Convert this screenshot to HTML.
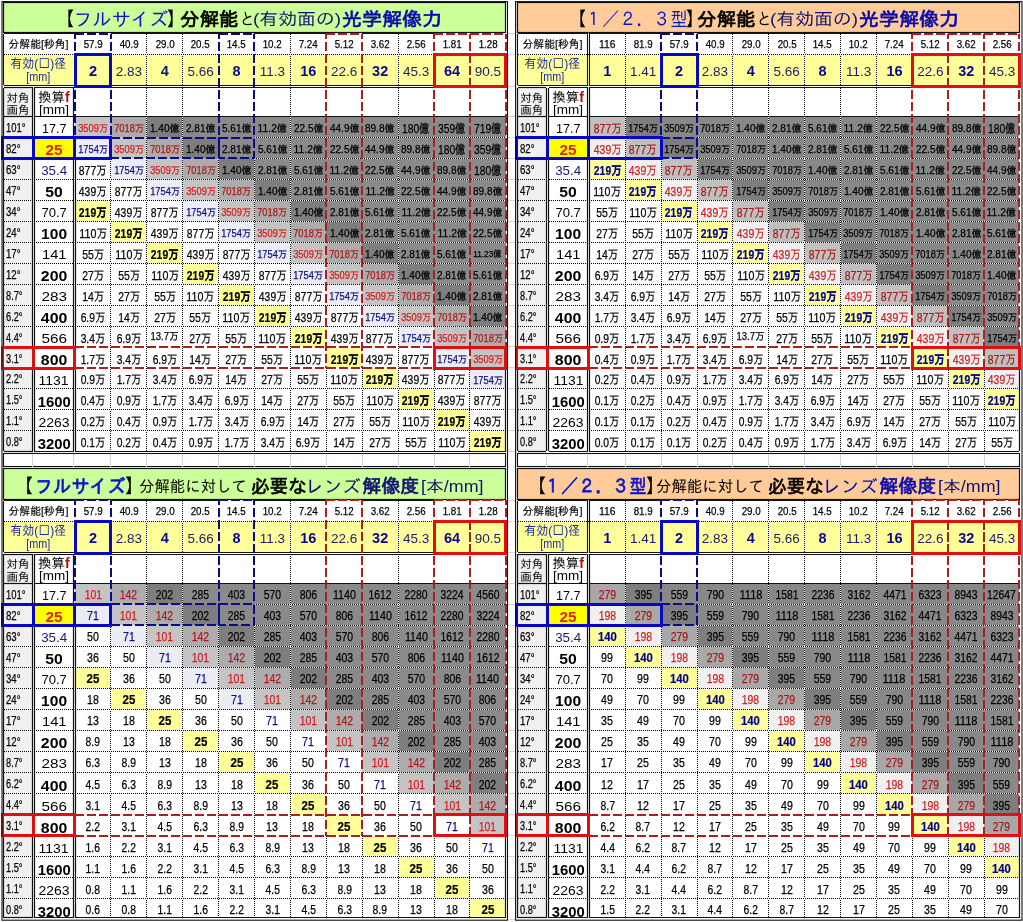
<!DOCTYPE html>
<html lang="ja"><head><meta charset="utf-8"><title>分解能と光学解像力</title>
<style>
html,body{margin:0;padding:0;background:#fff;}
body{width:1023px;height:922px;position:relative;overflow:hidden;font-family:"Liberation Sans","IPAGothic",sans-serif;}
svg{position:absolute;left:0;top:0;}
.t{position:absolute;text-align:center;white-space:nowrap;overflow:visible;color:#000;}
.fit{display:inline-block;transform-origin:50% 50%;white-space:nowrap;}
.d{font-size:12.5px;-webkit-text-stroke:.25px currentColor;}
.d.b{font-weight:bold;-webkit-text-stroke:.2px currentColor;}
.s10{font-size:10px;}
.s11{font-size:10px;}
.r{font-size:11.5px;}
.s9{font-size:10.5px;}
.s8{font-size:9px;}
.dia{font-size:13.5px;color:#1c1c6a;}
.dia.b{font-weight:bold;color:#0a0a90;font-size:14.5px;}
.lab1{font-size:11px;-webkit-text-stroke:.15px #000;}
.lab2{font-size:13px;color:#1a2aa0;}
.sq{font-family:"IPAGothic","Liberation Sans",sans-serif;}
.hd{font-size:11.5px;}
.hd2{font-size:13.5px;}
.f{color:#b01010;font-size:14px;}
.ang{font-size:12px;text-align:left;-webkit-text-stroke:.25px #000;}
.ang .fit{transform-origin:0 50%;}
.fv{font-size:13.5px;}
.fv.b{font-weight:bold;font-size:14.5px;letter-spacing:0;}
.ttl{position:absolute;height:26px;line-height:26px;white-space:nowrap;color:#000;}
.ttl .fit{transform-origin:0 50%;}
</style></head><body>
<svg width="1023" height="922" viewBox="0 0 1023 922">
<line x1="508.00" y1="116.50" x2="515.00" y2="116.50" stroke="#d8d4d8" stroke-width="1"/>
<line x1="1022.00" y1="116.50" x2="1023.00" y2="116.50" stroke="#d8d4d8" stroke-width="1"/>
<line x1="508.00" y1="137.50" x2="515.00" y2="137.50" stroke="#d8d4d8" stroke-width="1"/>
<line x1="1022.00" y1="137.50" x2="1023.00" y2="137.50" stroke="#d8d4d8" stroke-width="1"/>
<line x1="508.00" y1="158.50" x2="515.00" y2="158.50" stroke="#d8d4d8" stroke-width="1"/>
<line x1="1022.00" y1="158.50" x2="1023.00" y2="158.50" stroke="#d8d4d8" stroke-width="1"/>
<line x1="508.00" y1="179.50" x2="515.00" y2="179.50" stroke="#d8d4d8" stroke-width="1"/>
<line x1="1022.00" y1="179.50" x2="1023.00" y2="179.50" stroke="#d8d4d8" stroke-width="1"/>
<line x1="508.00" y1="200.50" x2="515.00" y2="200.50" stroke="#d8d4d8" stroke-width="1"/>
<line x1="1022.00" y1="200.50" x2="1023.00" y2="200.50" stroke="#d8d4d8" stroke-width="1"/>
<line x1="508.00" y1="221.50" x2="515.00" y2="221.50" stroke="#d8d4d8" stroke-width="1"/>
<line x1="1022.00" y1="221.50" x2="1023.00" y2="221.50" stroke="#d8d4d8" stroke-width="1"/>
<line x1="508.00" y1="242.50" x2="515.00" y2="242.50" stroke="#d8d4d8" stroke-width="1"/>
<line x1="1022.00" y1="242.50" x2="1023.00" y2="242.50" stroke="#d8d4d8" stroke-width="1"/>
<line x1="508.00" y1="263.50" x2="515.00" y2="263.50" stroke="#d8d4d8" stroke-width="1"/>
<line x1="1022.00" y1="263.50" x2="1023.00" y2="263.50" stroke="#d8d4d8" stroke-width="1"/>
<line x1="508.00" y1="284.50" x2="515.00" y2="284.50" stroke="#d8d4d8" stroke-width="1"/>
<line x1="1022.00" y1="284.50" x2="1023.00" y2="284.50" stroke="#d8d4d8" stroke-width="1"/>
<line x1="508.00" y1="305.50" x2="515.00" y2="305.50" stroke="#d8d4d8" stroke-width="1"/>
<line x1="1022.00" y1="305.50" x2="1023.00" y2="305.50" stroke="#d8d4d8" stroke-width="1"/>
<line x1="508.00" y1="326.50" x2="515.00" y2="326.50" stroke="#d8d4d8" stroke-width="1"/>
<line x1="1022.00" y1="326.50" x2="1023.00" y2="326.50" stroke="#d8d4d8" stroke-width="1"/>
<line x1="508.00" y1="346.50" x2="515.00" y2="346.50" stroke="#d8d4d8" stroke-width="1"/>
<line x1="1022.00" y1="346.50" x2="1023.00" y2="346.50" stroke="#d8d4d8" stroke-width="1"/>
<line x1="508.00" y1="367.50" x2="515.00" y2="367.50" stroke="#d8d4d8" stroke-width="1"/>
<line x1="1022.00" y1="367.50" x2="1023.00" y2="367.50" stroke="#d8d4d8" stroke-width="1"/>
<line x1="508.00" y1="388.50" x2="515.00" y2="388.50" stroke="#d8d4d8" stroke-width="1"/>
<line x1="1022.00" y1="388.50" x2="1023.00" y2="388.50" stroke="#d8d4d8" stroke-width="1"/>
<line x1="508.00" y1="409.50" x2="515.00" y2="409.50" stroke="#d8d4d8" stroke-width="1"/>
<line x1="1022.00" y1="409.50" x2="1023.00" y2="409.50" stroke="#d8d4d8" stroke-width="1"/>
<line x1="508.00" y1="430.50" x2="515.00" y2="430.50" stroke="#d8d4d8" stroke-width="1"/>
<line x1="1022.00" y1="430.50" x2="1023.00" y2="430.50" stroke="#d8d4d8" stroke-width="1"/>
<line x1="508.00" y1="451.50" x2="515.00" y2="451.50" stroke="#d8d4d8" stroke-width="1"/>
<line x1="1022.00" y1="451.50" x2="1023.00" y2="451.50" stroke="#d8d4d8" stroke-width="1"/>
<line x1="508.00" y1="33.50" x2="515.00" y2="33.50" stroke="#d8d4d8" stroke-width="1"/>
<line x1="1022.00" y1="33.50" x2="1023.00" y2="33.50" stroke="#d8d4d8" stroke-width="1"/>
<line x1="508.00" y1="54.50" x2="515.00" y2="54.50" stroke="#d8d4d8" stroke-width="1"/>
<line x1="1022.00" y1="54.50" x2="1023.00" y2="54.50" stroke="#d8d4d8" stroke-width="1"/>
<line x1="508.00" y1="86.50" x2="515.00" y2="86.50" stroke="#d8d4d8" stroke-width="1"/>
<line x1="1022.00" y1="86.50" x2="1023.00" y2="86.50" stroke="#d8d4d8" stroke-width="1"/>
<line x1="508.00" y1="583.50" x2="515.00" y2="583.50" stroke="#d8d4d8" stroke-width="1"/>
<line x1="1022.00" y1="583.50" x2="1023.00" y2="583.50" stroke="#d8d4d8" stroke-width="1"/>
<line x1="508.00" y1="604.50" x2="515.00" y2="604.50" stroke="#d8d4d8" stroke-width="1"/>
<line x1="1022.00" y1="604.50" x2="1023.00" y2="604.50" stroke="#d8d4d8" stroke-width="1"/>
<line x1="508.00" y1="625.50" x2="515.00" y2="625.50" stroke="#d8d4d8" stroke-width="1"/>
<line x1="1022.00" y1="625.50" x2="1023.00" y2="625.50" stroke="#d8d4d8" stroke-width="1"/>
<line x1="508.00" y1="646.50" x2="515.00" y2="646.50" stroke="#d8d4d8" stroke-width="1"/>
<line x1="1022.00" y1="646.50" x2="1023.00" y2="646.50" stroke="#d8d4d8" stroke-width="1"/>
<line x1="508.00" y1="667.50" x2="515.00" y2="667.50" stroke="#d8d4d8" stroke-width="1"/>
<line x1="1022.00" y1="667.50" x2="1023.00" y2="667.50" stroke="#d8d4d8" stroke-width="1"/>
<line x1="508.00" y1="688.50" x2="515.00" y2="688.50" stroke="#d8d4d8" stroke-width="1"/>
<line x1="1022.00" y1="688.50" x2="1023.00" y2="688.50" stroke="#d8d4d8" stroke-width="1"/>
<line x1="508.00" y1="709.50" x2="515.00" y2="709.50" stroke="#d8d4d8" stroke-width="1"/>
<line x1="1022.00" y1="709.50" x2="1023.00" y2="709.50" stroke="#d8d4d8" stroke-width="1"/>
<line x1="508.00" y1="730.50" x2="515.00" y2="730.50" stroke="#d8d4d8" stroke-width="1"/>
<line x1="1022.00" y1="730.50" x2="1023.00" y2="730.50" stroke="#d8d4d8" stroke-width="1"/>
<line x1="508.00" y1="751.50" x2="515.00" y2="751.50" stroke="#d8d4d8" stroke-width="1"/>
<line x1="1022.00" y1="751.50" x2="1023.00" y2="751.50" stroke="#d8d4d8" stroke-width="1"/>
<line x1="508.00" y1="772.50" x2="515.00" y2="772.50" stroke="#d8d4d8" stroke-width="1"/>
<line x1="1022.00" y1="772.50" x2="1023.00" y2="772.50" stroke="#d8d4d8" stroke-width="1"/>
<line x1="508.00" y1="793.50" x2="515.00" y2="793.50" stroke="#d8d4d8" stroke-width="1"/>
<line x1="1022.00" y1="793.50" x2="1023.00" y2="793.50" stroke="#d8d4d8" stroke-width="1"/>
<line x1="508.00" y1="814.50" x2="515.00" y2="814.50" stroke="#d8d4d8" stroke-width="1"/>
<line x1="1022.00" y1="814.50" x2="1023.00" y2="814.50" stroke="#d8d4d8" stroke-width="1"/>
<line x1="508.00" y1="835.50" x2="515.00" y2="835.50" stroke="#d8d4d8" stroke-width="1"/>
<line x1="1022.00" y1="835.50" x2="1023.00" y2="835.50" stroke="#d8d4d8" stroke-width="1"/>
<line x1="508.00" y1="856.50" x2="515.00" y2="856.50" stroke="#d8d4d8" stroke-width="1"/>
<line x1="1022.00" y1="856.50" x2="1023.00" y2="856.50" stroke="#d8d4d8" stroke-width="1"/>
<line x1="508.00" y1="877.50" x2="515.00" y2="877.50" stroke="#d8d4d8" stroke-width="1"/>
<line x1="1022.00" y1="877.50" x2="1023.00" y2="877.50" stroke="#d8d4d8" stroke-width="1"/>
<line x1="508.00" y1="898.50" x2="515.00" y2="898.50" stroke="#d8d4d8" stroke-width="1"/>
<line x1="1022.00" y1="898.50" x2="1023.00" y2="898.50" stroke="#d8d4d8" stroke-width="1"/>
<line x1="508.00" y1="919.50" x2="515.00" y2="919.50" stroke="#d8d4d8" stroke-width="1"/>
<line x1="1022.00" y1="919.50" x2="1023.00" y2="919.50" stroke="#d8d4d8" stroke-width="1"/>
<line x1="508.00" y1="500.50" x2="515.00" y2="500.50" stroke="#d8d4d8" stroke-width="1"/>
<line x1="1022.00" y1="500.50" x2="1023.00" y2="500.50" stroke="#d8d4d8" stroke-width="1"/>
<line x1="508.00" y1="521.50" x2="515.00" y2="521.50" stroke="#d8d4d8" stroke-width="1"/>
<line x1="1022.00" y1="521.50" x2="1023.00" y2="521.50" stroke="#d8d4d8" stroke-width="1"/>
<line x1="508.00" y1="552.50" x2="515.00" y2="552.50" stroke="#d8d4d8" stroke-width="1"/>
<line x1="1022.00" y1="552.50" x2="1023.00" y2="552.50" stroke="#d8d4d8" stroke-width="1"/>
<rect x="3.00" y="2.00" width="503.00" height="30.00" fill="#ccff99"/>
<rect x="4.00" y="54.00" width="502.00" height="31.00" fill="#ffff99"/>
<rect x="4.00" y="88.00" width="29.00" height="363.00" fill="#f0f0f0"/>
<rect x="75.00" y="116.00" width="36.00" height="21.00" fill="#c4c4c4"/>
<rect x="111.00" y="116.00" width="36.00" height="21.00" fill="#acacac"/>
<rect x="147.00" y="116.00" width="36.00" height="21.00" fill="#7e7e7e"/>
<rect x="183.00" y="116.00" width="36.00" height="21.00" fill="#8a8a8a"/>
<rect x="219.00" y="116.00" width="35.00" height="21.00" fill="#8a8a8a"/>
<rect x="254.00" y="116.00" width="36.00" height="21.00" fill="#8a8a8a"/>
<rect x="290.00" y="116.00" width="36.00" height="21.00" fill="#8a8a8a"/>
<rect x="326.00" y="116.00" width="36.00" height="21.00" fill="#8a8a8a"/>
<rect x="362.00" y="116.00" width="36.00" height="21.00" fill="#8a8a8a"/>
<rect x="398.00" y="116.00" width="36.00" height="21.00" fill="#8a8a8a"/>
<rect x="434.00" y="116.00" width="36.00" height="21.00" fill="#8a8a8a"/>
<rect x="470.00" y="116.00" width="36.00" height="21.00" fill="#8a8a8a"/>
<rect x="75.00" y="137.00" width="36.00" height="21.00" fill="#ececf5"/>
<rect x="111.00" y="137.00" width="36.00" height="21.00" fill="#c4c4c4"/>
<rect x="147.00" y="137.00" width="36.00" height="21.00" fill="#acacac"/>
<rect x="183.00" y="137.00" width="36.00" height="21.00" fill="#7e7e7e"/>
<rect x="219.00" y="137.00" width="35.00" height="21.00" fill="#8a8a8a"/>
<rect x="254.00" y="137.00" width="36.00" height="21.00" fill="#8a8a8a"/>
<rect x="290.00" y="137.00" width="36.00" height="21.00" fill="#8a8a8a"/>
<rect x="326.00" y="137.00" width="36.00" height="21.00" fill="#8a8a8a"/>
<rect x="362.00" y="137.00" width="36.00" height="21.00" fill="#8a8a8a"/>
<rect x="398.00" y="137.00" width="36.00" height="21.00" fill="#8a8a8a"/>
<rect x="434.00" y="137.00" width="36.00" height="21.00" fill="#8a8a8a"/>
<rect x="470.00" y="137.00" width="36.00" height="21.00" fill="#8a8a8a"/>
<rect x="111.00" y="158.00" width="36.00" height="21.00" fill="#ececf5"/>
<rect x="147.00" y="158.00" width="36.00" height="21.00" fill="#c4c4c4"/>
<rect x="183.00" y="158.00" width="36.00" height="21.00" fill="#acacac"/>
<rect x="219.00" y="158.00" width="35.00" height="21.00" fill="#7e7e7e"/>
<rect x="254.00" y="158.00" width="36.00" height="21.00" fill="#8a8a8a"/>
<rect x="290.00" y="158.00" width="36.00" height="21.00" fill="#8a8a8a"/>
<rect x="326.00" y="158.00" width="36.00" height="21.00" fill="#8a8a8a"/>
<rect x="362.00" y="158.00" width="36.00" height="21.00" fill="#8a8a8a"/>
<rect x="398.00" y="158.00" width="36.00" height="21.00" fill="#8a8a8a"/>
<rect x="434.00" y="158.00" width="36.00" height="21.00" fill="#8a8a8a"/>
<rect x="470.00" y="158.00" width="36.00" height="21.00" fill="#8a8a8a"/>
<rect x="147.00" y="179.00" width="36.00" height="21.00" fill="#ececf5"/>
<rect x="183.00" y="179.00" width="36.00" height="21.00" fill="#c4c4c4"/>
<rect x="219.00" y="179.00" width="35.00" height="21.00" fill="#acacac"/>
<rect x="254.00" y="179.00" width="36.00" height="21.00" fill="#7e7e7e"/>
<rect x="290.00" y="179.00" width="36.00" height="21.00" fill="#8a8a8a"/>
<rect x="326.00" y="179.00" width="36.00" height="21.00" fill="#8a8a8a"/>
<rect x="362.00" y="179.00" width="36.00" height="21.00" fill="#8a8a8a"/>
<rect x="398.00" y="179.00" width="36.00" height="21.00" fill="#8a8a8a"/>
<rect x="434.00" y="179.00" width="36.00" height="21.00" fill="#8a8a8a"/>
<rect x="470.00" y="179.00" width="36.00" height="21.00" fill="#8a8a8a"/>
<rect x="75.00" y="200.00" width="36.00" height="21.00" fill="#ffff99"/>
<rect x="183.00" y="200.00" width="36.00" height="21.00" fill="#ececf5"/>
<rect x="219.00" y="200.00" width="35.00" height="21.00" fill="#c4c4c4"/>
<rect x="254.00" y="200.00" width="36.00" height="21.00" fill="#acacac"/>
<rect x="290.00" y="200.00" width="36.00" height="21.00" fill="#7e7e7e"/>
<rect x="326.00" y="200.00" width="36.00" height="21.00" fill="#8a8a8a"/>
<rect x="362.00" y="200.00" width="36.00" height="21.00" fill="#8a8a8a"/>
<rect x="398.00" y="200.00" width="36.00" height="21.00" fill="#8a8a8a"/>
<rect x="434.00" y="200.00" width="36.00" height="21.00" fill="#8a8a8a"/>
<rect x="470.00" y="200.00" width="36.00" height="21.00" fill="#8a8a8a"/>
<rect x="111.00" y="221.00" width="36.00" height="21.00" fill="#ffff99"/>
<rect x="219.00" y="221.00" width="35.00" height="21.00" fill="#ececf5"/>
<rect x="254.00" y="221.00" width="36.00" height="21.00" fill="#c4c4c4"/>
<rect x="290.00" y="221.00" width="36.00" height="21.00" fill="#acacac"/>
<rect x="326.00" y="221.00" width="36.00" height="21.00" fill="#7e7e7e"/>
<rect x="362.00" y="221.00" width="36.00" height="21.00" fill="#8a8a8a"/>
<rect x="398.00" y="221.00" width="36.00" height="21.00" fill="#8a8a8a"/>
<rect x="434.00" y="221.00" width="36.00" height="21.00" fill="#8a8a8a"/>
<rect x="470.00" y="221.00" width="36.00" height="21.00" fill="#8a8a8a"/>
<rect x="147.00" y="242.00" width="36.00" height="21.00" fill="#ffff99"/>
<rect x="254.00" y="242.00" width="36.00" height="21.00" fill="#ececf5"/>
<rect x="290.00" y="242.00" width="36.00" height="21.00" fill="#c4c4c4"/>
<rect x="326.00" y="242.00" width="36.00" height="21.00" fill="#acacac"/>
<rect x="362.00" y="242.00" width="36.00" height="21.00" fill="#7e7e7e"/>
<rect x="398.00" y="242.00" width="36.00" height="21.00" fill="#8a8a8a"/>
<rect x="434.00" y="242.00" width="36.00" height="21.00" fill="#8a8a8a"/>
<rect x="470.00" y="242.00" width="36.00" height="21.00" fill="#8a8a8a"/>
<rect x="183.00" y="263.00" width="36.00" height="21.00" fill="#ffff99"/>
<rect x="290.00" y="263.00" width="36.00" height="21.00" fill="#ececf5"/>
<rect x="326.00" y="263.00" width="36.00" height="21.00" fill="#c4c4c4"/>
<rect x="362.00" y="263.00" width="36.00" height="21.00" fill="#acacac"/>
<rect x="398.00" y="263.00" width="36.00" height="21.00" fill="#7e7e7e"/>
<rect x="434.00" y="263.00" width="36.00" height="21.00" fill="#8a8a8a"/>
<rect x="470.00" y="263.00" width="36.00" height="21.00" fill="#8a8a8a"/>
<rect x="219.00" y="284.00" width="35.00" height="21.00" fill="#ffff99"/>
<rect x="326.00" y="284.00" width="36.00" height="21.00" fill="#ececf5"/>
<rect x="362.00" y="284.00" width="36.00" height="21.00" fill="#c4c4c4"/>
<rect x="398.00" y="284.00" width="36.00" height="21.00" fill="#acacac"/>
<rect x="434.00" y="284.00" width="36.00" height="21.00" fill="#7e7e7e"/>
<rect x="470.00" y="284.00" width="36.00" height="21.00" fill="#8a8a8a"/>
<rect x="254.00" y="305.00" width="36.00" height="21.00" fill="#ffff99"/>
<rect x="362.00" y="305.00" width="36.00" height="21.00" fill="#ececf5"/>
<rect x="398.00" y="305.00" width="36.00" height="21.00" fill="#c4c4c4"/>
<rect x="434.00" y="305.00" width="36.00" height="21.00" fill="#acacac"/>
<rect x="470.00" y="305.00" width="36.00" height="21.00" fill="#7e7e7e"/>
<rect x="290.00" y="326.00" width="36.00" height="21.00" fill="#ffff99"/>
<rect x="398.00" y="326.00" width="36.00" height="21.00" fill="#ececf5"/>
<rect x="434.00" y="326.00" width="36.00" height="21.00" fill="#c4c4c4"/>
<rect x="470.00" y="326.00" width="36.00" height="21.00" fill="#acacac"/>
<rect x="326.00" y="347.00" width="36.00" height="21.00" fill="#ffff99"/>
<rect x="434.00" y="347.00" width="36.00" height="21.00" fill="#ececf5"/>
<rect x="470.00" y="347.00" width="36.00" height="21.00" fill="#c4c4c4"/>
<rect x="362.00" y="368.00" width="36.00" height="21.00" fill="#ffff99"/>
<rect x="470.00" y="368.00" width="36.00" height="21.00" fill="#ececf5"/>
<rect x="398.00" y="389.00" width="36.00" height="21.00" fill="#ffff99"/>
<rect x="434.00" y="410.00" width="36.00" height="21.00" fill="#ffff99"/>
<rect x="470.00" y="431.00" width="36.00" height="20.00" fill="#ffff99"/>
<rect x="35.00" y="139.00" width="38.00" height="18.00" fill="#ffff00"/>
<line x1="110.50" y1="159.00" x2="110.50" y2="451.00" stroke="#fff" stroke-width="1"/>
<line x1="110.50" y1="159.00" x2="110.50" y2="451.00" stroke="#000" stroke-width="1" stroke-dasharray="1 1"/>
<line x1="146.50" y1="34.00" x2="146.50" y2="85.00" stroke="#fff" stroke-width="1"/>
<line x1="146.50" y1="34.00" x2="146.50" y2="85.00" stroke="#000" stroke-width="1" stroke-dasharray="1 1"/>
<line x1="146.50" y1="88.00" x2="146.50" y2="451.00" stroke="#fff" stroke-width="1"/>
<line x1="146.50" y1="88.00" x2="146.50" y2="451.00" stroke="#000" stroke-width="1" stroke-dasharray="1 1"/>
<line x1="182.50" y1="34.00" x2="182.50" y2="85.00" stroke="#fff" stroke-width="1"/>
<line x1="182.50" y1="34.00" x2="182.50" y2="85.00" stroke="#000" stroke-width="1" stroke-dasharray="1 1"/>
<line x1="182.50" y1="88.00" x2="182.50" y2="451.00" stroke="#fff" stroke-width="1"/>
<line x1="182.50" y1="88.00" x2="182.50" y2="451.00" stroke="#000" stroke-width="1" stroke-dasharray="1 1"/>
<line x1="218.50" y1="158.00" x2="218.50" y2="451.00" stroke="#fff" stroke-width="1"/>
<line x1="218.50" y1="158.00" x2="218.50" y2="451.00" stroke="#000" stroke-width="1" stroke-dasharray="1 1"/>
<line x1="254.50" y1="158.00" x2="254.50" y2="451.00" stroke="#fff" stroke-width="1"/>
<line x1="254.50" y1="158.00" x2="254.50" y2="451.00" stroke="#000" stroke-width="1" stroke-dasharray="1 1"/>
<line x1="290.50" y1="34.00" x2="290.50" y2="85.00" stroke="#fff" stroke-width="1"/>
<line x1="290.50" y1="34.00" x2="290.50" y2="85.00" stroke="#000" stroke-width="1" stroke-dasharray="1 1"/>
<line x1="290.50" y1="88.00" x2="290.50" y2="451.00" stroke="#fff" stroke-width="1"/>
<line x1="290.50" y1="88.00" x2="290.50" y2="451.00" stroke="#000" stroke-width="1" stroke-dasharray="1 1"/>
<line x1="326.50" y1="368.00" x2="326.50" y2="451.00" stroke="#fff" stroke-width="1"/>
<line x1="326.50" y1="368.00" x2="326.50" y2="451.00" stroke="#000" stroke-width="1" stroke-dasharray="1 1"/>
<line x1="362.50" y1="368.00" x2="362.50" y2="451.00" stroke="#fff" stroke-width="1"/>
<line x1="362.50" y1="368.00" x2="362.50" y2="451.00" stroke="#000" stroke-width="1" stroke-dasharray="1 1"/>
<line x1="398.50" y1="34.00" x2="398.50" y2="85.00" stroke="#fff" stroke-width="1"/>
<line x1="398.50" y1="34.00" x2="398.50" y2="85.00" stroke="#000" stroke-width="1" stroke-dasharray="1 1"/>
<line x1="398.50" y1="88.00" x2="398.50" y2="451.00" stroke="#fff" stroke-width="1"/>
<line x1="398.50" y1="88.00" x2="398.50" y2="451.00" stroke="#000" stroke-width="1" stroke-dasharray="1 1"/>
<line x1="434.50" y1="368.00" x2="434.50" y2="451.00" stroke="#fff" stroke-width="1"/>
<line x1="434.50" y1="368.00" x2="434.50" y2="451.00" stroke="#000" stroke-width="1" stroke-dasharray="1 1"/>
<line x1="469.50" y1="368.00" x2="469.50" y2="451.00" stroke="#fff" stroke-width="1"/>
<line x1="469.50" y1="368.00" x2="469.50" y2="451.00" stroke="#000" stroke-width="1" stroke-dasharray="1 1"/>
<line x1="4.00" y1="54.50" x2="75.00" y2="54.50" stroke="#fff" stroke-width="1"/>
<line x1="4.00" y1="54.50" x2="75.00" y2="54.50" stroke="#000" stroke-width="1" stroke-dasharray="1 1"/>
<line x1="111.00" y1="54.50" x2="434.00" y2="54.50" stroke="#fff" stroke-width="1"/>
<line x1="111.00" y1="54.50" x2="434.00" y2="54.50" stroke="#000" stroke-width="1" stroke-dasharray="1 1"/>
<line x1="254.00" y1="137.50" x2="506.00" y2="137.50" stroke="#fff" stroke-width="1"/>
<line x1="254.00" y1="137.50" x2="506.00" y2="137.50" stroke="#000" stroke-width="1" stroke-dasharray="1 1"/>
<line x1="254.00" y1="158.50" x2="506.00" y2="158.50" stroke="#fff" stroke-width="1"/>
<line x1="254.00" y1="158.50" x2="506.00" y2="158.50" stroke="#000" stroke-width="1" stroke-dasharray="1 1"/>
<line x1="4.00" y1="179.50" x2="33.00" y2="179.50" stroke="#fff" stroke-width="1"/>
<line x1="4.00" y1="179.50" x2="33.00" y2="179.50" stroke="#000" stroke-width="1" stroke-dasharray="1 1"/>
<line x1="34.00" y1="179.50" x2="74.00" y2="179.50" stroke="#fff" stroke-width="1"/>
<line x1="34.00" y1="179.50" x2="74.00" y2="179.50" stroke="#000" stroke-width="1" stroke-dasharray="1 1"/>
<line x1="75.00" y1="179.50" x2="506.00" y2="179.50" stroke="#fff" stroke-width="1"/>
<line x1="75.00" y1="179.50" x2="506.00" y2="179.50" stroke="#000" stroke-width="1" stroke-dasharray="1 1"/>
<line x1="4.00" y1="200.50" x2="33.00" y2="200.50" stroke="#fff" stroke-width="1"/>
<line x1="4.00" y1="200.50" x2="33.00" y2="200.50" stroke="#000" stroke-width="1" stroke-dasharray="1 1"/>
<line x1="34.00" y1="200.50" x2="74.00" y2="200.50" stroke="#fff" stroke-width="1"/>
<line x1="34.00" y1="200.50" x2="74.00" y2="200.50" stroke="#000" stroke-width="1" stroke-dasharray="1 1"/>
<line x1="75.00" y1="200.50" x2="506.00" y2="200.50" stroke="#fff" stroke-width="1"/>
<line x1="75.00" y1="200.50" x2="506.00" y2="200.50" stroke="#000" stroke-width="1" stroke-dasharray="1 1"/>
<line x1="4.00" y1="221.50" x2="33.00" y2="221.50" stroke="#fff" stroke-width="1"/>
<line x1="4.00" y1="221.50" x2="33.00" y2="221.50" stroke="#000" stroke-width="1" stroke-dasharray="1 1"/>
<line x1="34.00" y1="221.50" x2="74.00" y2="221.50" stroke="#fff" stroke-width="1"/>
<line x1="34.00" y1="221.50" x2="74.00" y2="221.50" stroke="#000" stroke-width="1" stroke-dasharray="1 1"/>
<line x1="75.00" y1="221.50" x2="506.00" y2="221.50" stroke="#fff" stroke-width="1"/>
<line x1="75.00" y1="221.50" x2="506.00" y2="221.50" stroke="#000" stroke-width="1" stroke-dasharray="1 1"/>
<line x1="4.00" y1="242.50" x2="33.00" y2="242.50" stroke="#fff" stroke-width="1"/>
<line x1="4.00" y1="242.50" x2="33.00" y2="242.50" stroke="#000" stroke-width="1" stroke-dasharray="1 1"/>
<line x1="34.00" y1="242.50" x2="74.00" y2="242.50" stroke="#fff" stroke-width="1"/>
<line x1="34.00" y1="242.50" x2="74.00" y2="242.50" stroke="#000" stroke-width="1" stroke-dasharray="1 1"/>
<line x1="75.00" y1="242.50" x2="506.00" y2="242.50" stroke="#fff" stroke-width="1"/>
<line x1="75.00" y1="242.50" x2="506.00" y2="242.50" stroke="#000" stroke-width="1" stroke-dasharray="1 1"/>
<line x1="4.00" y1="263.50" x2="33.00" y2="263.50" stroke="#fff" stroke-width="1"/>
<line x1="4.00" y1="263.50" x2="33.00" y2="263.50" stroke="#000" stroke-width="1" stroke-dasharray="1 1"/>
<line x1="34.00" y1="263.50" x2="74.00" y2="263.50" stroke="#fff" stroke-width="1"/>
<line x1="34.00" y1="263.50" x2="74.00" y2="263.50" stroke="#000" stroke-width="1" stroke-dasharray="1 1"/>
<line x1="75.00" y1="263.50" x2="506.00" y2="263.50" stroke="#fff" stroke-width="1"/>
<line x1="75.00" y1="263.50" x2="506.00" y2="263.50" stroke="#000" stroke-width="1" stroke-dasharray="1 1"/>
<line x1="4.00" y1="284.50" x2="33.00" y2="284.50" stroke="#fff" stroke-width="1"/>
<line x1="4.00" y1="284.50" x2="33.00" y2="284.50" stroke="#000" stroke-width="1" stroke-dasharray="1 1"/>
<line x1="34.00" y1="284.50" x2="74.00" y2="284.50" stroke="#fff" stroke-width="1"/>
<line x1="34.00" y1="284.50" x2="74.00" y2="284.50" stroke="#000" stroke-width="1" stroke-dasharray="1 1"/>
<line x1="75.00" y1="284.50" x2="506.00" y2="284.50" stroke="#fff" stroke-width="1"/>
<line x1="75.00" y1="284.50" x2="506.00" y2="284.50" stroke="#000" stroke-width="1" stroke-dasharray="1 1"/>
<line x1="4.00" y1="305.50" x2="33.00" y2="305.50" stroke="#fff" stroke-width="1"/>
<line x1="4.00" y1="305.50" x2="33.00" y2="305.50" stroke="#000" stroke-width="1" stroke-dasharray="1 1"/>
<line x1="34.00" y1="305.50" x2="74.00" y2="305.50" stroke="#fff" stroke-width="1"/>
<line x1="34.00" y1="305.50" x2="74.00" y2="305.50" stroke="#000" stroke-width="1" stroke-dasharray="1 1"/>
<line x1="75.00" y1="305.50" x2="506.00" y2="305.50" stroke="#fff" stroke-width="1"/>
<line x1="75.00" y1="305.50" x2="506.00" y2="305.50" stroke="#000" stroke-width="1" stroke-dasharray="1 1"/>
<line x1="4.00" y1="326.50" x2="33.00" y2="326.50" stroke="#fff" stroke-width="1"/>
<line x1="4.00" y1="326.50" x2="33.00" y2="326.50" stroke="#000" stroke-width="1" stroke-dasharray="1 1"/>
<line x1="34.00" y1="326.50" x2="74.00" y2="326.50" stroke="#fff" stroke-width="1"/>
<line x1="34.00" y1="326.50" x2="74.00" y2="326.50" stroke="#000" stroke-width="1" stroke-dasharray="1 1"/>
<line x1="75.00" y1="326.50" x2="506.00" y2="326.50" stroke="#fff" stroke-width="1"/>
<line x1="75.00" y1="326.50" x2="506.00" y2="326.50" stroke="#000" stroke-width="1" stroke-dasharray="1 1"/>
<line x1="4.00" y1="388.50" x2="33.00" y2="388.50" stroke="#fff" stroke-width="1"/>
<line x1="4.00" y1="388.50" x2="33.00" y2="388.50" stroke="#000" stroke-width="1" stroke-dasharray="1 1"/>
<line x1="34.00" y1="388.50" x2="74.00" y2="388.50" stroke="#fff" stroke-width="1"/>
<line x1="34.00" y1="388.50" x2="74.00" y2="388.50" stroke="#000" stroke-width="1" stroke-dasharray="1 1"/>
<line x1="75.00" y1="388.50" x2="506.00" y2="388.50" stroke="#fff" stroke-width="1"/>
<line x1="75.00" y1="388.50" x2="506.00" y2="388.50" stroke="#000" stroke-width="1" stroke-dasharray="1 1"/>
<line x1="4.00" y1="409.50" x2="33.00" y2="409.50" stroke="#fff" stroke-width="1"/>
<line x1="4.00" y1="409.50" x2="33.00" y2="409.50" stroke="#000" stroke-width="1" stroke-dasharray="1 1"/>
<line x1="34.00" y1="409.50" x2="74.00" y2="409.50" stroke="#fff" stroke-width="1"/>
<line x1="34.00" y1="409.50" x2="74.00" y2="409.50" stroke="#000" stroke-width="1" stroke-dasharray="1 1"/>
<line x1="75.00" y1="409.50" x2="506.00" y2="409.50" stroke="#fff" stroke-width="1"/>
<line x1="75.00" y1="409.50" x2="506.00" y2="409.50" stroke="#000" stroke-width="1" stroke-dasharray="1 1"/>
<line x1="4.00" y1="430.50" x2="33.00" y2="430.50" stroke="#fff" stroke-width="1"/>
<line x1="4.00" y1="430.50" x2="33.00" y2="430.50" stroke="#000" stroke-width="1" stroke-dasharray="1 1"/>
<line x1="34.00" y1="430.50" x2="74.00" y2="430.50" stroke="#fff" stroke-width="1"/>
<line x1="34.00" y1="430.50" x2="74.00" y2="430.50" stroke="#000" stroke-width="1" stroke-dasharray="1 1"/>
<line x1="75.00" y1="430.50" x2="506.00" y2="430.50" stroke="#fff" stroke-width="1"/>
<line x1="75.00" y1="430.50" x2="506.00" y2="430.50" stroke="#000" stroke-width="1" stroke-dasharray="1 1"/>
<rect x="3.50" y="2.50" width="502.00" height="30.00" fill="none" stroke="#111" stroke-width="1.2"/>
<line x1="4.00" y1="33.50" x2="75.00" y2="33.50" stroke="#111" stroke-width="1.1"/>
<line x1="111.00" y1="33.50" x2="219.00" y2="33.50" stroke="#111" stroke-width="1.1"/>
<line x1="254.00" y1="33.50" x2="326.00" y2="33.50" stroke="#111" stroke-width="1.1"/>
<line x1="362.00" y1="33.50" x2="434.00" y2="33.50" stroke="#111" stroke-width="1.1"/>
<line x1="4.00" y1="85.50" x2="75.00" y2="85.50" stroke="#111" stroke-width="1.1"/>
<line x1="111.00" y1="85.50" x2="434.00" y2="85.50" stroke="#111" stroke-width="1.1"/>
<line x1="3.50" y1="34.00" x2="3.50" y2="85.00" stroke="#111" stroke-width="1.1"/>
<line x1="4.00" y1="87.50" x2="33.00" y2="87.50" stroke="#111" stroke-width="1.2"/>
<line x1="4.00" y1="451.50" x2="33.00" y2="451.50" stroke="#111" stroke-width="1.2"/>
<line x1="3.50" y1="88.00" x2="3.50" y2="138.00" stroke="#111" stroke-width="1.2"/>
<line x1="3.50" y1="159.00" x2="3.50" y2="347.00" stroke="#111" stroke-width="1.2"/>
<line x1="3.50" y1="368.00" x2="3.50" y2="451.00" stroke="#111" stroke-width="1.2"/>
<line x1="32.50" y1="88.00" x2="32.50" y2="137.00" stroke="#111" stroke-width="1.2"/>
<line x1="32.50" y1="158.00" x2="32.50" y2="347.00" stroke="#111" stroke-width="1.2"/>
<line x1="32.50" y1="368.00" x2="32.50" y2="451.00" stroke="#111" stroke-width="1.2"/>
<line x1="34.00" y1="87.50" x2="74.00" y2="87.50" stroke="#111" stroke-width="1.2"/>
<line x1="34.00" y1="451.50" x2="74.00" y2="451.50" stroke="#111" stroke-width="1.2"/>
<line x1="34.50" y1="88.00" x2="34.50" y2="137.00" stroke="#111" stroke-width="1.2"/>
<line x1="34.50" y1="158.00" x2="34.50" y2="347.00" stroke="#111" stroke-width="1.2"/>
<line x1="34.50" y1="368.00" x2="34.50" y2="451.00" stroke="#111" stroke-width="1.2"/>
<line x1="73.50" y1="88.00" x2="73.50" y2="137.00" stroke="#111" stroke-width="1.2"/>
<line x1="73.50" y1="158.00" x2="73.50" y2="347.00" stroke="#111" stroke-width="1.2"/>
<line x1="73.50" y1="368.00" x2="73.50" y2="451.00" stroke="#111" stroke-width="1.2"/>
<line x1="111.00" y1="87.50" x2="434.00" y2="87.50" stroke="#111" stroke-width="1.2"/>
<line x1="75.00" y1="451.50" x2="506.00" y2="451.50" stroke="#111" stroke-width="1.2"/>
<line x1="75.50" y1="158.00" x2="75.50" y2="347.00" stroke="#111" stroke-width="1.2"/>
<line x1="75.50" y1="368.00" x2="75.50" y2="451.00" stroke="#111" stroke-width="1.2"/>
<line x1="505.50" y1="368.00" x2="505.50" y2="451.00" stroke="#111" stroke-width="1.2"/>
<line x1="4.00" y1="116.50" x2="33.00" y2="116.50" stroke="#111" stroke-width="1.2"/>
<line x1="34.00" y1="116.50" x2="74.00" y2="116.50" stroke="#111" stroke-width="1.2"/>
<line x1="75.00" y1="116.50" x2="506.00" y2="116.50" stroke="#111" stroke-width="1.2"/>
<line x1="75.00" y1="34.00" x2="75.00" y2="137.00" stroke="#0c0c88" stroke-width="2" stroke-dasharray="9 3" stroke-dashoffset="4"/>
<line x1="111.00" y1="34.00" x2="111.00" y2="137.00" stroke="#0c0c88" stroke-width="2" stroke-dasharray="9 3" stroke-dashoffset="4"/>
<line x1="75.00" y1="34.00" x2="111.00" y2="34.00" stroke="#0c0c88" stroke-width="2" stroke-dasharray="9 3"/>
<line x1="219.00" y1="34.00" x2="219.00" y2="137.00" stroke="#0c0c88" stroke-width="2" stroke-dasharray="9 3" stroke-dashoffset="4"/>
<line x1="254.00" y1="34.00" x2="254.00" y2="137.00" stroke="#0c0c88" stroke-width="2" stroke-dasharray="9 3" stroke-dashoffset="4"/>
<line x1="219.00" y1="34.00" x2="254.00" y2="34.00" stroke="#0c0c88" stroke-width="2" stroke-dasharray="9 3"/>
<rect x="75.50" y="54.50" width="35.00" height="32.00" fill="none" stroke="#0808c4" stroke-width="3"/>
<rect x="111.00" y="138.00" width="108.00" height="20.00" fill="none" stroke="#0c0c88" stroke-width="2" stroke-dasharray="9 3"/>
<rect x="219.00" y="138.00" width="35.00" height="20.00" fill="none" stroke="#0c0c88" stroke-width="2" stroke-dasharray="9 3"/>
<rect x="2.50" y="137.50" width="108.00" height="21.00" fill="none" stroke="#0808c4" stroke-width="3"/>
<line x1="33.50" y1="137.00" x2="33.50" y2="158.00" stroke="#0808c4" stroke-width="3"/>
<line x1="74.50" y1="137.00" x2="74.50" y2="158.00" stroke="#0808c4" stroke-width="3"/>
<line x1="326.00" y1="34.00" x2="326.00" y2="368.00" stroke="#a82020" stroke-width="2" stroke-dasharray="9 3" stroke-dashoffset="4"/>
<line x1="362.00" y1="34.00" x2="362.00" y2="368.00" stroke="#a82020" stroke-width="2" stroke-dasharray="9 3" stroke-dashoffset="4"/>
<line x1="326.00" y1="34.00" x2="362.00" y2="34.00" stroke="#a82020" stroke-width="2" stroke-dasharray="9 3"/>
<line x1="434.00" y1="34.00" x2="434.00" y2="347.00" stroke="#a82020" stroke-width="2" stroke-dasharray="9 3" stroke-dashoffset="4"/>
<line x1="470.00" y1="34.00" x2="470.00" y2="347.00" stroke="#a82020" stroke-width="2" stroke-dasharray="9 3" stroke-dashoffset="4"/>
<line x1="506.00" y1="34.00" x2="506.00" y2="347.00" stroke="#a82020" stroke-width="2" stroke-dasharray="9 3" stroke-dashoffset="4"/>
<line x1="434.00" y1="34.00" x2="506.00" y2="34.00" stroke="#a82020" stroke-width="2" stroke-dasharray="9 3"/>
<line x1="75.00" y1="347.00" x2="434.00" y2="347.00" stroke="#a82020" stroke-width="2" stroke-dasharray="9 3"/>
<line x1="75.00" y1="368.00" x2="434.00" y2="368.00" stroke="#a82020" stroke-width="2" stroke-dasharray="9 3"/>
<rect x="434.50" y="54.50" width="71.00" height="32.00" fill="none" stroke="#e01010" stroke-width="3"/>
<rect x="434.50" y="347.50" width="71.00" height="21.00" fill="none" stroke="#e01010" stroke-width="3"/>
<line x1="470.00" y1="347.00" x2="470.00" y2="368.00" stroke="#a82020" stroke-width="2" stroke-dasharray="9 3"/>
<line x1="470.00" y1="54.00" x2="470.00" y2="85.00" stroke="#a82020" stroke-width="2" stroke-dasharray="9 3"/>
<rect x="2.50" y="347.50" width="72.00" height="21.00" fill="none" stroke="#e01010" stroke-width="3"/>
<line x1="33.50" y1="347.00" x2="33.50" y2="368.00" stroke="#e01010" stroke-width="3"/>
<rect x="3.00" y="469.00" width="503.00" height="30.00" fill="#ccff99"/>
<rect x="4.00" y="521.00" width="502.00" height="31.00" fill="#ffff99"/>
<rect x="4.00" y="554.00" width="29.00" height="364.00" fill="#f0f0f0"/>
<rect x="75.00" y="583.00" width="36.00" height="21.00" fill="#c4c4c4"/>
<rect x="111.00" y="583.00" width="36.00" height="21.00" fill="#acacac"/>
<rect x="147.00" y="583.00" width="36.00" height="21.00" fill="#7e7e7e"/>
<rect x="183.00" y="583.00" width="36.00" height="21.00" fill="#8a8a8a"/>
<rect x="219.00" y="583.00" width="35.00" height="21.00" fill="#8a8a8a"/>
<rect x="254.00" y="583.00" width="36.00" height="21.00" fill="#8a8a8a"/>
<rect x="290.00" y="583.00" width="36.00" height="21.00" fill="#8a8a8a"/>
<rect x="326.00" y="583.00" width="36.00" height="21.00" fill="#8a8a8a"/>
<rect x="362.00" y="583.00" width="36.00" height="21.00" fill="#8a8a8a"/>
<rect x="398.00" y="583.00" width="36.00" height="21.00" fill="#8a8a8a"/>
<rect x="434.00" y="583.00" width="36.00" height="21.00" fill="#8a8a8a"/>
<rect x="470.00" y="583.00" width="36.00" height="21.00" fill="#8a8a8a"/>
<rect x="75.00" y="604.00" width="36.00" height="21.00" fill="#ececf5"/>
<rect x="111.00" y="604.00" width="36.00" height="21.00" fill="#c4c4c4"/>
<rect x="147.00" y="604.00" width="36.00" height="21.00" fill="#acacac"/>
<rect x="183.00" y="604.00" width="36.00" height="21.00" fill="#7e7e7e"/>
<rect x="219.00" y="604.00" width="35.00" height="21.00" fill="#8a8a8a"/>
<rect x="254.00" y="604.00" width="36.00" height="21.00" fill="#8a8a8a"/>
<rect x="290.00" y="604.00" width="36.00" height="21.00" fill="#8a8a8a"/>
<rect x="326.00" y="604.00" width="36.00" height="21.00" fill="#8a8a8a"/>
<rect x="362.00" y="604.00" width="36.00" height="21.00" fill="#8a8a8a"/>
<rect x="398.00" y="604.00" width="36.00" height="21.00" fill="#8a8a8a"/>
<rect x="434.00" y="604.00" width="36.00" height="21.00" fill="#8a8a8a"/>
<rect x="470.00" y="604.00" width="36.00" height="21.00" fill="#8a8a8a"/>
<rect x="111.00" y="625.00" width="36.00" height="21.00" fill="#ececf5"/>
<rect x="147.00" y="625.00" width="36.00" height="21.00" fill="#c4c4c4"/>
<rect x="183.00" y="625.00" width="36.00" height="21.00" fill="#acacac"/>
<rect x="219.00" y="625.00" width="35.00" height="21.00" fill="#7e7e7e"/>
<rect x="254.00" y="625.00" width="36.00" height="21.00" fill="#8a8a8a"/>
<rect x="290.00" y="625.00" width="36.00" height="21.00" fill="#8a8a8a"/>
<rect x="326.00" y="625.00" width="36.00" height="21.00" fill="#8a8a8a"/>
<rect x="362.00" y="625.00" width="36.00" height="21.00" fill="#8a8a8a"/>
<rect x="398.00" y="625.00" width="36.00" height="21.00" fill="#8a8a8a"/>
<rect x="434.00" y="625.00" width="36.00" height="21.00" fill="#8a8a8a"/>
<rect x="470.00" y="625.00" width="36.00" height="21.00" fill="#8a8a8a"/>
<rect x="147.00" y="646.00" width="36.00" height="21.00" fill="#ececf5"/>
<rect x="183.00" y="646.00" width="36.00" height="21.00" fill="#c4c4c4"/>
<rect x="219.00" y="646.00" width="35.00" height="21.00" fill="#acacac"/>
<rect x="254.00" y="646.00" width="36.00" height="21.00" fill="#7e7e7e"/>
<rect x="290.00" y="646.00" width="36.00" height="21.00" fill="#8a8a8a"/>
<rect x="326.00" y="646.00" width="36.00" height="21.00" fill="#8a8a8a"/>
<rect x="362.00" y="646.00" width="36.00" height="21.00" fill="#8a8a8a"/>
<rect x="398.00" y="646.00" width="36.00" height="21.00" fill="#8a8a8a"/>
<rect x="434.00" y="646.00" width="36.00" height="21.00" fill="#8a8a8a"/>
<rect x="470.00" y="646.00" width="36.00" height="21.00" fill="#8a8a8a"/>
<rect x="75.00" y="667.00" width="36.00" height="21.00" fill="#ffff99"/>
<rect x="183.00" y="667.00" width="36.00" height="21.00" fill="#ececf5"/>
<rect x="219.00" y="667.00" width="35.00" height="21.00" fill="#c4c4c4"/>
<rect x="254.00" y="667.00" width="36.00" height="21.00" fill="#acacac"/>
<rect x="290.00" y="667.00" width="36.00" height="21.00" fill="#7e7e7e"/>
<rect x="326.00" y="667.00" width="36.00" height="21.00" fill="#8a8a8a"/>
<rect x="362.00" y="667.00" width="36.00" height="21.00" fill="#8a8a8a"/>
<rect x="398.00" y="667.00" width="36.00" height="21.00" fill="#8a8a8a"/>
<rect x="434.00" y="667.00" width="36.00" height="21.00" fill="#8a8a8a"/>
<rect x="470.00" y="667.00" width="36.00" height="21.00" fill="#8a8a8a"/>
<rect x="111.00" y="688.00" width="36.00" height="21.00" fill="#ffff99"/>
<rect x="219.00" y="688.00" width="35.00" height="21.00" fill="#ececf5"/>
<rect x="254.00" y="688.00" width="36.00" height="21.00" fill="#c4c4c4"/>
<rect x="290.00" y="688.00" width="36.00" height="21.00" fill="#acacac"/>
<rect x="326.00" y="688.00" width="36.00" height="21.00" fill="#7e7e7e"/>
<rect x="362.00" y="688.00" width="36.00" height="21.00" fill="#8a8a8a"/>
<rect x="398.00" y="688.00" width="36.00" height="21.00" fill="#8a8a8a"/>
<rect x="434.00" y="688.00" width="36.00" height="21.00" fill="#8a8a8a"/>
<rect x="470.00" y="688.00" width="36.00" height="21.00" fill="#8a8a8a"/>
<rect x="147.00" y="709.00" width="36.00" height="21.00" fill="#ffff99"/>
<rect x="290.00" y="709.00" width="36.00" height="21.00" fill="#c4c4c4"/>
<rect x="326.00" y="709.00" width="36.00" height="21.00" fill="#acacac"/>
<rect x="362.00" y="709.00" width="36.00" height="21.00" fill="#7e7e7e"/>
<rect x="398.00" y="709.00" width="36.00" height="21.00" fill="#8a8a8a"/>
<rect x="434.00" y="709.00" width="36.00" height="21.00" fill="#8a8a8a"/>
<rect x="470.00" y="709.00" width="36.00" height="21.00" fill="#8a8a8a"/>
<rect x="183.00" y="730.00" width="36.00" height="21.00" fill="#ffff99"/>
<rect x="326.00" y="730.00" width="36.00" height="21.00" fill="#c4c4c4"/>
<rect x="362.00" y="730.00" width="36.00" height="21.00" fill="#acacac"/>
<rect x="398.00" y="730.00" width="36.00" height="21.00" fill="#7e7e7e"/>
<rect x="434.00" y="730.00" width="36.00" height="21.00" fill="#8a8a8a"/>
<rect x="470.00" y="730.00" width="36.00" height="21.00" fill="#8a8a8a"/>
<rect x="219.00" y="751.00" width="35.00" height="21.00" fill="#ffff99"/>
<rect x="362.00" y="751.00" width="36.00" height="21.00" fill="#c4c4c4"/>
<rect x="398.00" y="751.00" width="36.00" height="21.00" fill="#acacac"/>
<rect x="434.00" y="751.00" width="36.00" height="21.00" fill="#7e7e7e"/>
<rect x="470.00" y="751.00" width="36.00" height="21.00" fill="#8a8a8a"/>
<rect x="254.00" y="772.00" width="36.00" height="22.00" fill="#ffff99"/>
<rect x="398.00" y="772.00" width="36.00" height="22.00" fill="#c4c4c4"/>
<rect x="434.00" y="772.00" width="36.00" height="22.00" fill="#acacac"/>
<rect x="470.00" y="772.00" width="36.00" height="22.00" fill="#7e7e7e"/>
<rect x="290.00" y="794.00" width="36.00" height="21.00" fill="#ffff99"/>
<rect x="434.00" y="794.00" width="36.00" height="21.00" fill="#c4c4c4"/>
<rect x="470.00" y="794.00" width="36.00" height="21.00" fill="#acacac"/>
<rect x="326.00" y="815.00" width="36.00" height="21.00" fill="#ffff99"/>
<rect x="470.00" y="815.00" width="36.00" height="21.00" fill="#c4c4c4"/>
<rect x="362.00" y="836.00" width="36.00" height="21.00" fill="#ffff99"/>
<rect x="398.00" y="857.00" width="36.00" height="21.00" fill="#ffff99"/>
<rect x="434.00" y="878.00" width="36.00" height="21.00" fill="#ffff99"/>
<rect x="470.00" y="899.00" width="36.00" height="19.00" fill="#ffff99"/>
<rect x="35.00" y="606.00" width="38.00" height="18.00" fill="#ffff00"/>
<line x1="110.50" y1="625.00" x2="110.50" y2="918.00" stroke="#fff" stroke-width="1"/>
<line x1="110.50" y1="625.00" x2="110.50" y2="918.00" stroke="#000" stroke-width="1" stroke-dasharray="1 1"/>
<line x1="146.50" y1="501.00" x2="146.50" y2="552.00" stroke="#fff" stroke-width="1"/>
<line x1="146.50" y1="501.00" x2="146.50" y2="552.00" stroke="#000" stroke-width="1" stroke-dasharray="1 1"/>
<line x1="146.50" y1="554.00" x2="146.50" y2="918.00" stroke="#fff" stroke-width="1"/>
<line x1="146.50" y1="554.00" x2="146.50" y2="918.00" stroke="#000" stroke-width="1" stroke-dasharray="1 1"/>
<line x1="182.50" y1="501.00" x2="182.50" y2="552.00" stroke="#fff" stroke-width="1"/>
<line x1="182.50" y1="501.00" x2="182.50" y2="552.00" stroke="#000" stroke-width="1" stroke-dasharray="1 1"/>
<line x1="182.50" y1="554.00" x2="182.50" y2="918.00" stroke="#fff" stroke-width="1"/>
<line x1="182.50" y1="554.00" x2="182.50" y2="918.00" stroke="#000" stroke-width="1" stroke-dasharray="1 1"/>
<line x1="218.50" y1="625.00" x2="218.50" y2="918.00" stroke="#fff" stroke-width="1"/>
<line x1="218.50" y1="625.00" x2="218.50" y2="918.00" stroke="#000" stroke-width="1" stroke-dasharray="1 1"/>
<line x1="254.50" y1="625.00" x2="254.50" y2="918.00" stroke="#fff" stroke-width="1"/>
<line x1="254.50" y1="625.00" x2="254.50" y2="918.00" stroke="#000" stroke-width="1" stroke-dasharray="1 1"/>
<line x1="290.50" y1="501.00" x2="290.50" y2="552.00" stroke="#fff" stroke-width="1"/>
<line x1="290.50" y1="501.00" x2="290.50" y2="552.00" stroke="#000" stroke-width="1" stroke-dasharray="1 1"/>
<line x1="290.50" y1="554.00" x2="290.50" y2="918.00" stroke="#fff" stroke-width="1"/>
<line x1="290.50" y1="554.00" x2="290.50" y2="918.00" stroke="#000" stroke-width="1" stroke-dasharray="1 1"/>
<line x1="326.50" y1="836.00" x2="326.50" y2="918.00" stroke="#fff" stroke-width="1"/>
<line x1="326.50" y1="836.00" x2="326.50" y2="918.00" stroke="#000" stroke-width="1" stroke-dasharray="1 1"/>
<line x1="362.50" y1="836.00" x2="362.50" y2="918.00" stroke="#fff" stroke-width="1"/>
<line x1="362.50" y1="836.00" x2="362.50" y2="918.00" stroke="#000" stroke-width="1" stroke-dasharray="1 1"/>
<line x1="398.50" y1="501.00" x2="398.50" y2="552.00" stroke="#fff" stroke-width="1"/>
<line x1="398.50" y1="501.00" x2="398.50" y2="552.00" stroke="#000" stroke-width="1" stroke-dasharray="1 1"/>
<line x1="398.50" y1="554.00" x2="398.50" y2="918.00" stroke="#fff" stroke-width="1"/>
<line x1="398.50" y1="554.00" x2="398.50" y2="918.00" stroke="#000" stroke-width="1" stroke-dasharray="1 1"/>
<line x1="434.50" y1="836.00" x2="434.50" y2="918.00" stroke="#fff" stroke-width="1"/>
<line x1="434.50" y1="836.00" x2="434.50" y2="918.00" stroke="#000" stroke-width="1" stroke-dasharray="1 1"/>
<line x1="469.50" y1="836.00" x2="469.50" y2="918.00" stroke="#fff" stroke-width="1"/>
<line x1="469.50" y1="836.00" x2="469.50" y2="918.00" stroke="#000" stroke-width="1" stroke-dasharray="1 1"/>
<line x1="4.00" y1="521.50" x2="75.00" y2="521.50" stroke="#fff" stroke-width="1"/>
<line x1="4.00" y1="521.50" x2="75.00" y2="521.50" stroke="#000" stroke-width="1" stroke-dasharray="1 1"/>
<line x1="111.00" y1="521.50" x2="434.00" y2="521.50" stroke="#fff" stroke-width="1"/>
<line x1="111.00" y1="521.50" x2="434.00" y2="521.50" stroke="#000" stroke-width="1" stroke-dasharray="1 1"/>
<line x1="254.00" y1="604.50" x2="506.00" y2="604.50" stroke="#fff" stroke-width="1"/>
<line x1="254.00" y1="604.50" x2="506.00" y2="604.50" stroke="#000" stroke-width="1" stroke-dasharray="1 1"/>
<line x1="254.00" y1="625.50" x2="506.00" y2="625.50" stroke="#fff" stroke-width="1"/>
<line x1="254.00" y1="625.50" x2="506.00" y2="625.50" stroke="#000" stroke-width="1" stroke-dasharray="1 1"/>
<line x1="4.00" y1="646.50" x2="33.00" y2="646.50" stroke="#fff" stroke-width="1"/>
<line x1="4.00" y1="646.50" x2="33.00" y2="646.50" stroke="#000" stroke-width="1" stroke-dasharray="1 1"/>
<line x1="34.00" y1="646.50" x2="74.00" y2="646.50" stroke="#fff" stroke-width="1"/>
<line x1="34.00" y1="646.50" x2="74.00" y2="646.50" stroke="#000" stroke-width="1" stroke-dasharray="1 1"/>
<line x1="75.00" y1="646.50" x2="506.00" y2="646.50" stroke="#fff" stroke-width="1"/>
<line x1="75.00" y1="646.50" x2="506.00" y2="646.50" stroke="#000" stroke-width="1" stroke-dasharray="1 1"/>
<line x1="4.00" y1="667.50" x2="33.00" y2="667.50" stroke="#fff" stroke-width="1"/>
<line x1="4.00" y1="667.50" x2="33.00" y2="667.50" stroke="#000" stroke-width="1" stroke-dasharray="1 1"/>
<line x1="34.00" y1="667.50" x2="74.00" y2="667.50" stroke="#fff" stroke-width="1"/>
<line x1="34.00" y1="667.50" x2="74.00" y2="667.50" stroke="#000" stroke-width="1" stroke-dasharray="1 1"/>
<line x1="75.00" y1="667.50" x2="506.00" y2="667.50" stroke="#fff" stroke-width="1"/>
<line x1="75.00" y1="667.50" x2="506.00" y2="667.50" stroke="#000" stroke-width="1" stroke-dasharray="1 1"/>
<line x1="4.00" y1="688.50" x2="33.00" y2="688.50" stroke="#fff" stroke-width="1"/>
<line x1="4.00" y1="688.50" x2="33.00" y2="688.50" stroke="#000" stroke-width="1" stroke-dasharray="1 1"/>
<line x1="34.00" y1="688.50" x2="74.00" y2="688.50" stroke="#fff" stroke-width="1"/>
<line x1="34.00" y1="688.50" x2="74.00" y2="688.50" stroke="#000" stroke-width="1" stroke-dasharray="1 1"/>
<line x1="75.00" y1="688.50" x2="506.00" y2="688.50" stroke="#fff" stroke-width="1"/>
<line x1="75.00" y1="688.50" x2="506.00" y2="688.50" stroke="#000" stroke-width="1" stroke-dasharray="1 1"/>
<line x1="4.00" y1="709.50" x2="33.00" y2="709.50" stroke="#fff" stroke-width="1"/>
<line x1="4.00" y1="709.50" x2="33.00" y2="709.50" stroke="#000" stroke-width="1" stroke-dasharray="1 1"/>
<line x1="34.00" y1="709.50" x2="74.00" y2="709.50" stroke="#fff" stroke-width="1"/>
<line x1="34.00" y1="709.50" x2="74.00" y2="709.50" stroke="#000" stroke-width="1" stroke-dasharray="1 1"/>
<line x1="75.00" y1="709.50" x2="506.00" y2="709.50" stroke="#fff" stroke-width="1"/>
<line x1="75.00" y1="709.50" x2="506.00" y2="709.50" stroke="#000" stroke-width="1" stroke-dasharray="1 1"/>
<line x1="4.00" y1="730.50" x2="33.00" y2="730.50" stroke="#fff" stroke-width="1"/>
<line x1="4.00" y1="730.50" x2="33.00" y2="730.50" stroke="#000" stroke-width="1" stroke-dasharray="1 1"/>
<line x1="34.00" y1="730.50" x2="74.00" y2="730.50" stroke="#fff" stroke-width="1"/>
<line x1="34.00" y1="730.50" x2="74.00" y2="730.50" stroke="#000" stroke-width="1" stroke-dasharray="1 1"/>
<line x1="75.00" y1="730.50" x2="506.00" y2="730.50" stroke="#fff" stroke-width="1"/>
<line x1="75.00" y1="730.50" x2="506.00" y2="730.50" stroke="#000" stroke-width="1" stroke-dasharray="1 1"/>
<line x1="4.00" y1="751.50" x2="33.00" y2="751.50" stroke="#fff" stroke-width="1"/>
<line x1="4.00" y1="751.50" x2="33.00" y2="751.50" stroke="#000" stroke-width="1" stroke-dasharray="1 1"/>
<line x1="34.00" y1="751.50" x2="74.00" y2="751.50" stroke="#fff" stroke-width="1"/>
<line x1="34.00" y1="751.50" x2="74.00" y2="751.50" stroke="#000" stroke-width="1" stroke-dasharray="1 1"/>
<line x1="75.00" y1="751.50" x2="506.00" y2="751.50" stroke="#fff" stroke-width="1"/>
<line x1="75.00" y1="751.50" x2="506.00" y2="751.50" stroke="#000" stroke-width="1" stroke-dasharray="1 1"/>
<line x1="4.00" y1="772.50" x2="33.00" y2="772.50" stroke="#fff" stroke-width="1"/>
<line x1="4.00" y1="772.50" x2="33.00" y2="772.50" stroke="#000" stroke-width="1" stroke-dasharray="1 1"/>
<line x1="34.00" y1="772.50" x2="74.00" y2="772.50" stroke="#fff" stroke-width="1"/>
<line x1="34.00" y1="772.50" x2="74.00" y2="772.50" stroke="#000" stroke-width="1" stroke-dasharray="1 1"/>
<line x1="75.00" y1="772.50" x2="506.00" y2="772.50" stroke="#fff" stroke-width="1"/>
<line x1="75.00" y1="772.50" x2="506.00" y2="772.50" stroke="#000" stroke-width="1" stroke-dasharray="1 1"/>
<line x1="4.00" y1="793.50" x2="33.00" y2="793.50" stroke="#fff" stroke-width="1"/>
<line x1="4.00" y1="793.50" x2="33.00" y2="793.50" stroke="#000" stroke-width="1" stroke-dasharray="1 1"/>
<line x1="34.00" y1="793.50" x2="74.00" y2="793.50" stroke="#fff" stroke-width="1"/>
<line x1="34.00" y1="793.50" x2="74.00" y2="793.50" stroke="#000" stroke-width="1" stroke-dasharray="1 1"/>
<line x1="75.00" y1="793.50" x2="506.00" y2="793.50" stroke="#fff" stroke-width="1"/>
<line x1="75.00" y1="793.50" x2="506.00" y2="793.50" stroke="#000" stroke-width="1" stroke-dasharray="1 1"/>
<line x1="4.00" y1="856.50" x2="33.00" y2="856.50" stroke="#fff" stroke-width="1"/>
<line x1="4.00" y1="856.50" x2="33.00" y2="856.50" stroke="#000" stroke-width="1" stroke-dasharray="1 1"/>
<line x1="34.00" y1="856.50" x2="74.00" y2="856.50" stroke="#fff" stroke-width="1"/>
<line x1="34.00" y1="856.50" x2="74.00" y2="856.50" stroke="#000" stroke-width="1" stroke-dasharray="1 1"/>
<line x1="75.00" y1="856.50" x2="506.00" y2="856.50" stroke="#fff" stroke-width="1"/>
<line x1="75.00" y1="856.50" x2="506.00" y2="856.50" stroke="#000" stroke-width="1" stroke-dasharray="1 1"/>
<line x1="4.00" y1="877.50" x2="33.00" y2="877.50" stroke="#fff" stroke-width="1"/>
<line x1="4.00" y1="877.50" x2="33.00" y2="877.50" stroke="#000" stroke-width="1" stroke-dasharray="1 1"/>
<line x1="34.00" y1="877.50" x2="74.00" y2="877.50" stroke="#fff" stroke-width="1"/>
<line x1="34.00" y1="877.50" x2="74.00" y2="877.50" stroke="#000" stroke-width="1" stroke-dasharray="1 1"/>
<line x1="75.00" y1="877.50" x2="506.00" y2="877.50" stroke="#fff" stroke-width="1"/>
<line x1="75.00" y1="877.50" x2="506.00" y2="877.50" stroke="#000" stroke-width="1" stroke-dasharray="1 1"/>
<line x1="4.00" y1="898.50" x2="33.00" y2="898.50" stroke="#fff" stroke-width="1"/>
<line x1="4.00" y1="898.50" x2="33.00" y2="898.50" stroke="#000" stroke-width="1" stroke-dasharray="1 1"/>
<line x1="34.00" y1="898.50" x2="74.00" y2="898.50" stroke="#fff" stroke-width="1"/>
<line x1="34.00" y1="898.50" x2="74.00" y2="898.50" stroke="#000" stroke-width="1" stroke-dasharray="1 1"/>
<line x1="75.00" y1="898.50" x2="506.00" y2="898.50" stroke="#fff" stroke-width="1"/>
<line x1="75.00" y1="898.50" x2="506.00" y2="898.50" stroke="#000" stroke-width="1" stroke-dasharray="1 1"/>
<rect x="3.50" y="468.50" width="502.00" height="31.00" fill="none" stroke="#111" stroke-width="1.2"/>
<line x1="4.00" y1="500.50" x2="75.00" y2="500.50" stroke="#111" stroke-width="1.1"/>
<line x1="111.00" y1="500.50" x2="219.00" y2="500.50" stroke="#111" stroke-width="1.1"/>
<line x1="254.00" y1="500.50" x2="326.00" y2="500.50" stroke="#111" stroke-width="1.1"/>
<line x1="362.00" y1="500.50" x2="434.00" y2="500.50" stroke="#111" stroke-width="1.1"/>
<line x1="4.00" y1="552.50" x2="75.00" y2="552.50" stroke="#111" stroke-width="1.1"/>
<line x1="111.00" y1="552.50" x2="434.00" y2="552.50" stroke="#111" stroke-width="1.1"/>
<line x1="3.50" y1="501.00" x2="3.50" y2="552.00" stroke="#111" stroke-width="1.1"/>
<line x1="4.00" y1="554.50" x2="33.00" y2="554.50" stroke="#111" stroke-width="1.2"/>
<line x1="4.00" y1="917.50" x2="33.00" y2="917.50" stroke="#111" stroke-width="1.2"/>
<line x1="3.50" y1="554.00" x2="3.50" y2="605.00" stroke="#111" stroke-width="1.2"/>
<line x1="3.50" y1="625.00" x2="3.50" y2="815.00" stroke="#111" stroke-width="1.2"/>
<line x1="3.50" y1="836.00" x2="3.50" y2="918.00" stroke="#111" stroke-width="1.2"/>
<line x1="32.50" y1="554.00" x2="32.50" y2="604.00" stroke="#111" stroke-width="1.2"/>
<line x1="32.50" y1="625.00" x2="32.50" y2="815.00" stroke="#111" stroke-width="1.2"/>
<line x1="32.50" y1="836.00" x2="32.50" y2="918.00" stroke="#111" stroke-width="1.2"/>
<line x1="34.00" y1="554.50" x2="74.00" y2="554.50" stroke="#111" stroke-width="1.2"/>
<line x1="34.00" y1="917.50" x2="74.00" y2="917.50" stroke="#111" stroke-width="1.2"/>
<line x1="34.50" y1="554.00" x2="34.50" y2="604.00" stroke="#111" stroke-width="1.2"/>
<line x1="34.50" y1="625.00" x2="34.50" y2="815.00" stroke="#111" stroke-width="1.2"/>
<line x1="34.50" y1="836.00" x2="34.50" y2="918.00" stroke="#111" stroke-width="1.2"/>
<line x1="73.50" y1="554.00" x2="73.50" y2="604.00" stroke="#111" stroke-width="1.2"/>
<line x1="73.50" y1="625.00" x2="73.50" y2="815.00" stroke="#111" stroke-width="1.2"/>
<line x1="73.50" y1="836.00" x2="73.50" y2="918.00" stroke="#111" stroke-width="1.2"/>
<line x1="111.00" y1="554.50" x2="434.00" y2="554.50" stroke="#111" stroke-width="1.2"/>
<line x1="75.00" y1="917.50" x2="506.00" y2="917.50" stroke="#111" stroke-width="1.2"/>
<line x1="75.50" y1="625.00" x2="75.50" y2="815.00" stroke="#111" stroke-width="1.2"/>
<line x1="75.50" y1="836.00" x2="75.50" y2="918.00" stroke="#111" stroke-width="1.2"/>
<line x1="505.50" y1="836.00" x2="505.50" y2="918.00" stroke="#111" stroke-width="1.2"/>
<line x1="4.00" y1="583.50" x2="33.00" y2="583.50" stroke="#111" stroke-width="1.2"/>
<line x1="34.00" y1="583.50" x2="74.00" y2="583.50" stroke="#111" stroke-width="1.2"/>
<line x1="75.00" y1="583.50" x2="506.00" y2="583.50" stroke="#111" stroke-width="1.2"/>
<line x1="75.00" y1="500.00" x2="75.00" y2="604.00" stroke="#0c0c88" stroke-width="2" stroke-dasharray="9 3" stroke-dashoffset="4"/>
<line x1="111.00" y1="500.00" x2="111.00" y2="604.00" stroke="#0c0c88" stroke-width="2" stroke-dasharray="9 3" stroke-dashoffset="4"/>
<line x1="75.00" y1="500.00" x2="111.00" y2="500.00" stroke="#0c0c88" stroke-width="2" stroke-dasharray="9 3"/>
<line x1="219.00" y1="500.00" x2="219.00" y2="604.00" stroke="#0c0c88" stroke-width="2" stroke-dasharray="9 3" stroke-dashoffset="4"/>
<line x1="254.00" y1="500.00" x2="254.00" y2="604.00" stroke="#0c0c88" stroke-width="2" stroke-dasharray="9 3" stroke-dashoffset="4"/>
<line x1="219.00" y1="500.00" x2="254.00" y2="500.00" stroke="#0c0c88" stroke-width="2" stroke-dasharray="9 3"/>
<rect x="75.50" y="521.50" width="35.00" height="32.00" fill="none" stroke="#0808c4" stroke-width="3"/>
<rect x="111.00" y="604.00" width="108.00" height="21.00" fill="none" stroke="#0c0c88" stroke-width="2" stroke-dasharray="9 3"/>
<rect x="219.00" y="604.00" width="35.00" height="21.00" fill="none" stroke="#0c0c88" stroke-width="2" stroke-dasharray="9 3"/>
<rect x="2.50" y="604.50" width="108.00" height="21.00" fill="none" stroke="#0808c4" stroke-width="3"/>
<line x1="33.50" y1="604.00" x2="33.50" y2="625.00" stroke="#0808c4" stroke-width="3"/>
<line x1="74.50" y1="604.00" x2="74.50" y2="625.00" stroke="#0808c4" stroke-width="3"/>
<line x1="326.00" y1="500.00" x2="326.00" y2="836.00" stroke="#a82020" stroke-width="2" stroke-dasharray="9 3" stroke-dashoffset="4"/>
<line x1="362.00" y1="500.00" x2="362.00" y2="836.00" stroke="#a82020" stroke-width="2" stroke-dasharray="9 3" stroke-dashoffset="4"/>
<line x1="326.00" y1="500.00" x2="362.00" y2="500.00" stroke="#a82020" stroke-width="2" stroke-dasharray="9 3"/>
<line x1="434.00" y1="500.00" x2="434.00" y2="815.00" stroke="#a82020" stroke-width="2" stroke-dasharray="9 3" stroke-dashoffset="4"/>
<line x1="470.00" y1="500.00" x2="470.00" y2="815.00" stroke="#a82020" stroke-width="2" stroke-dasharray="9 3" stroke-dashoffset="4"/>
<line x1="506.00" y1="500.00" x2="506.00" y2="815.00" stroke="#a82020" stroke-width="2" stroke-dasharray="9 3" stroke-dashoffset="4"/>
<line x1="434.00" y1="500.00" x2="506.00" y2="500.00" stroke="#a82020" stroke-width="2" stroke-dasharray="9 3"/>
<line x1="75.00" y1="815.00" x2="434.00" y2="815.00" stroke="#a82020" stroke-width="2" stroke-dasharray="9 3"/>
<line x1="75.00" y1="836.00" x2="434.00" y2="836.00" stroke="#a82020" stroke-width="2" stroke-dasharray="9 3"/>
<rect x="434.50" y="521.50" width="71.00" height="32.00" fill="none" stroke="#e01010" stroke-width="3"/>
<rect x="434.50" y="814.50" width="71.00" height="21.00" fill="none" stroke="#e01010" stroke-width="3"/>
<line x1="470.00" y1="815.00" x2="470.00" y2="836.00" stroke="#a82020" stroke-width="2" stroke-dasharray="9 3"/>
<line x1="470.00" y1="521.00" x2="470.00" y2="552.00" stroke="#a82020" stroke-width="2" stroke-dasharray="9 3"/>
<rect x="2.50" y="814.50" width="72.00" height="21.00" fill="none" stroke="#e01010" stroke-width="3"/>
<line x1="33.50" y1="815.00" x2="33.50" y2="836.00" stroke="#e01010" stroke-width="3"/>
<rect x="517.00" y="2.00" width="503.00" height="30.00" fill="#ffcc99"/>
<rect x="518.00" y="54.00" width="501.00" height="31.00" fill="#ffff99"/>
<rect x="518.00" y="88.00" width="28.00" height="363.00" fill="#f0f0f0"/>
<rect x="589.00" y="116.00" width="36.00" height="21.00" fill="#c0c0c0"/>
<rect x="625.00" y="116.00" width="36.00" height="21.00" fill="#7e7e7e"/>
<rect x="661.00" y="116.00" width="36.00" height="21.00" fill="#888888"/>
<rect x="697.00" y="116.00" width="36.00" height="21.00" fill="#888888"/>
<rect x="733.00" y="116.00" width="36.00" height="21.00" fill="#888888"/>
<rect x="769.00" y="116.00" width="36.00" height="21.00" fill="#888888"/>
<rect x="805.00" y="116.00" width="36.00" height="21.00" fill="#888888"/>
<rect x="841.00" y="116.00" width="35.00" height="21.00" fill="#888888"/>
<rect x="876.00" y="116.00" width="36.00" height="21.00" fill="#888888"/>
<rect x="912.00" y="116.00" width="36.00" height="21.00" fill="#888888"/>
<rect x="948.00" y="116.00" width="36.00" height="21.00" fill="#888888"/>
<rect x="984.00" y="116.00" width="35.00" height="21.00" fill="#888888"/>
<rect x="589.00" y="137.00" width="36.00" height="21.00" fill="#f0f0f0"/>
<rect x="625.00" y="137.00" width="36.00" height="21.00" fill="#c0c0c0"/>
<rect x="661.00" y="137.00" width="36.00" height="21.00" fill="#7e7e7e"/>
<rect x="697.00" y="137.00" width="36.00" height="21.00" fill="#888888"/>
<rect x="733.00" y="137.00" width="36.00" height="21.00" fill="#888888"/>
<rect x="769.00" y="137.00" width="36.00" height="21.00" fill="#888888"/>
<rect x="805.00" y="137.00" width="36.00" height="21.00" fill="#888888"/>
<rect x="841.00" y="137.00" width="35.00" height="21.00" fill="#888888"/>
<rect x="876.00" y="137.00" width="36.00" height="21.00" fill="#888888"/>
<rect x="912.00" y="137.00" width="36.00" height="21.00" fill="#888888"/>
<rect x="948.00" y="137.00" width="36.00" height="21.00" fill="#888888"/>
<rect x="984.00" y="137.00" width="35.00" height="21.00" fill="#888888"/>
<rect x="589.00" y="158.00" width="36.00" height="21.00" fill="#ffff99"/>
<rect x="625.00" y="158.00" width="36.00" height="21.00" fill="#f0f0f0"/>
<rect x="661.00" y="158.00" width="36.00" height="21.00" fill="#c0c0c0"/>
<rect x="697.00" y="158.00" width="36.00" height="21.00" fill="#7e7e7e"/>
<rect x="733.00" y="158.00" width="36.00" height="21.00" fill="#888888"/>
<rect x="769.00" y="158.00" width="36.00" height="21.00" fill="#888888"/>
<rect x="805.00" y="158.00" width="36.00" height="21.00" fill="#888888"/>
<rect x="841.00" y="158.00" width="35.00" height="21.00" fill="#888888"/>
<rect x="876.00" y="158.00" width="36.00" height="21.00" fill="#888888"/>
<rect x="912.00" y="158.00" width="36.00" height="21.00" fill="#888888"/>
<rect x="948.00" y="158.00" width="36.00" height="21.00" fill="#888888"/>
<rect x="984.00" y="158.00" width="35.00" height="21.00" fill="#888888"/>
<rect x="625.00" y="179.00" width="36.00" height="21.00" fill="#ffff99"/>
<rect x="661.00" y="179.00" width="36.00" height="21.00" fill="#f0f0f0"/>
<rect x="697.00" y="179.00" width="36.00" height="21.00" fill="#c0c0c0"/>
<rect x="733.00" y="179.00" width="36.00" height="21.00" fill="#7e7e7e"/>
<rect x="769.00" y="179.00" width="36.00" height="21.00" fill="#888888"/>
<rect x="805.00" y="179.00" width="36.00" height="21.00" fill="#888888"/>
<rect x="841.00" y="179.00" width="35.00" height="21.00" fill="#888888"/>
<rect x="876.00" y="179.00" width="36.00" height="21.00" fill="#888888"/>
<rect x="912.00" y="179.00" width="36.00" height="21.00" fill="#888888"/>
<rect x="948.00" y="179.00" width="36.00" height="21.00" fill="#888888"/>
<rect x="984.00" y="179.00" width="35.00" height="21.00" fill="#888888"/>
<rect x="661.00" y="200.00" width="36.00" height="21.00" fill="#ffff99"/>
<rect x="697.00" y="200.00" width="36.00" height="21.00" fill="#f0f0f0"/>
<rect x="733.00" y="200.00" width="36.00" height="21.00" fill="#c0c0c0"/>
<rect x="769.00" y="200.00" width="36.00" height="21.00" fill="#7e7e7e"/>
<rect x="805.00" y="200.00" width="36.00" height="21.00" fill="#888888"/>
<rect x="841.00" y="200.00" width="35.00" height="21.00" fill="#888888"/>
<rect x="876.00" y="200.00" width="36.00" height="21.00" fill="#888888"/>
<rect x="912.00" y="200.00" width="36.00" height="21.00" fill="#888888"/>
<rect x="948.00" y="200.00" width="36.00" height="21.00" fill="#888888"/>
<rect x="984.00" y="200.00" width="35.00" height="21.00" fill="#888888"/>
<rect x="697.00" y="221.00" width="36.00" height="21.00" fill="#ffff99"/>
<rect x="733.00" y="221.00" width="36.00" height="21.00" fill="#f0f0f0"/>
<rect x="769.00" y="221.00" width="36.00" height="21.00" fill="#c0c0c0"/>
<rect x="805.00" y="221.00" width="36.00" height="21.00" fill="#7e7e7e"/>
<rect x="841.00" y="221.00" width="35.00" height="21.00" fill="#888888"/>
<rect x="876.00" y="221.00" width="36.00" height="21.00" fill="#888888"/>
<rect x="912.00" y="221.00" width="36.00" height="21.00" fill="#888888"/>
<rect x="948.00" y="221.00" width="36.00" height="21.00" fill="#888888"/>
<rect x="984.00" y="221.00" width="35.00" height="21.00" fill="#888888"/>
<rect x="733.00" y="242.00" width="36.00" height="21.00" fill="#ffff99"/>
<rect x="769.00" y="242.00" width="36.00" height="21.00" fill="#f0f0f0"/>
<rect x="805.00" y="242.00" width="36.00" height="21.00" fill="#c0c0c0"/>
<rect x="841.00" y="242.00" width="35.00" height="21.00" fill="#7e7e7e"/>
<rect x="876.00" y="242.00" width="36.00" height="21.00" fill="#888888"/>
<rect x="912.00" y="242.00" width="36.00" height="21.00" fill="#888888"/>
<rect x="948.00" y="242.00" width="36.00" height="21.00" fill="#888888"/>
<rect x="984.00" y="242.00" width="35.00" height="21.00" fill="#888888"/>
<rect x="769.00" y="263.00" width="36.00" height="21.00" fill="#ffff99"/>
<rect x="805.00" y="263.00" width="36.00" height="21.00" fill="#f0f0f0"/>
<rect x="841.00" y="263.00" width="35.00" height="21.00" fill="#c0c0c0"/>
<rect x="876.00" y="263.00" width="36.00" height="21.00" fill="#7e7e7e"/>
<rect x="912.00" y="263.00" width="36.00" height="21.00" fill="#888888"/>
<rect x="948.00" y="263.00" width="36.00" height="21.00" fill="#888888"/>
<rect x="984.00" y="263.00" width="35.00" height="21.00" fill="#888888"/>
<rect x="805.00" y="284.00" width="36.00" height="21.00" fill="#ffff99"/>
<rect x="841.00" y="284.00" width="35.00" height="21.00" fill="#f0f0f0"/>
<rect x="876.00" y="284.00" width="36.00" height="21.00" fill="#c0c0c0"/>
<rect x="912.00" y="284.00" width="36.00" height="21.00" fill="#7e7e7e"/>
<rect x="948.00" y="284.00" width="36.00" height="21.00" fill="#888888"/>
<rect x="984.00" y="284.00" width="35.00" height="21.00" fill="#888888"/>
<rect x="841.00" y="305.00" width="35.00" height="21.00" fill="#ffff99"/>
<rect x="876.00" y="305.00" width="36.00" height="21.00" fill="#f0f0f0"/>
<rect x="912.00" y="305.00" width="36.00" height="21.00" fill="#c0c0c0"/>
<rect x="948.00" y="305.00" width="36.00" height="21.00" fill="#7e7e7e"/>
<rect x="984.00" y="305.00" width="35.00" height="21.00" fill="#888888"/>
<rect x="876.00" y="326.00" width="36.00" height="21.00" fill="#ffff99"/>
<rect x="912.00" y="326.00" width="36.00" height="21.00" fill="#f0f0f0"/>
<rect x="948.00" y="326.00" width="36.00" height="21.00" fill="#c0c0c0"/>
<rect x="984.00" y="326.00" width="35.00" height="21.00" fill="#7e7e7e"/>
<rect x="912.00" y="347.00" width="36.00" height="21.00" fill="#ffff99"/>
<rect x="948.00" y="347.00" width="36.00" height="21.00" fill="#f0f0f0"/>
<rect x="984.00" y="347.00" width="35.00" height="21.00" fill="#c0c0c0"/>
<rect x="948.00" y="368.00" width="36.00" height="21.00" fill="#ffff99"/>
<rect x="984.00" y="368.00" width="35.00" height="21.00" fill="#f0f0f0"/>
<rect x="984.00" y="389.00" width="35.00" height="21.00" fill="#ffff99"/>
<rect x="549.00" y="139.00" width="38.00" height="18.00" fill="#ffff00"/>
<line x1="625.50" y1="34.00" x2="625.50" y2="85.00" stroke="#fff" stroke-width="1"/>
<line x1="625.50" y1="34.00" x2="625.50" y2="85.00" stroke="#000" stroke-width="1" stroke-dasharray="1 1"/>
<line x1="625.50" y1="88.00" x2="625.50" y2="451.00" stroke="#fff" stroke-width="1"/>
<line x1="625.50" y1="88.00" x2="625.50" y2="451.00" stroke="#000" stroke-width="1" stroke-dasharray="1 1"/>
<line x1="661.50" y1="159.00" x2="661.50" y2="451.00" stroke="#fff" stroke-width="1"/>
<line x1="661.50" y1="159.00" x2="661.50" y2="451.00" stroke="#000" stroke-width="1" stroke-dasharray="1 1"/>
<line x1="697.50" y1="158.00" x2="697.50" y2="451.00" stroke="#fff" stroke-width="1"/>
<line x1="697.50" y1="158.00" x2="697.50" y2="451.00" stroke="#000" stroke-width="1" stroke-dasharray="1 1"/>
<line x1="732.50" y1="34.00" x2="732.50" y2="85.00" stroke="#fff" stroke-width="1"/>
<line x1="732.50" y1="34.00" x2="732.50" y2="85.00" stroke="#000" stroke-width="1" stroke-dasharray="1 1"/>
<line x1="732.50" y1="88.00" x2="732.50" y2="451.00" stroke="#fff" stroke-width="1"/>
<line x1="732.50" y1="88.00" x2="732.50" y2="451.00" stroke="#000" stroke-width="1" stroke-dasharray="1 1"/>
<line x1="768.50" y1="34.00" x2="768.50" y2="85.00" stroke="#fff" stroke-width="1"/>
<line x1="768.50" y1="34.00" x2="768.50" y2="85.00" stroke="#000" stroke-width="1" stroke-dasharray="1 1"/>
<line x1="768.50" y1="88.00" x2="768.50" y2="451.00" stroke="#fff" stroke-width="1"/>
<line x1="768.50" y1="88.00" x2="768.50" y2="451.00" stroke="#000" stroke-width="1" stroke-dasharray="1 1"/>
<line x1="804.50" y1="34.00" x2="804.50" y2="85.00" stroke="#fff" stroke-width="1"/>
<line x1="804.50" y1="34.00" x2="804.50" y2="85.00" stroke="#000" stroke-width="1" stroke-dasharray="1 1"/>
<line x1="804.50" y1="88.00" x2="804.50" y2="451.00" stroke="#fff" stroke-width="1"/>
<line x1="804.50" y1="88.00" x2="804.50" y2="451.00" stroke="#000" stroke-width="1" stroke-dasharray="1 1"/>
<line x1="840.50" y1="34.00" x2="840.50" y2="85.00" stroke="#fff" stroke-width="1"/>
<line x1="840.50" y1="34.00" x2="840.50" y2="85.00" stroke="#000" stroke-width="1" stroke-dasharray="1 1"/>
<line x1="840.50" y1="88.00" x2="840.50" y2="451.00" stroke="#fff" stroke-width="1"/>
<line x1="840.50" y1="88.00" x2="840.50" y2="451.00" stroke="#000" stroke-width="1" stroke-dasharray="1 1"/>
<line x1="876.50" y1="34.00" x2="876.50" y2="85.00" stroke="#fff" stroke-width="1"/>
<line x1="876.50" y1="34.00" x2="876.50" y2="85.00" stroke="#000" stroke-width="1" stroke-dasharray="1 1"/>
<line x1="876.50" y1="88.00" x2="876.50" y2="451.00" stroke="#fff" stroke-width="1"/>
<line x1="876.50" y1="88.00" x2="876.50" y2="451.00" stroke="#000" stroke-width="1" stroke-dasharray="1 1"/>
<line x1="912.50" y1="368.00" x2="912.50" y2="451.00" stroke="#fff" stroke-width="1"/>
<line x1="912.50" y1="368.00" x2="912.50" y2="451.00" stroke="#000" stroke-width="1" stroke-dasharray="1 1"/>
<line x1="948.50" y1="368.00" x2="948.50" y2="451.00" stroke="#fff" stroke-width="1"/>
<line x1="948.50" y1="368.00" x2="948.50" y2="451.00" stroke="#000" stroke-width="1" stroke-dasharray="1 1"/>
<line x1="984.50" y1="368.00" x2="984.50" y2="451.00" stroke="#fff" stroke-width="1"/>
<line x1="984.50" y1="368.00" x2="984.50" y2="451.00" stroke="#000" stroke-width="1" stroke-dasharray="1 1"/>
<line x1="518.00" y1="54.50" x2="661.00" y2="54.50" stroke="#fff" stroke-width="1"/>
<line x1="518.00" y1="54.50" x2="661.00" y2="54.50" stroke="#000" stroke-width="1" stroke-dasharray="1 1"/>
<line x1="697.00" y1="54.50" x2="912.00" y2="54.50" stroke="#fff" stroke-width="1"/>
<line x1="697.00" y1="54.50" x2="912.00" y2="54.50" stroke="#000" stroke-width="1" stroke-dasharray="1 1"/>
<line x1="697.00" y1="137.50" x2="1019.00" y2="137.50" stroke="#fff" stroke-width="1"/>
<line x1="697.00" y1="137.50" x2="1019.00" y2="137.50" stroke="#000" stroke-width="1" stroke-dasharray="1 1"/>
<line x1="697.00" y1="158.50" x2="1019.00" y2="158.50" stroke="#fff" stroke-width="1"/>
<line x1="697.00" y1="158.50" x2="1019.00" y2="158.50" stroke="#000" stroke-width="1" stroke-dasharray="1 1"/>
<line x1="518.00" y1="179.50" x2="546.00" y2="179.50" stroke="#fff" stroke-width="1"/>
<line x1="518.00" y1="179.50" x2="546.00" y2="179.50" stroke="#000" stroke-width="1" stroke-dasharray="1 1"/>
<line x1="549.00" y1="179.50" x2="588.00" y2="179.50" stroke="#fff" stroke-width="1"/>
<line x1="549.00" y1="179.50" x2="588.00" y2="179.50" stroke="#000" stroke-width="1" stroke-dasharray="1 1"/>
<line x1="589.00" y1="179.50" x2="1019.00" y2="179.50" stroke="#fff" stroke-width="1"/>
<line x1="589.00" y1="179.50" x2="1019.00" y2="179.50" stroke="#000" stroke-width="1" stroke-dasharray="1 1"/>
<line x1="518.00" y1="200.50" x2="546.00" y2="200.50" stroke="#fff" stroke-width="1"/>
<line x1="518.00" y1="200.50" x2="546.00" y2="200.50" stroke="#000" stroke-width="1" stroke-dasharray="1 1"/>
<line x1="549.00" y1="200.50" x2="588.00" y2="200.50" stroke="#fff" stroke-width="1"/>
<line x1="549.00" y1="200.50" x2="588.00" y2="200.50" stroke="#000" stroke-width="1" stroke-dasharray="1 1"/>
<line x1="589.00" y1="200.50" x2="1019.00" y2="200.50" stroke="#fff" stroke-width="1"/>
<line x1="589.00" y1="200.50" x2="1019.00" y2="200.50" stroke="#000" stroke-width="1" stroke-dasharray="1 1"/>
<line x1="518.00" y1="221.50" x2="546.00" y2="221.50" stroke="#fff" stroke-width="1"/>
<line x1="518.00" y1="221.50" x2="546.00" y2="221.50" stroke="#000" stroke-width="1" stroke-dasharray="1 1"/>
<line x1="549.00" y1="221.50" x2="588.00" y2="221.50" stroke="#fff" stroke-width="1"/>
<line x1="549.00" y1="221.50" x2="588.00" y2="221.50" stroke="#000" stroke-width="1" stroke-dasharray="1 1"/>
<line x1="589.00" y1="221.50" x2="1019.00" y2="221.50" stroke="#fff" stroke-width="1"/>
<line x1="589.00" y1="221.50" x2="1019.00" y2="221.50" stroke="#000" stroke-width="1" stroke-dasharray="1 1"/>
<line x1="518.00" y1="242.50" x2="546.00" y2="242.50" stroke="#fff" stroke-width="1"/>
<line x1="518.00" y1="242.50" x2="546.00" y2="242.50" stroke="#000" stroke-width="1" stroke-dasharray="1 1"/>
<line x1="549.00" y1="242.50" x2="588.00" y2="242.50" stroke="#fff" stroke-width="1"/>
<line x1="549.00" y1="242.50" x2="588.00" y2="242.50" stroke="#000" stroke-width="1" stroke-dasharray="1 1"/>
<line x1="589.00" y1="242.50" x2="1019.00" y2="242.50" stroke="#fff" stroke-width="1"/>
<line x1="589.00" y1="242.50" x2="1019.00" y2="242.50" stroke="#000" stroke-width="1" stroke-dasharray="1 1"/>
<line x1="518.00" y1="263.50" x2="546.00" y2="263.50" stroke="#fff" stroke-width="1"/>
<line x1="518.00" y1="263.50" x2="546.00" y2="263.50" stroke="#000" stroke-width="1" stroke-dasharray="1 1"/>
<line x1="549.00" y1="263.50" x2="588.00" y2="263.50" stroke="#fff" stroke-width="1"/>
<line x1="549.00" y1="263.50" x2="588.00" y2="263.50" stroke="#000" stroke-width="1" stroke-dasharray="1 1"/>
<line x1="589.00" y1="263.50" x2="1019.00" y2="263.50" stroke="#fff" stroke-width="1"/>
<line x1="589.00" y1="263.50" x2="1019.00" y2="263.50" stroke="#000" stroke-width="1" stroke-dasharray="1 1"/>
<line x1="518.00" y1="284.50" x2="546.00" y2="284.50" stroke="#fff" stroke-width="1"/>
<line x1="518.00" y1="284.50" x2="546.00" y2="284.50" stroke="#000" stroke-width="1" stroke-dasharray="1 1"/>
<line x1="549.00" y1="284.50" x2="588.00" y2="284.50" stroke="#fff" stroke-width="1"/>
<line x1="549.00" y1="284.50" x2="588.00" y2="284.50" stroke="#000" stroke-width="1" stroke-dasharray="1 1"/>
<line x1="589.00" y1="284.50" x2="1019.00" y2="284.50" stroke="#fff" stroke-width="1"/>
<line x1="589.00" y1="284.50" x2="1019.00" y2="284.50" stroke="#000" stroke-width="1" stroke-dasharray="1 1"/>
<line x1="518.00" y1="305.50" x2="546.00" y2="305.50" stroke="#fff" stroke-width="1"/>
<line x1="518.00" y1="305.50" x2="546.00" y2="305.50" stroke="#000" stroke-width="1" stroke-dasharray="1 1"/>
<line x1="549.00" y1="305.50" x2="588.00" y2="305.50" stroke="#fff" stroke-width="1"/>
<line x1="549.00" y1="305.50" x2="588.00" y2="305.50" stroke="#000" stroke-width="1" stroke-dasharray="1 1"/>
<line x1="589.00" y1="305.50" x2="1019.00" y2="305.50" stroke="#fff" stroke-width="1"/>
<line x1="589.00" y1="305.50" x2="1019.00" y2="305.50" stroke="#000" stroke-width="1" stroke-dasharray="1 1"/>
<line x1="518.00" y1="326.50" x2="546.00" y2="326.50" stroke="#fff" stroke-width="1"/>
<line x1="518.00" y1="326.50" x2="546.00" y2="326.50" stroke="#000" stroke-width="1" stroke-dasharray="1 1"/>
<line x1="549.00" y1="326.50" x2="588.00" y2="326.50" stroke="#fff" stroke-width="1"/>
<line x1="549.00" y1="326.50" x2="588.00" y2="326.50" stroke="#000" stroke-width="1" stroke-dasharray="1 1"/>
<line x1="589.00" y1="326.50" x2="1019.00" y2="326.50" stroke="#fff" stroke-width="1"/>
<line x1="589.00" y1="326.50" x2="1019.00" y2="326.50" stroke="#000" stroke-width="1" stroke-dasharray="1 1"/>
<line x1="518.00" y1="388.50" x2="546.00" y2="388.50" stroke="#fff" stroke-width="1"/>
<line x1="518.00" y1="388.50" x2="546.00" y2="388.50" stroke="#000" stroke-width="1" stroke-dasharray="1 1"/>
<line x1="549.00" y1="388.50" x2="588.00" y2="388.50" stroke="#fff" stroke-width="1"/>
<line x1="549.00" y1="388.50" x2="588.00" y2="388.50" stroke="#000" stroke-width="1" stroke-dasharray="1 1"/>
<line x1="589.00" y1="388.50" x2="1019.00" y2="388.50" stroke="#fff" stroke-width="1"/>
<line x1="589.00" y1="388.50" x2="1019.00" y2="388.50" stroke="#000" stroke-width="1" stroke-dasharray="1 1"/>
<line x1="518.00" y1="409.50" x2="546.00" y2="409.50" stroke="#fff" stroke-width="1"/>
<line x1="518.00" y1="409.50" x2="546.00" y2="409.50" stroke="#000" stroke-width="1" stroke-dasharray="1 1"/>
<line x1="549.00" y1="409.50" x2="588.00" y2="409.50" stroke="#fff" stroke-width="1"/>
<line x1="549.00" y1="409.50" x2="588.00" y2="409.50" stroke="#000" stroke-width="1" stroke-dasharray="1 1"/>
<line x1="589.00" y1="409.50" x2="1019.00" y2="409.50" stroke="#fff" stroke-width="1"/>
<line x1="589.00" y1="409.50" x2="1019.00" y2="409.50" stroke="#000" stroke-width="1" stroke-dasharray="1 1"/>
<line x1="518.00" y1="430.50" x2="546.00" y2="430.50" stroke="#fff" stroke-width="1"/>
<line x1="518.00" y1="430.50" x2="546.00" y2="430.50" stroke="#000" stroke-width="1" stroke-dasharray="1 1"/>
<line x1="549.00" y1="430.50" x2="588.00" y2="430.50" stroke="#fff" stroke-width="1"/>
<line x1="549.00" y1="430.50" x2="588.00" y2="430.50" stroke="#000" stroke-width="1" stroke-dasharray="1 1"/>
<line x1="589.00" y1="430.50" x2="1019.00" y2="430.50" stroke="#fff" stroke-width="1"/>
<line x1="589.00" y1="430.50" x2="1019.00" y2="430.50" stroke="#000" stroke-width="1" stroke-dasharray="1 1"/>
<rect x="517.50" y="2.50" width="502.00" height="30.00" fill="none" stroke="#111" stroke-width="1.2"/>
<line x1="518.00" y1="33.50" x2="588.00" y2="33.50" stroke="#111" stroke-width="1.1"/>
<line x1="518.00" y1="85.50" x2="588.00" y2="85.50" stroke="#111" stroke-width="1.1"/>
<line x1="517.50" y1="34.00" x2="517.50" y2="85.00" stroke="#111" stroke-width="1.1"/>
<line x1="587.50" y1="34.00" x2="587.50" y2="85.00" stroke="#111" stroke-width="1.1"/>
<line x1="589.00" y1="33.50" x2="661.00" y2="33.50" stroke="#111" stroke-width="1.1"/>
<line x1="697.00" y1="33.50" x2="912.00" y2="33.50" stroke="#111" stroke-width="1.1"/>
<line x1="589.00" y1="85.50" x2="661.00" y2="85.50" stroke="#111" stroke-width="1.1"/>
<line x1="697.00" y1="85.50" x2="912.00" y2="85.50" stroke="#111" stroke-width="1.1"/>
<line x1="589.50" y1="34.00" x2="589.50" y2="85.00" stroke="#111" stroke-width="1.1"/>
<line x1="518.00" y1="87.50" x2="546.00" y2="87.50" stroke="#111" stroke-width="1.2"/>
<line x1="518.00" y1="451.50" x2="546.00" y2="451.50" stroke="#111" stroke-width="1.2"/>
<line x1="517.50" y1="88.00" x2="517.50" y2="138.00" stroke="#111" stroke-width="1.2"/>
<line x1="517.50" y1="159.00" x2="517.50" y2="347.00" stroke="#111" stroke-width="1.2"/>
<line x1="517.50" y1="368.00" x2="517.50" y2="451.00" stroke="#111" stroke-width="1.2"/>
<line x1="546.50" y1="88.00" x2="546.50" y2="137.00" stroke="#111" stroke-width="1.2"/>
<line x1="546.50" y1="158.00" x2="546.50" y2="347.00" stroke="#111" stroke-width="1.2"/>
<line x1="546.50" y1="368.00" x2="546.50" y2="451.00" stroke="#111" stroke-width="1.2"/>
<line x1="549.00" y1="87.50" x2="588.00" y2="87.50" stroke="#111" stroke-width="1.2"/>
<line x1="549.00" y1="451.50" x2="588.00" y2="451.50" stroke="#111" stroke-width="1.2"/>
<line x1="548.50" y1="88.00" x2="548.50" y2="137.00" stroke="#111" stroke-width="1.2"/>
<line x1="548.50" y1="158.00" x2="548.50" y2="347.00" stroke="#111" stroke-width="1.2"/>
<line x1="548.50" y1="368.00" x2="548.50" y2="451.00" stroke="#111" stroke-width="1.2"/>
<line x1="587.50" y1="88.00" x2="587.50" y2="137.00" stroke="#111" stroke-width="1.2"/>
<line x1="587.50" y1="158.00" x2="587.50" y2="347.00" stroke="#111" stroke-width="1.2"/>
<line x1="587.50" y1="368.00" x2="587.50" y2="451.00" stroke="#111" stroke-width="1.2"/>
<line x1="589.00" y1="87.50" x2="661.00" y2="87.50" stroke="#111" stroke-width="1.2"/>
<line x1="697.00" y1="87.50" x2="912.00" y2="87.50" stroke="#111" stroke-width="1.2"/>
<line x1="589.00" y1="451.50" x2="1019.00" y2="451.50" stroke="#111" stroke-width="1.2"/>
<line x1="589.50" y1="88.00" x2="589.50" y2="137.00" stroke="#111" stroke-width="1.2"/>
<line x1="589.50" y1="158.00" x2="589.50" y2="347.00" stroke="#111" stroke-width="1.2"/>
<line x1="589.50" y1="368.00" x2="589.50" y2="451.00" stroke="#111" stroke-width="1.2"/>
<line x1="1019.50" y1="368.00" x2="1019.50" y2="451.00" stroke="#111" stroke-width="1.2"/>
<line x1="518.00" y1="116.50" x2="546.00" y2="116.50" stroke="#111" stroke-width="1.2"/>
<line x1="549.00" y1="116.50" x2="588.00" y2="116.50" stroke="#111" stroke-width="1.2"/>
<line x1="589.00" y1="116.50" x2="1019.00" y2="116.50" stroke="#111" stroke-width="1.2"/>
<line x1="661.00" y1="34.00" x2="661.00" y2="137.00" stroke="#0c0c88" stroke-width="2" stroke-dasharray="9 3" stroke-dashoffset="4"/>
<line x1="697.00" y1="34.00" x2="697.00" y2="137.00" stroke="#0c0c88" stroke-width="2" stroke-dasharray="9 3" stroke-dashoffset="4"/>
<line x1="661.00" y1="34.00" x2="697.00" y2="34.00" stroke="#0c0c88" stroke-width="2" stroke-dasharray="9 3"/>
<rect x="661.50" y="54.50" width="36.00" height="32.00" fill="none" stroke="#0808c4" stroke-width="3"/>
<rect x="661.00" y="138.00" width="36.00" height="20.00" fill="none" stroke="#0c0c88" stroke-width="2" stroke-dasharray="9 3"/>
<rect x="516.50" y="137.50" width="145.00" height="21.00" fill="none" stroke="#0808c4" stroke-width="3"/>
<line x1="547.50" y1="137.00" x2="547.50" y2="158.00" stroke="#0808c4" stroke-width="3"/>
<line x1="588.50" y1="137.00" x2="588.50" y2="158.00" stroke="#0808c4" stroke-width="3"/>
<line x1="912.00" y1="34.00" x2="912.00" y2="347.00" stroke="#a82020" stroke-width="2" stroke-dasharray="9 3" stroke-dashoffset="4"/>
<line x1="948.00" y1="34.00" x2="948.00" y2="347.00" stroke="#a82020" stroke-width="2" stroke-dasharray="9 3" stroke-dashoffset="4"/>
<line x1="984.00" y1="34.00" x2="984.00" y2="347.00" stroke="#a82020" stroke-width="2" stroke-dasharray="9 3" stroke-dashoffset="4"/>
<line x1="1019.00" y1="34.00" x2="1019.00" y2="347.00" stroke="#a82020" stroke-width="2" stroke-dasharray="9 3" stroke-dashoffset="4"/>
<line x1="912.00" y1="34.00" x2="1019.00" y2="34.00" stroke="#a82020" stroke-width="2" stroke-dasharray="9 3"/>
<line x1="589.00" y1="347.00" x2="912.00" y2="347.00" stroke="#a82020" stroke-width="2" stroke-dasharray="9 3"/>
<line x1="589.00" y1="368.00" x2="912.00" y2="368.00" stroke="#a82020" stroke-width="2" stroke-dasharray="9 3"/>
<rect x="912.50" y="54.50" width="107.00" height="32.00" fill="none" stroke="#e01010" stroke-width="3"/>
<rect x="912.50" y="347.50" width="107.00" height="21.00" fill="none" stroke="#e01010" stroke-width="3"/>
<line x1="948.00" y1="347.00" x2="948.00" y2="368.00" stroke="#a82020" stroke-width="2" stroke-dasharray="9 3"/>
<line x1="948.00" y1="54.00" x2="948.00" y2="85.00" stroke="#a82020" stroke-width="2" stroke-dasharray="9 3"/>
<line x1="984.00" y1="347.00" x2="984.00" y2="368.00" stroke="#a82020" stroke-width="2" stroke-dasharray="9 3"/>
<line x1="984.00" y1="54.00" x2="984.00" y2="85.00" stroke="#a82020" stroke-width="2" stroke-dasharray="9 3"/>
<rect x="516.50" y="347.50" width="72.00" height="21.00" fill="none" stroke="#e01010" stroke-width="3"/>
<line x1="547.50" y1="347.00" x2="547.50" y2="368.00" stroke="#e01010" stroke-width="3"/>
<rect x="517.00" y="469.00" width="503.00" height="30.00" fill="#ffcc99"/>
<rect x="518.00" y="521.00" width="501.00" height="31.00" fill="#ffff99"/>
<rect x="518.00" y="554.00" width="28.00" height="364.00" fill="#f0f0f0"/>
<rect x="589.00" y="583.00" width="36.00" height="21.00" fill="#a8a8a8"/>
<rect x="625.00" y="583.00" width="36.00" height="21.00" fill="#7e7e7e"/>
<rect x="661.00" y="583.00" width="36.00" height="21.00" fill="#888888"/>
<rect x="697.00" y="583.00" width="36.00" height="21.00" fill="#888888"/>
<rect x="733.00" y="583.00" width="36.00" height="21.00" fill="#888888"/>
<rect x="769.00" y="583.00" width="36.00" height="21.00" fill="#888888"/>
<rect x="805.00" y="583.00" width="36.00" height="21.00" fill="#888888"/>
<rect x="841.00" y="583.00" width="35.00" height="21.00" fill="#888888"/>
<rect x="876.00" y="583.00" width="36.00" height="21.00" fill="#888888"/>
<rect x="912.00" y="583.00" width="36.00" height="21.00" fill="#888888"/>
<rect x="948.00" y="583.00" width="36.00" height="21.00" fill="#888888"/>
<rect x="984.00" y="583.00" width="35.00" height="21.00" fill="#888888"/>
<rect x="589.00" y="604.00" width="36.00" height="21.00" fill="#f0f0f0"/>
<rect x="625.00" y="604.00" width="36.00" height="21.00" fill="#a8a8a8"/>
<rect x="661.00" y="604.00" width="36.00" height="21.00" fill="#7e7e7e"/>
<rect x="697.00" y="604.00" width="36.00" height="21.00" fill="#888888"/>
<rect x="733.00" y="604.00" width="36.00" height="21.00" fill="#888888"/>
<rect x="769.00" y="604.00" width="36.00" height="21.00" fill="#888888"/>
<rect x="805.00" y="604.00" width="36.00" height="21.00" fill="#888888"/>
<rect x="841.00" y="604.00" width="35.00" height="21.00" fill="#888888"/>
<rect x="876.00" y="604.00" width="36.00" height="21.00" fill="#888888"/>
<rect x="912.00" y="604.00" width="36.00" height="21.00" fill="#888888"/>
<rect x="948.00" y="604.00" width="36.00" height="21.00" fill="#888888"/>
<rect x="984.00" y="604.00" width="35.00" height="21.00" fill="#888888"/>
<rect x="589.00" y="625.00" width="36.00" height="21.00" fill="#ffff99"/>
<rect x="625.00" y="625.00" width="36.00" height="21.00" fill="#f0f0f0"/>
<rect x="661.00" y="625.00" width="36.00" height="21.00" fill="#a8a8a8"/>
<rect x="697.00" y="625.00" width="36.00" height="21.00" fill="#7e7e7e"/>
<rect x="733.00" y="625.00" width="36.00" height="21.00" fill="#888888"/>
<rect x="769.00" y="625.00" width="36.00" height="21.00" fill="#888888"/>
<rect x="805.00" y="625.00" width="36.00" height="21.00" fill="#888888"/>
<rect x="841.00" y="625.00" width="35.00" height="21.00" fill="#888888"/>
<rect x="876.00" y="625.00" width="36.00" height="21.00" fill="#888888"/>
<rect x="912.00" y="625.00" width="36.00" height="21.00" fill="#888888"/>
<rect x="948.00" y="625.00" width="36.00" height="21.00" fill="#888888"/>
<rect x="984.00" y="625.00" width="35.00" height="21.00" fill="#888888"/>
<rect x="625.00" y="646.00" width="36.00" height="21.00" fill="#ffff99"/>
<rect x="661.00" y="646.00" width="36.00" height="21.00" fill="#f0f0f0"/>
<rect x="697.00" y="646.00" width="36.00" height="21.00" fill="#a8a8a8"/>
<rect x="733.00" y="646.00" width="36.00" height="21.00" fill="#7e7e7e"/>
<rect x="769.00" y="646.00" width="36.00" height="21.00" fill="#888888"/>
<rect x="805.00" y="646.00" width="36.00" height="21.00" fill="#888888"/>
<rect x="841.00" y="646.00" width="35.00" height="21.00" fill="#888888"/>
<rect x="876.00" y="646.00" width="36.00" height="21.00" fill="#888888"/>
<rect x="912.00" y="646.00" width="36.00" height="21.00" fill="#888888"/>
<rect x="948.00" y="646.00" width="36.00" height="21.00" fill="#888888"/>
<rect x="984.00" y="646.00" width="35.00" height="21.00" fill="#888888"/>
<rect x="661.00" y="667.00" width="36.00" height="21.00" fill="#ffff99"/>
<rect x="697.00" y="667.00" width="36.00" height="21.00" fill="#f0f0f0"/>
<rect x="733.00" y="667.00" width="36.00" height="21.00" fill="#a8a8a8"/>
<rect x="769.00" y="667.00" width="36.00" height="21.00" fill="#7e7e7e"/>
<rect x="805.00" y="667.00" width="36.00" height="21.00" fill="#888888"/>
<rect x="841.00" y="667.00" width="35.00" height="21.00" fill="#888888"/>
<rect x="876.00" y="667.00" width="36.00" height="21.00" fill="#888888"/>
<rect x="912.00" y="667.00" width="36.00" height="21.00" fill="#888888"/>
<rect x="948.00" y="667.00" width="36.00" height="21.00" fill="#888888"/>
<rect x="984.00" y="667.00" width="35.00" height="21.00" fill="#888888"/>
<rect x="697.00" y="688.00" width="36.00" height="21.00" fill="#ffff99"/>
<rect x="733.00" y="688.00" width="36.00" height="21.00" fill="#f0f0f0"/>
<rect x="769.00" y="688.00" width="36.00" height="21.00" fill="#a8a8a8"/>
<rect x="805.00" y="688.00" width="36.00" height="21.00" fill="#7e7e7e"/>
<rect x="841.00" y="688.00" width="35.00" height="21.00" fill="#888888"/>
<rect x="876.00" y="688.00" width="36.00" height="21.00" fill="#888888"/>
<rect x="912.00" y="688.00" width="36.00" height="21.00" fill="#888888"/>
<rect x="948.00" y="688.00" width="36.00" height="21.00" fill="#888888"/>
<rect x="984.00" y="688.00" width="35.00" height="21.00" fill="#888888"/>
<rect x="733.00" y="709.00" width="36.00" height="21.00" fill="#ffff99"/>
<rect x="769.00" y="709.00" width="36.00" height="21.00" fill="#f0f0f0"/>
<rect x="805.00" y="709.00" width="36.00" height="21.00" fill="#a8a8a8"/>
<rect x="841.00" y="709.00" width="35.00" height="21.00" fill="#7e7e7e"/>
<rect x="876.00" y="709.00" width="36.00" height="21.00" fill="#888888"/>
<rect x="912.00" y="709.00" width="36.00" height="21.00" fill="#888888"/>
<rect x="948.00" y="709.00" width="36.00" height="21.00" fill="#888888"/>
<rect x="984.00" y="709.00" width="35.00" height="21.00" fill="#888888"/>
<rect x="769.00" y="730.00" width="36.00" height="21.00" fill="#ffff99"/>
<rect x="805.00" y="730.00" width="36.00" height="21.00" fill="#f0f0f0"/>
<rect x="841.00" y="730.00" width="35.00" height="21.00" fill="#a8a8a8"/>
<rect x="876.00" y="730.00" width="36.00" height="21.00" fill="#7e7e7e"/>
<rect x="912.00" y="730.00" width="36.00" height="21.00" fill="#888888"/>
<rect x="948.00" y="730.00" width="36.00" height="21.00" fill="#888888"/>
<rect x="984.00" y="730.00" width="35.00" height="21.00" fill="#888888"/>
<rect x="805.00" y="751.00" width="36.00" height="21.00" fill="#ffff99"/>
<rect x="841.00" y="751.00" width="35.00" height="21.00" fill="#f0f0f0"/>
<rect x="876.00" y="751.00" width="36.00" height="21.00" fill="#a8a8a8"/>
<rect x="912.00" y="751.00" width="36.00" height="21.00" fill="#7e7e7e"/>
<rect x="948.00" y="751.00" width="36.00" height="21.00" fill="#888888"/>
<rect x="984.00" y="751.00" width="35.00" height="21.00" fill="#888888"/>
<rect x="841.00" y="772.00" width="35.00" height="22.00" fill="#ffff99"/>
<rect x="876.00" y="772.00" width="36.00" height="22.00" fill="#f0f0f0"/>
<rect x="912.00" y="772.00" width="36.00" height="22.00" fill="#a8a8a8"/>
<rect x="948.00" y="772.00" width="36.00" height="22.00" fill="#7e7e7e"/>
<rect x="984.00" y="772.00" width="35.00" height="22.00" fill="#888888"/>
<rect x="876.00" y="794.00" width="36.00" height="21.00" fill="#ffff99"/>
<rect x="912.00" y="794.00" width="36.00" height="21.00" fill="#f0f0f0"/>
<rect x="948.00" y="794.00" width="36.00" height="21.00" fill="#a8a8a8"/>
<rect x="984.00" y="794.00" width="35.00" height="21.00" fill="#7e7e7e"/>
<rect x="912.00" y="815.00" width="36.00" height="21.00" fill="#ffff99"/>
<rect x="948.00" y="815.00" width="36.00" height="21.00" fill="#f0f0f0"/>
<rect x="984.00" y="815.00" width="35.00" height="21.00" fill="#a8a8a8"/>
<rect x="948.00" y="836.00" width="36.00" height="21.00" fill="#ffff99"/>
<rect x="984.00" y="836.00" width="35.00" height="21.00" fill="#f0f0f0"/>
<rect x="984.00" y="857.00" width="35.00" height="21.00" fill="#ffff99"/>
<rect x="549.00" y="606.00" width="38.00" height="18.00" fill="#ffff00"/>
<line x1="625.50" y1="501.00" x2="625.50" y2="552.00" stroke="#fff" stroke-width="1"/>
<line x1="625.50" y1="501.00" x2="625.50" y2="552.00" stroke="#000" stroke-width="1" stroke-dasharray="1 1"/>
<line x1="625.50" y1="554.00" x2="625.50" y2="918.00" stroke="#fff" stroke-width="1"/>
<line x1="625.50" y1="554.00" x2="625.50" y2="918.00" stroke="#000" stroke-width="1" stroke-dasharray="1 1"/>
<line x1="661.50" y1="625.00" x2="661.50" y2="918.00" stroke="#fff" stroke-width="1"/>
<line x1="661.50" y1="625.00" x2="661.50" y2="918.00" stroke="#000" stroke-width="1" stroke-dasharray="1 1"/>
<line x1="697.50" y1="625.00" x2="697.50" y2="918.00" stroke="#fff" stroke-width="1"/>
<line x1="697.50" y1="625.00" x2="697.50" y2="918.00" stroke="#000" stroke-width="1" stroke-dasharray="1 1"/>
<line x1="732.50" y1="501.00" x2="732.50" y2="552.00" stroke="#fff" stroke-width="1"/>
<line x1="732.50" y1="501.00" x2="732.50" y2="552.00" stroke="#000" stroke-width="1" stroke-dasharray="1 1"/>
<line x1="732.50" y1="554.00" x2="732.50" y2="918.00" stroke="#fff" stroke-width="1"/>
<line x1="732.50" y1="554.00" x2="732.50" y2="918.00" stroke="#000" stroke-width="1" stroke-dasharray="1 1"/>
<line x1="768.50" y1="501.00" x2="768.50" y2="552.00" stroke="#fff" stroke-width="1"/>
<line x1="768.50" y1="501.00" x2="768.50" y2="552.00" stroke="#000" stroke-width="1" stroke-dasharray="1 1"/>
<line x1="768.50" y1="554.00" x2="768.50" y2="918.00" stroke="#fff" stroke-width="1"/>
<line x1="768.50" y1="554.00" x2="768.50" y2="918.00" stroke="#000" stroke-width="1" stroke-dasharray="1 1"/>
<line x1="804.50" y1="501.00" x2="804.50" y2="552.00" stroke="#fff" stroke-width="1"/>
<line x1="804.50" y1="501.00" x2="804.50" y2="552.00" stroke="#000" stroke-width="1" stroke-dasharray="1 1"/>
<line x1="804.50" y1="554.00" x2="804.50" y2="918.00" stroke="#fff" stroke-width="1"/>
<line x1="804.50" y1="554.00" x2="804.50" y2="918.00" stroke="#000" stroke-width="1" stroke-dasharray="1 1"/>
<line x1="840.50" y1="501.00" x2="840.50" y2="552.00" stroke="#fff" stroke-width="1"/>
<line x1="840.50" y1="501.00" x2="840.50" y2="552.00" stroke="#000" stroke-width="1" stroke-dasharray="1 1"/>
<line x1="840.50" y1="554.00" x2="840.50" y2="918.00" stroke="#fff" stroke-width="1"/>
<line x1="840.50" y1="554.00" x2="840.50" y2="918.00" stroke="#000" stroke-width="1" stroke-dasharray="1 1"/>
<line x1="876.50" y1="501.00" x2="876.50" y2="552.00" stroke="#fff" stroke-width="1"/>
<line x1="876.50" y1="501.00" x2="876.50" y2="552.00" stroke="#000" stroke-width="1" stroke-dasharray="1 1"/>
<line x1="876.50" y1="554.00" x2="876.50" y2="918.00" stroke="#fff" stroke-width="1"/>
<line x1="876.50" y1="554.00" x2="876.50" y2="918.00" stroke="#000" stroke-width="1" stroke-dasharray="1 1"/>
<line x1="912.50" y1="836.00" x2="912.50" y2="918.00" stroke="#fff" stroke-width="1"/>
<line x1="912.50" y1="836.00" x2="912.50" y2="918.00" stroke="#000" stroke-width="1" stroke-dasharray="1 1"/>
<line x1="948.50" y1="836.00" x2="948.50" y2="918.00" stroke="#fff" stroke-width="1"/>
<line x1="948.50" y1="836.00" x2="948.50" y2="918.00" stroke="#000" stroke-width="1" stroke-dasharray="1 1"/>
<line x1="984.50" y1="836.00" x2="984.50" y2="918.00" stroke="#fff" stroke-width="1"/>
<line x1="984.50" y1="836.00" x2="984.50" y2="918.00" stroke="#000" stroke-width="1" stroke-dasharray="1 1"/>
<line x1="518.00" y1="521.50" x2="661.00" y2="521.50" stroke="#fff" stroke-width="1"/>
<line x1="518.00" y1="521.50" x2="661.00" y2="521.50" stroke="#000" stroke-width="1" stroke-dasharray="1 1"/>
<line x1="697.00" y1="521.50" x2="912.00" y2="521.50" stroke="#fff" stroke-width="1"/>
<line x1="697.00" y1="521.50" x2="912.00" y2="521.50" stroke="#000" stroke-width="1" stroke-dasharray="1 1"/>
<line x1="697.00" y1="604.50" x2="1019.00" y2="604.50" stroke="#fff" stroke-width="1"/>
<line x1="697.00" y1="604.50" x2="1019.00" y2="604.50" stroke="#000" stroke-width="1" stroke-dasharray="1 1"/>
<line x1="697.00" y1="625.50" x2="1019.00" y2="625.50" stroke="#fff" stroke-width="1"/>
<line x1="697.00" y1="625.50" x2="1019.00" y2="625.50" stroke="#000" stroke-width="1" stroke-dasharray="1 1"/>
<line x1="518.00" y1="646.50" x2="546.00" y2="646.50" stroke="#fff" stroke-width="1"/>
<line x1="518.00" y1="646.50" x2="546.00" y2="646.50" stroke="#000" stroke-width="1" stroke-dasharray="1 1"/>
<line x1="549.00" y1="646.50" x2="588.00" y2="646.50" stroke="#fff" stroke-width="1"/>
<line x1="549.00" y1="646.50" x2="588.00" y2="646.50" stroke="#000" stroke-width="1" stroke-dasharray="1 1"/>
<line x1="589.00" y1="646.50" x2="1019.00" y2="646.50" stroke="#fff" stroke-width="1"/>
<line x1="589.00" y1="646.50" x2="1019.00" y2="646.50" stroke="#000" stroke-width="1" stroke-dasharray="1 1"/>
<line x1="518.00" y1="667.50" x2="546.00" y2="667.50" stroke="#fff" stroke-width="1"/>
<line x1="518.00" y1="667.50" x2="546.00" y2="667.50" stroke="#000" stroke-width="1" stroke-dasharray="1 1"/>
<line x1="549.00" y1="667.50" x2="588.00" y2="667.50" stroke="#fff" stroke-width="1"/>
<line x1="549.00" y1="667.50" x2="588.00" y2="667.50" stroke="#000" stroke-width="1" stroke-dasharray="1 1"/>
<line x1="589.00" y1="667.50" x2="1019.00" y2="667.50" stroke="#fff" stroke-width="1"/>
<line x1="589.00" y1="667.50" x2="1019.00" y2="667.50" stroke="#000" stroke-width="1" stroke-dasharray="1 1"/>
<line x1="518.00" y1="688.50" x2="546.00" y2="688.50" stroke="#fff" stroke-width="1"/>
<line x1="518.00" y1="688.50" x2="546.00" y2="688.50" stroke="#000" stroke-width="1" stroke-dasharray="1 1"/>
<line x1="549.00" y1="688.50" x2="588.00" y2="688.50" stroke="#fff" stroke-width="1"/>
<line x1="549.00" y1="688.50" x2="588.00" y2="688.50" stroke="#000" stroke-width="1" stroke-dasharray="1 1"/>
<line x1="589.00" y1="688.50" x2="1019.00" y2="688.50" stroke="#fff" stroke-width="1"/>
<line x1="589.00" y1="688.50" x2="1019.00" y2="688.50" stroke="#000" stroke-width="1" stroke-dasharray="1 1"/>
<line x1="518.00" y1="709.50" x2="546.00" y2="709.50" stroke="#fff" stroke-width="1"/>
<line x1="518.00" y1="709.50" x2="546.00" y2="709.50" stroke="#000" stroke-width="1" stroke-dasharray="1 1"/>
<line x1="549.00" y1="709.50" x2="588.00" y2="709.50" stroke="#fff" stroke-width="1"/>
<line x1="549.00" y1="709.50" x2="588.00" y2="709.50" stroke="#000" stroke-width="1" stroke-dasharray="1 1"/>
<line x1="589.00" y1="709.50" x2="1019.00" y2="709.50" stroke="#fff" stroke-width="1"/>
<line x1="589.00" y1="709.50" x2="1019.00" y2="709.50" stroke="#000" stroke-width="1" stroke-dasharray="1 1"/>
<line x1="518.00" y1="730.50" x2="546.00" y2="730.50" stroke="#fff" stroke-width="1"/>
<line x1="518.00" y1="730.50" x2="546.00" y2="730.50" stroke="#000" stroke-width="1" stroke-dasharray="1 1"/>
<line x1="549.00" y1="730.50" x2="588.00" y2="730.50" stroke="#fff" stroke-width="1"/>
<line x1="549.00" y1="730.50" x2="588.00" y2="730.50" stroke="#000" stroke-width="1" stroke-dasharray="1 1"/>
<line x1="589.00" y1="730.50" x2="1019.00" y2="730.50" stroke="#fff" stroke-width="1"/>
<line x1="589.00" y1="730.50" x2="1019.00" y2="730.50" stroke="#000" stroke-width="1" stroke-dasharray="1 1"/>
<line x1="518.00" y1="751.50" x2="546.00" y2="751.50" stroke="#fff" stroke-width="1"/>
<line x1="518.00" y1="751.50" x2="546.00" y2="751.50" stroke="#000" stroke-width="1" stroke-dasharray="1 1"/>
<line x1="549.00" y1="751.50" x2="588.00" y2="751.50" stroke="#fff" stroke-width="1"/>
<line x1="549.00" y1="751.50" x2="588.00" y2="751.50" stroke="#000" stroke-width="1" stroke-dasharray="1 1"/>
<line x1="589.00" y1="751.50" x2="1019.00" y2="751.50" stroke="#fff" stroke-width="1"/>
<line x1="589.00" y1="751.50" x2="1019.00" y2="751.50" stroke="#000" stroke-width="1" stroke-dasharray="1 1"/>
<line x1="518.00" y1="772.50" x2="546.00" y2="772.50" stroke="#fff" stroke-width="1"/>
<line x1="518.00" y1="772.50" x2="546.00" y2="772.50" stroke="#000" stroke-width="1" stroke-dasharray="1 1"/>
<line x1="549.00" y1="772.50" x2="588.00" y2="772.50" stroke="#fff" stroke-width="1"/>
<line x1="549.00" y1="772.50" x2="588.00" y2="772.50" stroke="#000" stroke-width="1" stroke-dasharray="1 1"/>
<line x1="589.00" y1="772.50" x2="1019.00" y2="772.50" stroke="#fff" stroke-width="1"/>
<line x1="589.00" y1="772.50" x2="1019.00" y2="772.50" stroke="#000" stroke-width="1" stroke-dasharray="1 1"/>
<line x1="518.00" y1="793.50" x2="546.00" y2="793.50" stroke="#fff" stroke-width="1"/>
<line x1="518.00" y1="793.50" x2="546.00" y2="793.50" stroke="#000" stroke-width="1" stroke-dasharray="1 1"/>
<line x1="549.00" y1="793.50" x2="588.00" y2="793.50" stroke="#fff" stroke-width="1"/>
<line x1="549.00" y1="793.50" x2="588.00" y2="793.50" stroke="#000" stroke-width="1" stroke-dasharray="1 1"/>
<line x1="589.00" y1="793.50" x2="1019.00" y2="793.50" stroke="#fff" stroke-width="1"/>
<line x1="589.00" y1="793.50" x2="1019.00" y2="793.50" stroke="#000" stroke-width="1" stroke-dasharray="1 1"/>
<line x1="518.00" y1="856.50" x2="546.00" y2="856.50" stroke="#fff" stroke-width="1"/>
<line x1="518.00" y1="856.50" x2="546.00" y2="856.50" stroke="#000" stroke-width="1" stroke-dasharray="1 1"/>
<line x1="549.00" y1="856.50" x2="588.00" y2="856.50" stroke="#fff" stroke-width="1"/>
<line x1="549.00" y1="856.50" x2="588.00" y2="856.50" stroke="#000" stroke-width="1" stroke-dasharray="1 1"/>
<line x1="589.00" y1="856.50" x2="1019.00" y2="856.50" stroke="#fff" stroke-width="1"/>
<line x1="589.00" y1="856.50" x2="1019.00" y2="856.50" stroke="#000" stroke-width="1" stroke-dasharray="1 1"/>
<line x1="518.00" y1="877.50" x2="546.00" y2="877.50" stroke="#fff" stroke-width="1"/>
<line x1="518.00" y1="877.50" x2="546.00" y2="877.50" stroke="#000" stroke-width="1" stroke-dasharray="1 1"/>
<line x1="549.00" y1="877.50" x2="588.00" y2="877.50" stroke="#fff" stroke-width="1"/>
<line x1="549.00" y1="877.50" x2="588.00" y2="877.50" stroke="#000" stroke-width="1" stroke-dasharray="1 1"/>
<line x1="589.00" y1="877.50" x2="1019.00" y2="877.50" stroke="#fff" stroke-width="1"/>
<line x1="589.00" y1="877.50" x2="1019.00" y2="877.50" stroke="#000" stroke-width="1" stroke-dasharray="1 1"/>
<line x1="518.00" y1="898.50" x2="546.00" y2="898.50" stroke="#fff" stroke-width="1"/>
<line x1="518.00" y1="898.50" x2="546.00" y2="898.50" stroke="#000" stroke-width="1" stroke-dasharray="1 1"/>
<line x1="549.00" y1="898.50" x2="588.00" y2="898.50" stroke="#fff" stroke-width="1"/>
<line x1="549.00" y1="898.50" x2="588.00" y2="898.50" stroke="#000" stroke-width="1" stroke-dasharray="1 1"/>
<line x1="589.00" y1="898.50" x2="1019.00" y2="898.50" stroke="#fff" stroke-width="1"/>
<line x1="589.00" y1="898.50" x2="1019.00" y2="898.50" stroke="#000" stroke-width="1" stroke-dasharray="1 1"/>
<rect x="517.50" y="468.50" width="502.00" height="31.00" fill="none" stroke="#111" stroke-width="1.2"/>
<line x1="518.00" y1="500.50" x2="588.00" y2="500.50" stroke="#111" stroke-width="1.1"/>
<line x1="518.00" y1="552.50" x2="588.00" y2="552.50" stroke="#111" stroke-width="1.1"/>
<line x1="517.50" y1="501.00" x2="517.50" y2="552.00" stroke="#111" stroke-width="1.1"/>
<line x1="587.50" y1="501.00" x2="587.50" y2="552.00" stroke="#111" stroke-width="1.1"/>
<line x1="589.00" y1="500.50" x2="661.00" y2="500.50" stroke="#111" stroke-width="1.1"/>
<line x1="697.00" y1="500.50" x2="912.00" y2="500.50" stroke="#111" stroke-width="1.1"/>
<line x1="589.00" y1="552.50" x2="661.00" y2="552.50" stroke="#111" stroke-width="1.1"/>
<line x1="697.00" y1="552.50" x2="912.00" y2="552.50" stroke="#111" stroke-width="1.1"/>
<line x1="589.50" y1="501.00" x2="589.50" y2="552.00" stroke="#111" stroke-width="1.1"/>
<line x1="518.00" y1="554.50" x2="546.00" y2="554.50" stroke="#111" stroke-width="1.2"/>
<line x1="518.00" y1="917.50" x2="546.00" y2="917.50" stroke="#111" stroke-width="1.2"/>
<line x1="517.50" y1="554.00" x2="517.50" y2="605.00" stroke="#111" stroke-width="1.2"/>
<line x1="517.50" y1="625.00" x2="517.50" y2="815.00" stroke="#111" stroke-width="1.2"/>
<line x1="517.50" y1="836.00" x2="517.50" y2="918.00" stroke="#111" stroke-width="1.2"/>
<line x1="546.50" y1="554.00" x2="546.50" y2="604.00" stroke="#111" stroke-width="1.2"/>
<line x1="546.50" y1="625.00" x2="546.50" y2="815.00" stroke="#111" stroke-width="1.2"/>
<line x1="546.50" y1="836.00" x2="546.50" y2="918.00" stroke="#111" stroke-width="1.2"/>
<line x1="549.00" y1="554.50" x2="588.00" y2="554.50" stroke="#111" stroke-width="1.2"/>
<line x1="549.00" y1="917.50" x2="588.00" y2="917.50" stroke="#111" stroke-width="1.2"/>
<line x1="548.50" y1="554.00" x2="548.50" y2="604.00" stroke="#111" stroke-width="1.2"/>
<line x1="548.50" y1="625.00" x2="548.50" y2="815.00" stroke="#111" stroke-width="1.2"/>
<line x1="548.50" y1="836.00" x2="548.50" y2="918.00" stroke="#111" stroke-width="1.2"/>
<line x1="587.50" y1="554.00" x2="587.50" y2="604.00" stroke="#111" stroke-width="1.2"/>
<line x1="587.50" y1="625.00" x2="587.50" y2="815.00" stroke="#111" stroke-width="1.2"/>
<line x1="587.50" y1="836.00" x2="587.50" y2="918.00" stroke="#111" stroke-width="1.2"/>
<line x1="589.00" y1="554.50" x2="661.00" y2="554.50" stroke="#111" stroke-width="1.2"/>
<line x1="697.00" y1="554.50" x2="912.00" y2="554.50" stroke="#111" stroke-width="1.2"/>
<line x1="589.00" y1="917.50" x2="1019.00" y2="917.50" stroke="#111" stroke-width="1.2"/>
<line x1="589.50" y1="554.00" x2="589.50" y2="604.00" stroke="#111" stroke-width="1.2"/>
<line x1="589.50" y1="625.00" x2="589.50" y2="815.00" stroke="#111" stroke-width="1.2"/>
<line x1="589.50" y1="836.00" x2="589.50" y2="918.00" stroke="#111" stroke-width="1.2"/>
<line x1="1019.50" y1="836.00" x2="1019.50" y2="918.00" stroke="#111" stroke-width="1.2"/>
<line x1="518.00" y1="583.50" x2="546.00" y2="583.50" stroke="#111" stroke-width="1.2"/>
<line x1="549.00" y1="583.50" x2="588.00" y2="583.50" stroke="#111" stroke-width="1.2"/>
<line x1="589.00" y1="583.50" x2="1019.00" y2="583.50" stroke="#111" stroke-width="1.2"/>
<line x1="661.00" y1="500.00" x2="661.00" y2="604.00" stroke="#0c0c88" stroke-width="2" stroke-dasharray="9 3" stroke-dashoffset="4"/>
<line x1="697.00" y1="500.00" x2="697.00" y2="604.00" stroke="#0c0c88" stroke-width="2" stroke-dasharray="9 3" stroke-dashoffset="4"/>
<line x1="661.00" y1="500.00" x2="697.00" y2="500.00" stroke="#0c0c88" stroke-width="2" stroke-dasharray="9 3"/>
<rect x="661.50" y="521.50" width="36.00" height="32.00" fill="none" stroke="#0808c4" stroke-width="3"/>
<rect x="661.00" y="604.00" width="36.00" height="21.00" fill="none" stroke="#0c0c88" stroke-width="2" stroke-dasharray="9 3"/>
<rect x="516.50" y="604.50" width="145.00" height="21.00" fill="none" stroke="#0808c4" stroke-width="3"/>
<line x1="547.50" y1="604.00" x2="547.50" y2="625.00" stroke="#0808c4" stroke-width="3"/>
<line x1="588.50" y1="604.00" x2="588.50" y2="625.00" stroke="#0808c4" stroke-width="3"/>
<line x1="912.00" y1="500.00" x2="912.00" y2="815.00" stroke="#a82020" stroke-width="2" stroke-dasharray="9 3" stroke-dashoffset="4"/>
<line x1="948.00" y1="500.00" x2="948.00" y2="815.00" stroke="#a82020" stroke-width="2" stroke-dasharray="9 3" stroke-dashoffset="4"/>
<line x1="984.00" y1="500.00" x2="984.00" y2="815.00" stroke="#a82020" stroke-width="2" stroke-dasharray="9 3" stroke-dashoffset="4"/>
<line x1="1019.00" y1="500.00" x2="1019.00" y2="815.00" stroke="#a82020" stroke-width="2" stroke-dasharray="9 3" stroke-dashoffset="4"/>
<line x1="912.00" y1="500.00" x2="1019.00" y2="500.00" stroke="#a82020" stroke-width="2" stroke-dasharray="9 3"/>
<line x1="589.00" y1="815.00" x2="912.00" y2="815.00" stroke="#a82020" stroke-width="2" stroke-dasharray="9 3"/>
<line x1="589.00" y1="836.00" x2="912.00" y2="836.00" stroke="#a82020" stroke-width="2" stroke-dasharray="9 3"/>
<rect x="912.50" y="521.50" width="107.00" height="32.00" fill="none" stroke="#e01010" stroke-width="3"/>
<rect x="912.50" y="814.50" width="107.00" height="21.00" fill="none" stroke="#e01010" stroke-width="3"/>
<line x1="948.00" y1="815.00" x2="948.00" y2="836.00" stroke="#a82020" stroke-width="2" stroke-dasharray="9 3"/>
<line x1="948.00" y1="521.00" x2="948.00" y2="552.00" stroke="#a82020" stroke-width="2" stroke-dasharray="9 3"/>
<line x1="984.00" y1="815.00" x2="984.00" y2="836.00" stroke="#a82020" stroke-width="2" stroke-dasharray="9 3"/>
<line x1="984.00" y1="521.00" x2="984.00" y2="552.00" stroke="#a82020" stroke-width="2" stroke-dasharray="9 3"/>
<rect x="516.50" y="814.50" width="72.00" height="21.00" fill="none" stroke="#e01010" stroke-width="3"/>
<line x1="547.50" y1="815.00" x2="547.50" y2="836.00" stroke="#e01010" stroke-width="3"/>
<rect x="3.50" y="453.50" width="502.00" height="13.00" fill="none" stroke="#111" stroke-width="1.1"/>
<line x1="32.50" y1="454.00" x2="32.50" y2="467.00" stroke="#d8d4d8" stroke-width="1"/>
<line x1="73.50" y1="454.00" x2="73.50" y2="467.00" stroke="#d8d4d8" stroke-width="1"/>
<line x1="110.50" y1="454.00" x2="110.50" y2="467.00" stroke="#d8d4d8" stroke-width="1"/>
<line x1="146.50" y1="454.00" x2="146.50" y2="467.00" stroke="#d8d4d8" stroke-width="1"/>
<line x1="182.50" y1="454.00" x2="182.50" y2="467.00" stroke="#d8d4d8" stroke-width="1"/>
<line x1="218.50" y1="454.00" x2="218.50" y2="467.00" stroke="#d8d4d8" stroke-width="1"/>
<line x1="254.50" y1="454.00" x2="254.50" y2="467.00" stroke="#d8d4d8" stroke-width="1"/>
<line x1="290.50" y1="454.00" x2="290.50" y2="467.00" stroke="#d8d4d8" stroke-width="1"/>
<line x1="326.50" y1="454.00" x2="326.50" y2="467.00" stroke="#d8d4d8" stroke-width="1"/>
<line x1="362.50" y1="454.00" x2="362.50" y2="467.00" stroke="#d8d4d8" stroke-width="1"/>
<line x1="398.50" y1="454.00" x2="398.50" y2="467.00" stroke="#d8d4d8" stroke-width="1"/>
<line x1="434.50" y1="454.00" x2="434.50" y2="467.00" stroke="#d8d4d8" stroke-width="1"/>
<line x1="469.50" y1="454.00" x2="469.50" y2="467.00" stroke="#d8d4d8" stroke-width="1"/>
<rect x="2.00" y="1.6" width="505.50" height="918.6" fill="none" stroke="#111" stroke-width="1.1"/>
<rect x="517.50" y="453.50" width="502.00" height="13.00" fill="none" stroke="#111" stroke-width="1.1"/>
<line x1="546.50" y1="454.00" x2="546.50" y2="467.00" stroke="#d8d4d8" stroke-width="1"/>
<line x1="587.50" y1="454.00" x2="587.50" y2="467.00" stroke="#d8d4d8" stroke-width="1"/>
<line x1="625.50" y1="454.00" x2="625.50" y2="467.00" stroke="#d8d4d8" stroke-width="1"/>
<line x1="661.50" y1="454.00" x2="661.50" y2="467.00" stroke="#d8d4d8" stroke-width="1"/>
<line x1="697.50" y1="454.00" x2="697.50" y2="467.00" stroke="#d8d4d8" stroke-width="1"/>
<line x1="732.50" y1="454.00" x2="732.50" y2="467.00" stroke="#d8d4d8" stroke-width="1"/>
<line x1="768.50" y1="454.00" x2="768.50" y2="467.00" stroke="#d8d4d8" stroke-width="1"/>
<line x1="804.50" y1="454.00" x2="804.50" y2="467.00" stroke="#d8d4d8" stroke-width="1"/>
<line x1="840.50" y1="454.00" x2="840.50" y2="467.00" stroke="#d8d4d8" stroke-width="1"/>
<line x1="876.50" y1="454.00" x2="876.50" y2="467.00" stroke="#d8d4d8" stroke-width="1"/>
<line x1="912.50" y1="454.00" x2="912.50" y2="467.00" stroke="#d8d4d8" stroke-width="1"/>
<line x1="948.50" y1="454.00" x2="948.50" y2="467.00" stroke="#d8d4d8" stroke-width="1"/>
<line x1="984.50" y1="454.00" x2="984.50" y2="467.00" stroke="#d8d4d8" stroke-width="1"/>
<rect x="515.60" y="1.6" width="506.40" height="918.6" fill="none" stroke="#111" stroke-width="1.1"/>
</svg>
<div class="t d s10" style="left:75.0px;top:118.3px;width:35.9px;height:21.0px;line-height:21.0px;color:#d42020;"><span class="fit" style="transform:scaleX(0.930)">3509万</span></div>
<div class="t d s10" style="left:110.9px;top:118.3px;width:35.9px;height:21.0px;line-height:21.0px;color:#b01818;"><span class="fit" style="transform:scaleX(0.930)">7018万</span></div>
<div class="t d s11" style="left:146.8px;top:118.3px;width:35.9px;height:21.0px;line-height:21.0px;color:#000;"><span class="fit" style="transform:scaleX(1.001)">1.40億</span></div>
<div class="t d s11" style="left:182.7px;top:118.3px;width:35.9px;height:21.0px;line-height:21.0px;color:#000;"><span class="fit" style="transform:scaleX(1.001)">2.81億</span></div>
<div class="t d s11" style="left:218.6px;top:118.3px;width:35.9px;height:21.0px;line-height:21.0px;color:#000;"><span class="fit" style="transform:scaleX(1.001)">5.61億</span></div>
<div class="t d s11" style="left:254.5px;top:118.3px;width:35.9px;height:21.0px;line-height:21.0px;color:#000;"><span class="fit" style="transform:scaleX(1.027)">11.2億</span></div>
<div class="t d s11" style="left:290.4px;top:118.3px;width:35.9px;height:21.0px;line-height:21.0px;color:#000;"><span class="fit" style="transform:scaleX(1.001)">22.5億</span></div>
<div class="t d s11" style="left:326.3px;top:118.3px;width:35.9px;height:21.0px;line-height:21.0px;color:#000;"><span class="fit" style="transform:scaleX(1.001)">44.9億</span></div>
<div class="t d s11" style="left:362.2px;top:118.3px;width:35.9px;height:21.0px;line-height:21.0px;color:#000;"><span class="fit" style="transform:scaleX(1.001)">89.8億</span></div>
<div class="t d" style="left:398.1px;top:118.8px;width:35.9px;height:21.0px;line-height:21.0px;color:#000;"><span class="fit" style="transform:scaleX(0.824)">180億</span></div>
<div class="t d" style="left:434.0px;top:118.8px;width:35.9px;height:21.0px;line-height:21.0px;color:#000;"><span class="fit" style="transform:scaleX(0.824)">359億</span></div>
<div class="t d" style="left:469.9px;top:118.8px;width:35.7px;height:21.0px;line-height:21.0px;color:#000;"><span class="fit" style="transform:scaleX(0.824)">719億</span></div>
<div class="t d s10" style="left:75.0px;top:139.3px;width:35.9px;height:21.0px;line-height:21.0px;color:#10107a;"><span class="fit" style="transform:scaleX(0.930)">1754万</span></div>
<div class="t d s10" style="left:110.9px;top:139.3px;width:35.9px;height:21.0px;line-height:21.0px;color:#d42020;"><span class="fit" style="transform:scaleX(0.930)">3509万</span></div>
<div class="t d s10" style="left:146.8px;top:139.3px;width:35.9px;height:21.0px;line-height:21.0px;color:#b01818;"><span class="fit" style="transform:scaleX(0.930)">7018万</span></div>
<div class="t d s11" style="left:182.7px;top:139.3px;width:35.9px;height:21.0px;line-height:21.0px;color:#000;"><span class="fit" style="transform:scaleX(1.001)">1.40億</span></div>
<div class="t d s11" style="left:218.6px;top:139.3px;width:35.9px;height:21.0px;line-height:21.0px;color:#000;"><span class="fit" style="transform:scaleX(1.001)">2.81億</span></div>
<div class="t d s11" style="left:254.5px;top:139.3px;width:35.9px;height:21.0px;line-height:21.0px;color:#000;"><span class="fit" style="transform:scaleX(1.001)">5.61億</span></div>
<div class="t d s11" style="left:290.4px;top:139.3px;width:35.9px;height:21.0px;line-height:21.0px;color:#000;"><span class="fit" style="transform:scaleX(1.027)">11.2億</span></div>
<div class="t d s11" style="left:326.3px;top:139.3px;width:35.9px;height:21.0px;line-height:21.0px;color:#000;"><span class="fit" style="transform:scaleX(1.001)">22.5億</span></div>
<div class="t d s11" style="left:362.2px;top:139.3px;width:35.9px;height:21.0px;line-height:21.0px;color:#000;"><span class="fit" style="transform:scaleX(1.001)">44.9億</span></div>
<div class="t d s11" style="left:398.1px;top:139.3px;width:35.9px;height:21.0px;line-height:21.0px;color:#000;"><span class="fit" style="transform:scaleX(1.001)">89.8億</span></div>
<div class="t d" style="left:434.0px;top:139.8px;width:35.9px;height:21.0px;line-height:21.0px;color:#000;"><span class="fit" style="transform:scaleX(0.824)">180億</span></div>
<div class="t d" style="left:469.9px;top:139.8px;width:35.7px;height:21.0px;line-height:21.0px;color:#000;"><span class="fit" style="transform:scaleX(0.824)">359億</span></div>
<div class="t d" style="left:75.0px;top:160.7px;width:35.9px;height:21.0px;line-height:21.0px;color:#000;"><span class="fit" style="transform:scaleX(0.830)">877万</span></div>
<div class="t d s10" style="left:110.9px;top:160.2px;width:35.9px;height:21.0px;line-height:21.0px;color:#10107a;"><span class="fit" style="transform:scaleX(0.930)">1754万</span></div>
<div class="t d s10" style="left:146.8px;top:160.2px;width:35.9px;height:21.0px;line-height:21.0px;color:#d42020;"><span class="fit" style="transform:scaleX(0.930)">3509万</span></div>
<div class="t d s10" style="left:182.7px;top:160.2px;width:35.9px;height:21.0px;line-height:21.0px;color:#b01818;"><span class="fit" style="transform:scaleX(0.930)">7018万</span></div>
<div class="t d s11" style="left:218.6px;top:160.2px;width:35.9px;height:21.0px;line-height:21.0px;color:#000;"><span class="fit" style="transform:scaleX(1.001)">1.40億</span></div>
<div class="t d s11" style="left:254.5px;top:160.2px;width:35.9px;height:21.0px;line-height:21.0px;color:#000;"><span class="fit" style="transform:scaleX(1.001)">2.81億</span></div>
<div class="t d s11" style="left:290.4px;top:160.2px;width:35.9px;height:21.0px;line-height:21.0px;color:#000;"><span class="fit" style="transform:scaleX(1.001)">5.61億</span></div>
<div class="t d s11" style="left:326.3px;top:160.2px;width:35.9px;height:21.0px;line-height:21.0px;color:#000;"><span class="fit" style="transform:scaleX(1.027)">11.2億</span></div>
<div class="t d s11" style="left:362.2px;top:160.2px;width:35.9px;height:21.0px;line-height:21.0px;color:#000;"><span class="fit" style="transform:scaleX(1.001)">22.5億</span></div>
<div class="t d s11" style="left:398.1px;top:160.2px;width:35.9px;height:21.0px;line-height:21.0px;color:#000;"><span class="fit" style="transform:scaleX(1.001)">44.9億</span></div>
<div class="t d s11" style="left:434.0px;top:160.2px;width:35.9px;height:21.0px;line-height:21.0px;color:#000;"><span class="fit" style="transform:scaleX(1.001)">89.8億</span></div>
<div class="t d" style="left:469.9px;top:160.7px;width:35.7px;height:21.0px;line-height:21.0px;color:#000;"><span class="fit" style="transform:scaleX(0.824)">180億</span></div>
<div class="t d" style="left:75.0px;top:181.7px;width:35.9px;height:21.0px;line-height:21.0px;color:#000;"><span class="fit" style="transform:scaleX(0.830)">439万</span></div>
<div class="t d" style="left:110.9px;top:181.7px;width:35.9px;height:21.0px;line-height:21.0px;color:#000;"><span class="fit" style="transform:scaleX(0.830)">877万</span></div>
<div class="t d s10" style="left:146.8px;top:181.2px;width:35.9px;height:21.0px;line-height:21.0px;color:#10107a;"><span class="fit" style="transform:scaleX(0.930)">1754万</span></div>
<div class="t d s10" style="left:182.7px;top:181.2px;width:35.9px;height:21.0px;line-height:21.0px;color:#d42020;"><span class="fit" style="transform:scaleX(0.930)">3509万</span></div>
<div class="t d s10" style="left:218.6px;top:181.2px;width:35.9px;height:21.0px;line-height:21.0px;color:#b01818;"><span class="fit" style="transform:scaleX(0.930)">7018万</span></div>
<div class="t d s11" style="left:254.5px;top:181.2px;width:35.9px;height:21.0px;line-height:21.0px;color:#000;"><span class="fit" style="transform:scaleX(1.001)">1.40億</span></div>
<div class="t d s11" style="left:290.4px;top:181.2px;width:35.9px;height:21.0px;line-height:21.0px;color:#000;"><span class="fit" style="transform:scaleX(1.001)">2.81億</span></div>
<div class="t d s11" style="left:326.3px;top:181.2px;width:35.9px;height:21.0px;line-height:21.0px;color:#000;"><span class="fit" style="transform:scaleX(1.001)">5.61億</span></div>
<div class="t d s11" style="left:362.2px;top:181.2px;width:35.9px;height:21.0px;line-height:21.0px;color:#000;"><span class="fit" style="transform:scaleX(1.027)">11.2億</span></div>
<div class="t d s11" style="left:398.1px;top:181.2px;width:35.9px;height:21.0px;line-height:21.0px;color:#000;"><span class="fit" style="transform:scaleX(1.001)">22.5億</span></div>
<div class="t d s11" style="left:434.0px;top:181.2px;width:35.9px;height:21.0px;line-height:21.0px;color:#000;"><span class="fit" style="transform:scaleX(1.001)">44.9億</span></div>
<div class="t d s11" style="left:469.9px;top:181.2px;width:35.7px;height:21.0px;line-height:21.0px;color:#000;"><span class="fit" style="transform:scaleX(1.001)">89.8億</span></div>
<div class="t d b" style="left:75.0px;top:202.7px;width:35.9px;height:21.0px;line-height:21.0px;color:#000;"><span class="fit" style="transform:scaleX(0.830)">219万</span></div>
<div class="t d" style="left:110.9px;top:202.7px;width:35.9px;height:21.0px;line-height:21.0px;color:#000;"><span class="fit" style="transform:scaleX(0.830)">439万</span></div>
<div class="t d" style="left:146.8px;top:202.7px;width:35.9px;height:21.0px;line-height:21.0px;color:#000;"><span class="fit" style="transform:scaleX(0.830)">877万</span></div>
<div class="t d s10" style="left:182.7px;top:202.2px;width:35.9px;height:21.0px;line-height:21.0px;color:#10107a;"><span class="fit" style="transform:scaleX(0.930)">1754万</span></div>
<div class="t d s10" style="left:218.6px;top:202.2px;width:35.9px;height:21.0px;line-height:21.0px;color:#d42020;"><span class="fit" style="transform:scaleX(0.930)">3509万</span></div>
<div class="t d s10" style="left:254.5px;top:202.2px;width:35.9px;height:21.0px;line-height:21.0px;color:#b01818;"><span class="fit" style="transform:scaleX(0.930)">7018万</span></div>
<div class="t d s11" style="left:290.4px;top:202.2px;width:35.9px;height:21.0px;line-height:21.0px;color:#000;"><span class="fit" style="transform:scaleX(1.001)">1.40億</span></div>
<div class="t d s11" style="left:326.3px;top:202.2px;width:35.9px;height:21.0px;line-height:21.0px;color:#000;"><span class="fit" style="transform:scaleX(1.001)">2.81億</span></div>
<div class="t d s11" style="left:362.2px;top:202.2px;width:35.9px;height:21.0px;line-height:21.0px;color:#000;"><span class="fit" style="transform:scaleX(1.001)">5.61億</span></div>
<div class="t d s11" style="left:398.1px;top:202.2px;width:35.9px;height:21.0px;line-height:21.0px;color:#000;"><span class="fit" style="transform:scaleX(1.027)">11.2億</span></div>
<div class="t d s11" style="left:434.0px;top:202.2px;width:35.9px;height:21.0px;line-height:21.0px;color:#000;"><span class="fit" style="transform:scaleX(1.001)">22.5億</span></div>
<div class="t d s11" style="left:469.9px;top:202.2px;width:35.7px;height:21.0px;line-height:21.0px;color:#000;"><span class="fit" style="transform:scaleX(1.001)">44.9億</span></div>
<div class="t d" style="left:75.0px;top:223.6px;width:35.9px;height:21.0px;line-height:21.0px;color:#000;"><span class="fit" style="transform:scaleX(0.854)">110万</span></div>
<div class="t d b" style="left:110.9px;top:223.6px;width:35.9px;height:21.0px;line-height:21.0px;color:#000;"><span class="fit" style="transform:scaleX(0.830)">219万</span></div>
<div class="t d" style="left:146.8px;top:223.6px;width:35.9px;height:21.0px;line-height:21.0px;color:#000;"><span class="fit" style="transform:scaleX(0.830)">439万</span></div>
<div class="t d" style="left:182.7px;top:223.6px;width:35.9px;height:21.0px;line-height:21.0px;color:#000;"><span class="fit" style="transform:scaleX(0.830)">877万</span></div>
<div class="t d s10" style="left:218.6px;top:223.1px;width:35.9px;height:21.0px;line-height:21.0px;color:#10107a;"><span class="fit" style="transform:scaleX(0.930)">1754万</span></div>
<div class="t d s10" style="left:254.5px;top:223.1px;width:35.9px;height:21.0px;line-height:21.0px;color:#d42020;"><span class="fit" style="transform:scaleX(0.930)">3509万</span></div>
<div class="t d s10" style="left:290.4px;top:223.1px;width:35.9px;height:21.0px;line-height:21.0px;color:#b01818;"><span class="fit" style="transform:scaleX(0.930)">7018万</span></div>
<div class="t d s11" style="left:326.3px;top:223.1px;width:35.9px;height:21.0px;line-height:21.0px;color:#000;"><span class="fit" style="transform:scaleX(1.001)">1.40億</span></div>
<div class="t d s11" style="left:362.2px;top:223.1px;width:35.9px;height:21.0px;line-height:21.0px;color:#000;"><span class="fit" style="transform:scaleX(1.001)">2.81億</span></div>
<div class="t d s11" style="left:398.1px;top:223.1px;width:35.9px;height:21.0px;line-height:21.0px;color:#000;"><span class="fit" style="transform:scaleX(1.001)">5.61億</span></div>
<div class="t d s11" style="left:434.0px;top:223.1px;width:35.9px;height:21.0px;line-height:21.0px;color:#000;"><span class="fit" style="transform:scaleX(1.027)">11.2億</span></div>
<div class="t d s11" style="left:469.9px;top:223.1px;width:35.7px;height:21.0px;line-height:21.0px;color:#000;"><span class="fit" style="transform:scaleX(1.001)">22.5億</span></div>
<div class="t d" style="left:75.0px;top:244.6px;width:35.9px;height:21.0px;line-height:21.0px;color:#000;"><span class="fit" style="transform:scaleX(0.833)">55万</span></div>
<div class="t d" style="left:110.9px;top:244.6px;width:35.9px;height:21.0px;line-height:21.0px;color:#000;"><span class="fit" style="transform:scaleX(0.854)">110万</span></div>
<div class="t d b" style="left:146.8px;top:244.6px;width:35.9px;height:21.0px;line-height:21.0px;color:#000;"><span class="fit" style="transform:scaleX(0.830)">219万</span></div>
<div class="t d" style="left:182.7px;top:244.6px;width:35.9px;height:21.0px;line-height:21.0px;color:#000;"><span class="fit" style="transform:scaleX(0.830)">439万</span></div>
<div class="t d" style="left:218.6px;top:244.6px;width:35.9px;height:21.0px;line-height:21.0px;color:#000;"><span class="fit" style="transform:scaleX(0.830)">877万</span></div>
<div class="t d s10" style="left:254.5px;top:244.1px;width:35.9px;height:21.0px;line-height:21.0px;color:#10107a;"><span class="fit" style="transform:scaleX(0.930)">1754万</span></div>
<div class="t d s10" style="left:290.4px;top:244.1px;width:35.9px;height:21.0px;line-height:21.0px;color:#d42020;"><span class="fit" style="transform:scaleX(0.930)">3509万</span></div>
<div class="t d s10" style="left:326.3px;top:244.1px;width:35.9px;height:21.0px;line-height:21.0px;color:#b01818;"><span class="fit" style="transform:scaleX(0.930)">7018万</span></div>
<div class="t d s11" style="left:362.2px;top:244.1px;width:35.9px;height:21.0px;line-height:21.0px;color:#000;"><span class="fit" style="transform:scaleX(1.001)">1.40億</span></div>
<div class="t d s11" style="left:398.1px;top:244.1px;width:35.9px;height:21.0px;line-height:21.0px;color:#000;"><span class="fit" style="transform:scaleX(1.001)">2.81億</span></div>
<div class="t d s11" style="left:434.0px;top:244.1px;width:35.9px;height:21.0px;line-height:21.0px;color:#000;"><span class="fit" style="transform:scaleX(1.001)">5.61億</span></div>
<div class="t d s8" style="left:469.9px;top:244.1px;width:35.7px;height:21.0px;line-height:21.0px;color:#000;"><span class="fit" style="transform:scaleX(0.924)">11.23億</span></div>
<div class="t d" style="left:75.0px;top:265.6px;width:35.9px;height:21.0px;line-height:21.0px;color:#000;"><span class="fit" style="transform:scaleX(0.833)">27万</span></div>
<div class="t d" style="left:110.9px;top:265.6px;width:35.9px;height:21.0px;line-height:21.0px;color:#000;"><span class="fit" style="transform:scaleX(0.833)">55万</span></div>
<div class="t d" style="left:146.8px;top:265.6px;width:35.9px;height:21.0px;line-height:21.0px;color:#000;"><span class="fit" style="transform:scaleX(0.854)">110万</span></div>
<div class="t d b" style="left:182.7px;top:265.6px;width:35.9px;height:21.0px;line-height:21.0px;color:#000;"><span class="fit" style="transform:scaleX(0.830)">219万</span></div>
<div class="t d" style="left:218.6px;top:265.6px;width:35.9px;height:21.0px;line-height:21.0px;color:#000;"><span class="fit" style="transform:scaleX(0.830)">439万</span></div>
<div class="t d" style="left:254.5px;top:265.6px;width:35.9px;height:21.0px;line-height:21.0px;color:#000;"><span class="fit" style="transform:scaleX(0.830)">877万</span></div>
<div class="t d s10" style="left:290.4px;top:265.1px;width:35.9px;height:21.0px;line-height:21.0px;color:#10107a;"><span class="fit" style="transform:scaleX(0.930)">1754万</span></div>
<div class="t d s10" style="left:326.3px;top:265.1px;width:35.9px;height:21.0px;line-height:21.0px;color:#d42020;"><span class="fit" style="transform:scaleX(0.930)">3509万</span></div>
<div class="t d s10" style="left:362.2px;top:265.1px;width:35.9px;height:21.0px;line-height:21.0px;color:#b01818;"><span class="fit" style="transform:scaleX(0.930)">7018万</span></div>
<div class="t d s11" style="left:398.1px;top:265.1px;width:35.9px;height:21.0px;line-height:21.0px;color:#000;"><span class="fit" style="transform:scaleX(1.001)">1.40億</span></div>
<div class="t d s11" style="left:434.0px;top:265.1px;width:35.9px;height:21.0px;line-height:21.0px;color:#000;"><span class="fit" style="transform:scaleX(1.001)">2.81億</span></div>
<div class="t d s11" style="left:469.9px;top:265.1px;width:35.7px;height:21.0px;line-height:21.0px;color:#000;"><span class="fit" style="transform:scaleX(1.001)">5.61億</span></div>
<div class="t d" style="left:75.0px;top:286.6px;width:35.9px;height:21.0px;line-height:21.0px;color:#000;"><span class="fit" style="transform:scaleX(0.833)">14万</span></div>
<div class="t d" style="left:110.9px;top:286.6px;width:35.9px;height:21.0px;line-height:21.0px;color:#000;"><span class="fit" style="transform:scaleX(0.833)">27万</span></div>
<div class="t d" style="left:146.8px;top:286.6px;width:35.9px;height:21.0px;line-height:21.0px;color:#000;"><span class="fit" style="transform:scaleX(0.833)">55万</span></div>
<div class="t d" style="left:182.7px;top:286.6px;width:35.9px;height:21.0px;line-height:21.0px;color:#000;"><span class="fit" style="transform:scaleX(0.854)">110万</span></div>
<div class="t d b" style="left:218.6px;top:286.6px;width:35.9px;height:21.0px;line-height:21.0px;color:#000;"><span class="fit" style="transform:scaleX(0.830)">219万</span></div>
<div class="t d" style="left:254.5px;top:286.6px;width:35.9px;height:21.0px;line-height:21.0px;color:#000;"><span class="fit" style="transform:scaleX(0.830)">439万</span></div>
<div class="t d" style="left:290.4px;top:286.6px;width:35.9px;height:21.0px;line-height:21.0px;color:#000;"><span class="fit" style="transform:scaleX(0.830)">877万</span></div>
<div class="t d s10" style="left:326.3px;top:286.1px;width:35.9px;height:21.0px;line-height:21.0px;color:#10107a;"><span class="fit" style="transform:scaleX(0.930)">1754万</span></div>
<div class="t d s10" style="left:362.2px;top:286.1px;width:35.9px;height:21.0px;line-height:21.0px;color:#d42020;"><span class="fit" style="transform:scaleX(0.930)">3509万</span></div>
<div class="t d s10" style="left:398.1px;top:286.1px;width:35.9px;height:21.0px;line-height:21.0px;color:#b01818;"><span class="fit" style="transform:scaleX(0.930)">7018万</span></div>
<div class="t d s11" style="left:434.0px;top:286.1px;width:35.9px;height:21.0px;line-height:21.0px;color:#000;"><span class="fit" style="transform:scaleX(1.001)">1.40億</span></div>
<div class="t d s11" style="left:469.9px;top:286.1px;width:35.7px;height:21.0px;line-height:21.0px;color:#000;"><span class="fit" style="transform:scaleX(1.001)">2.81億</span></div>
<div class="t d" style="left:75.0px;top:307.5px;width:35.9px;height:21.0px;line-height:21.0px;color:#000;"><span class="fit" style="transform:scaleX(0.823)">6.9万</span></div>
<div class="t d" style="left:110.9px;top:307.5px;width:35.9px;height:21.0px;line-height:21.0px;color:#000;"><span class="fit" style="transform:scaleX(0.833)">14万</span></div>
<div class="t d" style="left:146.8px;top:307.5px;width:35.9px;height:21.0px;line-height:21.0px;color:#000;"><span class="fit" style="transform:scaleX(0.833)">27万</span></div>
<div class="t d" style="left:182.7px;top:307.5px;width:35.9px;height:21.0px;line-height:21.0px;color:#000;"><span class="fit" style="transform:scaleX(0.833)">55万</span></div>
<div class="t d" style="left:218.6px;top:307.5px;width:35.9px;height:21.0px;line-height:21.0px;color:#000;"><span class="fit" style="transform:scaleX(0.854)">110万</span></div>
<div class="t d b" style="left:254.5px;top:307.5px;width:35.9px;height:21.0px;line-height:21.0px;color:#000;"><span class="fit" style="transform:scaleX(0.830)">219万</span></div>
<div class="t d" style="left:290.4px;top:307.5px;width:35.9px;height:21.0px;line-height:21.0px;color:#000;"><span class="fit" style="transform:scaleX(0.830)">439万</span></div>
<div class="t d" style="left:326.3px;top:307.5px;width:35.9px;height:21.0px;line-height:21.0px;color:#000;"><span class="fit" style="transform:scaleX(0.830)">877万</span></div>
<div class="t d s10" style="left:362.2px;top:307.0px;width:35.9px;height:21.0px;line-height:21.0px;color:#10107a;"><span class="fit" style="transform:scaleX(0.930)">1754万</span></div>
<div class="t d s10" style="left:398.1px;top:307.0px;width:35.9px;height:21.0px;line-height:21.0px;color:#d42020;"><span class="fit" style="transform:scaleX(0.930)">3509万</span></div>
<div class="t d s10" style="left:434.0px;top:307.0px;width:35.9px;height:21.0px;line-height:21.0px;color:#b01818;"><span class="fit" style="transform:scaleX(0.930)">7018万</span></div>
<div class="t d s11" style="left:469.9px;top:307.0px;width:35.7px;height:21.0px;line-height:21.0px;color:#000;"><span class="fit" style="transform:scaleX(1.001)">1.40億</span></div>
<div class="t d" style="left:75.0px;top:328.5px;width:35.9px;height:21.0px;line-height:21.0px;color:#000;"><span class="fit" style="transform:scaleX(0.823)">3.4万</span></div>
<div class="t d" style="left:110.9px;top:328.5px;width:35.9px;height:21.0px;line-height:21.0px;color:#000;"><span class="fit" style="transform:scaleX(0.823)">6.9万</span></div>
<div class="t d s9" style="left:146.8px;top:326.0px;width:35.9px;height:21.0px;line-height:21.0px;color:#000;"><span class="fit" style="transform:scaleX(0.905)">13.7万</span></div>
<div class="t d" style="left:182.7px;top:328.5px;width:35.9px;height:21.0px;line-height:21.0px;color:#000;"><span class="fit" style="transform:scaleX(0.833)">27万</span></div>
<div class="t d" style="left:218.6px;top:328.5px;width:35.9px;height:21.0px;line-height:21.0px;color:#000;"><span class="fit" style="transform:scaleX(0.833)">55万</span></div>
<div class="t d" style="left:254.5px;top:328.5px;width:35.9px;height:21.0px;line-height:21.0px;color:#000;"><span class="fit" style="transform:scaleX(0.854)">110万</span></div>
<div class="t d b" style="left:290.4px;top:328.5px;width:35.9px;height:21.0px;line-height:21.0px;color:#000;"><span class="fit" style="transform:scaleX(0.830)">219万</span></div>
<div class="t d" style="left:326.3px;top:328.5px;width:35.9px;height:21.0px;line-height:21.0px;color:#000;"><span class="fit" style="transform:scaleX(0.830)">439万</span></div>
<div class="t d" style="left:362.2px;top:328.5px;width:35.9px;height:21.0px;line-height:21.0px;color:#000;"><span class="fit" style="transform:scaleX(0.830)">877万</span></div>
<div class="t d s10" style="left:398.1px;top:328.0px;width:35.9px;height:21.0px;line-height:21.0px;color:#10107a;"><span class="fit" style="transform:scaleX(0.930)">1754万</span></div>
<div class="t d s10" style="left:434.0px;top:328.0px;width:35.9px;height:21.0px;line-height:21.0px;color:#d42020;"><span class="fit" style="transform:scaleX(0.930)">3509万</span></div>
<div class="t d s10" style="left:469.9px;top:328.0px;width:35.7px;height:21.0px;line-height:21.0px;color:#b01818;"><span class="fit" style="transform:scaleX(0.930)">7018万</span></div>
<div class="t d" style="left:75.0px;top:349.5px;width:35.9px;height:21.0px;line-height:21.0px;color:#000;"><span class="fit" style="transform:scaleX(0.823)">1.7万</span></div>
<div class="t d" style="left:110.9px;top:349.5px;width:35.9px;height:21.0px;line-height:21.0px;color:#000;"><span class="fit" style="transform:scaleX(0.823)">3.4万</span></div>
<div class="t d" style="left:146.8px;top:349.5px;width:35.9px;height:21.0px;line-height:21.0px;color:#000;"><span class="fit" style="transform:scaleX(0.823)">6.9万</span></div>
<div class="t d" style="left:182.7px;top:349.5px;width:35.9px;height:21.0px;line-height:21.0px;color:#000;"><span class="fit" style="transform:scaleX(0.833)">14万</span></div>
<div class="t d" style="left:218.6px;top:349.5px;width:35.9px;height:21.0px;line-height:21.0px;color:#000;"><span class="fit" style="transform:scaleX(0.833)">27万</span></div>
<div class="t d" style="left:254.5px;top:349.5px;width:35.9px;height:21.0px;line-height:21.0px;color:#000;"><span class="fit" style="transform:scaleX(0.833)">55万</span></div>
<div class="t d" style="left:290.4px;top:349.5px;width:35.9px;height:21.0px;line-height:21.0px;color:#000;"><span class="fit" style="transform:scaleX(0.854)">110万</span></div>
<div class="t d b" style="left:326.3px;top:349.5px;width:35.9px;height:21.0px;line-height:21.0px;color:#000;"><span class="fit" style="transform:scaleX(0.830)">219万</span></div>
<div class="t d" style="left:362.2px;top:349.5px;width:35.9px;height:21.0px;line-height:21.0px;color:#000;"><span class="fit" style="transform:scaleX(0.830)">439万</span></div>
<div class="t d" style="left:398.1px;top:349.5px;width:35.9px;height:21.0px;line-height:21.0px;color:#000;"><span class="fit" style="transform:scaleX(0.830)">877万</span></div>
<div class="t d s10" style="left:434.0px;top:349.0px;width:35.9px;height:21.0px;line-height:21.0px;color:#10107a;"><span class="fit" style="transform:scaleX(0.930)">1754万</span></div>
<div class="t d s10" style="left:469.9px;top:349.0px;width:35.7px;height:21.0px;line-height:21.0px;color:#d42020;"><span class="fit" style="transform:scaleX(0.930)">3509万</span></div>
<div class="t d" style="left:75.0px;top:370.4px;width:35.9px;height:21.0px;line-height:21.0px;color:#000;"><span class="fit" style="transform:scaleX(0.823)">0.9万</span></div>
<div class="t d" style="left:110.9px;top:370.4px;width:35.9px;height:21.0px;line-height:21.0px;color:#000;"><span class="fit" style="transform:scaleX(0.823)">1.7万</span></div>
<div class="t d" style="left:146.8px;top:370.4px;width:35.9px;height:21.0px;line-height:21.0px;color:#000;"><span class="fit" style="transform:scaleX(0.823)">3.4万</span></div>
<div class="t d" style="left:182.7px;top:370.4px;width:35.9px;height:21.0px;line-height:21.0px;color:#000;"><span class="fit" style="transform:scaleX(0.823)">6.9万</span></div>
<div class="t d" style="left:218.6px;top:370.4px;width:35.9px;height:21.0px;line-height:21.0px;color:#000;"><span class="fit" style="transform:scaleX(0.833)">14万</span></div>
<div class="t d" style="left:254.5px;top:370.4px;width:35.9px;height:21.0px;line-height:21.0px;color:#000;"><span class="fit" style="transform:scaleX(0.833)">27万</span></div>
<div class="t d" style="left:290.4px;top:370.4px;width:35.9px;height:21.0px;line-height:21.0px;color:#000;"><span class="fit" style="transform:scaleX(0.833)">55万</span></div>
<div class="t d" style="left:326.3px;top:370.4px;width:35.9px;height:21.0px;line-height:21.0px;color:#000;"><span class="fit" style="transform:scaleX(0.854)">110万</span></div>
<div class="t d b" style="left:362.2px;top:370.4px;width:35.9px;height:21.0px;line-height:21.0px;color:#000;"><span class="fit" style="transform:scaleX(0.830)">219万</span></div>
<div class="t d" style="left:398.1px;top:370.4px;width:35.9px;height:21.0px;line-height:21.0px;color:#000;"><span class="fit" style="transform:scaleX(0.830)">439万</span></div>
<div class="t d" style="left:434.0px;top:370.4px;width:35.9px;height:21.0px;line-height:21.0px;color:#000;"><span class="fit" style="transform:scaleX(0.830)">877万</span></div>
<div class="t d s10" style="left:469.9px;top:369.9px;width:35.7px;height:21.0px;line-height:21.0px;color:#10107a;"><span class="fit" style="transform:scaleX(0.930)">1754万</span></div>
<div class="t d" style="left:75.0px;top:391.4px;width:35.9px;height:21.0px;line-height:21.0px;color:#000;"><span class="fit" style="transform:scaleX(0.823)">0.4万</span></div>
<div class="t d" style="left:110.9px;top:391.4px;width:35.9px;height:21.0px;line-height:21.0px;color:#000;"><span class="fit" style="transform:scaleX(0.823)">0.9万</span></div>
<div class="t d" style="left:146.8px;top:391.4px;width:35.9px;height:21.0px;line-height:21.0px;color:#000;"><span class="fit" style="transform:scaleX(0.823)">1.7万</span></div>
<div class="t d" style="left:182.7px;top:391.4px;width:35.9px;height:21.0px;line-height:21.0px;color:#000;"><span class="fit" style="transform:scaleX(0.823)">3.4万</span></div>
<div class="t d" style="left:218.6px;top:391.4px;width:35.9px;height:21.0px;line-height:21.0px;color:#000;"><span class="fit" style="transform:scaleX(0.823)">6.9万</span></div>
<div class="t d" style="left:254.5px;top:391.4px;width:35.9px;height:21.0px;line-height:21.0px;color:#000;"><span class="fit" style="transform:scaleX(0.833)">14万</span></div>
<div class="t d" style="left:290.4px;top:391.4px;width:35.9px;height:21.0px;line-height:21.0px;color:#000;"><span class="fit" style="transform:scaleX(0.833)">27万</span></div>
<div class="t d" style="left:326.3px;top:391.4px;width:35.9px;height:21.0px;line-height:21.0px;color:#000;"><span class="fit" style="transform:scaleX(0.833)">55万</span></div>
<div class="t d" style="left:362.2px;top:391.4px;width:35.9px;height:21.0px;line-height:21.0px;color:#000;"><span class="fit" style="transform:scaleX(0.854)">110万</span></div>
<div class="t d b" style="left:398.1px;top:391.4px;width:35.9px;height:21.0px;line-height:21.0px;color:#000;"><span class="fit" style="transform:scaleX(0.830)">219万</span></div>
<div class="t d" style="left:434.0px;top:391.4px;width:35.9px;height:21.0px;line-height:21.0px;color:#000;"><span class="fit" style="transform:scaleX(0.830)">439万</span></div>
<div class="t d" style="left:469.9px;top:391.4px;width:35.7px;height:21.0px;line-height:21.0px;color:#000;"><span class="fit" style="transform:scaleX(0.830)">877万</span></div>
<div class="t d" style="left:75.0px;top:412.4px;width:35.9px;height:21.0px;line-height:21.0px;color:#000;"><span class="fit" style="transform:scaleX(0.823)">0.2万</span></div>
<div class="t d" style="left:110.9px;top:412.4px;width:35.9px;height:21.0px;line-height:21.0px;color:#000;"><span class="fit" style="transform:scaleX(0.823)">0.4万</span></div>
<div class="t d" style="left:146.8px;top:412.4px;width:35.9px;height:21.0px;line-height:21.0px;color:#000;"><span class="fit" style="transform:scaleX(0.823)">0.9万</span></div>
<div class="t d" style="left:182.7px;top:412.4px;width:35.9px;height:21.0px;line-height:21.0px;color:#000;"><span class="fit" style="transform:scaleX(0.823)">1.7万</span></div>
<div class="t d" style="left:218.6px;top:412.4px;width:35.9px;height:21.0px;line-height:21.0px;color:#000;"><span class="fit" style="transform:scaleX(0.823)">3.4万</span></div>
<div class="t d" style="left:254.5px;top:412.4px;width:35.9px;height:21.0px;line-height:21.0px;color:#000;"><span class="fit" style="transform:scaleX(0.823)">6.9万</span></div>
<div class="t d" style="left:290.4px;top:412.4px;width:35.9px;height:21.0px;line-height:21.0px;color:#000;"><span class="fit" style="transform:scaleX(0.833)">14万</span></div>
<div class="t d" style="left:326.3px;top:412.4px;width:35.9px;height:21.0px;line-height:21.0px;color:#000;"><span class="fit" style="transform:scaleX(0.833)">27万</span></div>
<div class="t d" style="left:362.2px;top:412.4px;width:35.9px;height:21.0px;line-height:21.0px;color:#000;"><span class="fit" style="transform:scaleX(0.833)">55万</span></div>
<div class="t d" style="left:398.1px;top:412.4px;width:35.9px;height:21.0px;line-height:21.0px;color:#000;"><span class="fit" style="transform:scaleX(0.854)">110万</span></div>
<div class="t d b" style="left:434.0px;top:412.4px;width:35.9px;height:21.0px;line-height:21.0px;color:#000;"><span class="fit" style="transform:scaleX(0.830)">219万</span></div>
<div class="t d" style="left:469.9px;top:412.4px;width:35.7px;height:21.0px;line-height:21.0px;color:#000;"><span class="fit" style="transform:scaleX(0.830)">439万</span></div>
<div class="t d" style="left:75.0px;top:433.3px;width:35.9px;height:20.5px;line-height:20.5px;color:#000;"><span class="fit" style="transform:scaleX(0.823)">0.1万</span></div>
<div class="t d" style="left:110.9px;top:433.3px;width:35.9px;height:20.5px;line-height:20.5px;color:#000;"><span class="fit" style="transform:scaleX(0.823)">0.2万</span></div>
<div class="t d" style="left:146.8px;top:433.3px;width:35.9px;height:20.5px;line-height:20.5px;color:#000;"><span class="fit" style="transform:scaleX(0.823)">0.4万</span></div>
<div class="t d" style="left:182.7px;top:433.3px;width:35.9px;height:20.5px;line-height:20.5px;color:#000;"><span class="fit" style="transform:scaleX(0.823)">0.9万</span></div>
<div class="t d" style="left:218.6px;top:433.3px;width:35.9px;height:20.5px;line-height:20.5px;color:#000;"><span class="fit" style="transform:scaleX(0.823)">1.7万</span></div>
<div class="t d" style="left:254.5px;top:433.3px;width:35.9px;height:20.5px;line-height:20.5px;color:#000;"><span class="fit" style="transform:scaleX(0.823)">3.4万</span></div>
<div class="t d" style="left:290.4px;top:433.3px;width:35.9px;height:20.5px;line-height:20.5px;color:#000;"><span class="fit" style="transform:scaleX(0.823)">6.9万</span></div>
<div class="t d" style="left:326.3px;top:433.3px;width:35.9px;height:20.5px;line-height:20.5px;color:#000;"><span class="fit" style="transform:scaleX(0.833)">14万</span></div>
<div class="t d" style="left:362.2px;top:433.3px;width:35.9px;height:20.5px;line-height:20.5px;color:#000;"><span class="fit" style="transform:scaleX(0.833)">27万</span></div>
<div class="t d" style="left:398.1px;top:433.3px;width:35.9px;height:20.5px;line-height:20.5px;color:#000;"><span class="fit" style="transform:scaleX(0.833)">55万</span></div>
<div class="t d" style="left:434.0px;top:433.3px;width:35.9px;height:20.5px;line-height:20.5px;color:#000;"><span class="fit" style="transform:scaleX(0.854)">110万</span></div>
<div class="t d b" style="left:469.9px;top:433.3px;width:35.7px;height:20.5px;line-height:20.5px;color:#000;"><span class="fit" style="transform:scaleX(0.830)">219万</span></div>
<div class="t d r" style="left:75.0px;top:34.1px;width:35.9px;height:21.5px;line-height:21.5px;"><span class="fit" style="transform:scaleX(0.849)">57.9</span></div>
<div class="t dia b" style="left:75.0px;top:55.8px;width:35.9px;height:31.9px;line-height:31.9px;">2</div>
<div class="t d r" style="left:110.9px;top:34.1px;width:35.9px;height:21.5px;line-height:21.5px;"><span class="fit" style="transform:scaleX(0.849)">40.9</span></div>
<div class="t dia" style="left:110.9px;top:55.8px;width:35.9px;height:31.9px;line-height:31.9px;">2.83</div>
<div class="t d r" style="left:146.8px;top:34.1px;width:35.9px;height:21.5px;line-height:21.5px;"><span class="fit" style="transform:scaleX(0.849)">29.0</span></div>
<div class="t dia b" style="left:146.8px;top:55.8px;width:35.9px;height:31.9px;line-height:31.9px;">4</div>
<div class="t d r" style="left:182.7px;top:34.1px;width:35.9px;height:21.5px;line-height:21.5px;"><span class="fit" style="transform:scaleX(0.849)">20.5</span></div>
<div class="t dia" style="left:182.7px;top:55.8px;width:35.9px;height:31.9px;line-height:31.9px;">5.66</div>
<div class="t d r" style="left:218.6px;top:34.1px;width:35.9px;height:21.5px;line-height:21.5px;"><span class="fit" style="transform:scaleX(0.849)">14.5</span></div>
<div class="t dia b" style="left:218.6px;top:55.8px;width:35.9px;height:31.9px;line-height:31.9px;">8</div>
<div class="t d r" style="left:254.5px;top:34.1px;width:35.9px;height:21.5px;line-height:21.5px;"><span class="fit" style="transform:scaleX(0.849)">10.2</span></div>
<div class="t dia" style="left:254.5px;top:55.8px;width:35.9px;height:31.9px;line-height:31.9px;">11.3</div>
<div class="t d r" style="left:290.4px;top:34.1px;width:35.9px;height:21.5px;line-height:21.5px;"><span class="fit" style="transform:scaleX(0.849)">7.24</span></div>
<div class="t dia b" style="left:290.4px;top:55.8px;width:35.9px;height:31.9px;line-height:31.9px;">16</div>
<div class="t d r" style="left:326.3px;top:34.1px;width:35.9px;height:21.5px;line-height:21.5px;"><span class="fit" style="transform:scaleX(0.849)">5.12</span></div>
<div class="t dia" style="left:326.3px;top:55.8px;width:35.9px;height:31.9px;line-height:31.9px;">22.6</div>
<div class="t d r" style="left:362.2px;top:34.1px;width:35.9px;height:21.5px;line-height:21.5px;"><span class="fit" style="transform:scaleX(0.849)">3.62</span></div>
<div class="t dia b" style="left:362.2px;top:55.8px;width:35.9px;height:31.9px;line-height:31.9px;">32</div>
<div class="t d r" style="left:398.1px;top:34.1px;width:35.9px;height:21.5px;line-height:21.5px;"><span class="fit" style="transform:scaleX(0.849)">2.56</span></div>
<div class="t dia" style="left:398.1px;top:55.8px;width:35.9px;height:31.9px;line-height:31.9px;">45.3</div>
<div class="t d r" style="left:434.0px;top:34.1px;width:35.9px;height:21.5px;line-height:21.5px;"><span class="fit" style="transform:scaleX(0.849)">1.81</span></div>
<div class="t dia b" style="left:434.0px;top:55.8px;width:35.9px;height:31.9px;line-height:31.9px;">64</div>
<div class="t d r" style="left:469.9px;top:34.1px;width:35.9px;height:21.5px;line-height:21.5px;"><span class="fit" style="transform:scaleX(0.849)">1.28</span></div>
<div class="t dia" style="left:469.9px;top:55.8px;width:35.9px;height:31.9px;line-height:31.9px;">90.5</div>
<div class="t lab1" style="left:3.5px;top:33.8px;width:70.0px;height:21.5px;line-height:21.5px;"><span class="fit" style="transform:scaleX(0.982)">分解能[秒角]</span></div>
<div class="t lab2" style="left:3.5px;top:55.8px;width:70.0px;height:15.0px;line-height:15.0px;"><span class="fit" style="transform:scaleX(0.923)">有効(<span class="sq">□</span>)径</span></div>
<div class="t lab2" style="left:3.5px;top:69.8px;width:70.0px;height:15.0px;line-height:15.0px;font-size:12px;"><span class="fit" style="transform:scaleX(0.900)">[mm]</span></div>
<div class="t hd" style="left:3.5px;top:90.5px;width:29.2px;height:14.0px;line-height:14.0px;">対角</div>
<div class="t hd" style="left:3.5px;top:103.0px;width:29.2px;height:14.0px;line-height:14.0px;">画角</div>
<div class="t hd2" style="left:34.3px;top:89.5px;width:39.2px;height:15.0px;line-height:15.0px;">換算<b class="f">f</b></div>
<div class="t hd2" style="left:34.3px;top:101.5px;width:39.2px;height:15.0px;line-height:15.0px;">[mm]</div>
<div class="t ang" style="left:6.3px;top:117.8px;width:27.2px;height:20.9px;line-height:20.9px;"><span class="fit" style="transform:scaleX(0.785)">101°</span></div>
<div class="t fv" style="left:34.3px;top:119.3px;width:39.2px;height:20.9px;line-height:20.9px;"><span class="fit" style="transform:scaleX(0.932)">17.7</span></div>
<div class="t ang" style="left:6.3px;top:138.8px;width:27.2px;height:20.9px;line-height:20.9px;"><span class="fit" style="transform:scaleX(0.799)">82°</span></div>
<div class="t fv b" style="left:34.3px;top:140.3px;width:39.2px;height:20.9px;line-height:20.9px;color:#dc2800;font-weight:bold;font-size:14.5px;letter-spacing:0;"><span class="fit" style="transform:scaleX(1.053)">25</span></div>
<div class="t ang" style="left:6.3px;top:159.7px;width:27.2px;height:20.9px;line-height:20.9px;"><span class="fit" style="transform:scaleX(0.799)">63°</span></div>
<div class="t fv" style="left:34.3px;top:161.2px;width:39.2px;height:20.9px;line-height:20.9px;color:#1a1a70;"><span class="fit" style="transform:scaleX(0.989)">35.4</span></div>
<div class="t ang" style="left:6.3px;top:180.7px;width:27.2px;height:20.9px;line-height:20.9px;"><span class="fit" style="transform:scaleX(0.799)">47°</span></div>
<div class="t fv b" style="left:34.3px;top:182.2px;width:39.2px;height:20.9px;line-height:20.9px;"><span class="fit" style="transform:scaleX(1.084)">50</span></div>
<div class="t ang" style="left:6.3px;top:201.7px;width:27.2px;height:20.9px;line-height:20.9px;"><span class="fit" style="transform:scaleX(0.799)">34°</span></div>
<div class="t fv" style="left:34.3px;top:203.2px;width:39.2px;height:20.9px;line-height:20.9px;"><span class="fit" style="transform:scaleX(0.970)">70.7</span></div>
<div class="t ang" style="left:6.3px;top:222.6px;width:27.2px;height:20.9px;line-height:20.9px;"><span class="fit" style="transform:scaleX(0.799)">24°</span></div>
<div class="t fv b" style="left:34.3px;top:224.1px;width:39.2px;height:20.9px;line-height:20.9px;"><span class="fit" style="transform:scaleX(1.074)">100</span></div>
<div class="t ang" style="left:6.3px;top:243.6px;width:27.2px;height:20.9px;line-height:20.9px;"><span class="fit" style="transform:scaleX(0.799)">17°</span></div>
<div class="t fv" style="left:34.3px;top:245.1px;width:39.2px;height:20.9px;line-height:20.9px;"><span class="fit" style="transform:scaleX(1.087)">141</span></div>
<div class="t ang" style="left:6.3px;top:264.6px;width:27.2px;height:20.9px;line-height:20.9px;"><span class="fit" style="transform:scaleX(0.799)">12°</span></div>
<div class="t fv b" style="left:34.3px;top:266.1px;width:39.2px;height:20.9px;line-height:20.9px;"><span class="fit" style="transform:scaleX(1.095)">200</span></div>
<div class="t ang" style="left:6.3px;top:285.6px;width:27.2px;height:20.9px;line-height:20.9px;"><span class="fit" style="transform:scaleX(0.768)">8.7°</span></div>
<div class="t fv" style="left:34.3px;top:287.1px;width:39.2px;height:20.9px;line-height:20.9px;"><span class="fit" style="transform:scaleX(1.132)">283</span></div>
<div class="t ang" style="left:6.3px;top:306.5px;width:27.2px;height:20.9px;line-height:20.9px;"><span class="fit" style="transform:scaleX(0.768)">6.2°</span></div>
<div class="t fv b" style="left:34.3px;top:308.0px;width:39.2px;height:20.9px;line-height:20.9px;"><span class="fit" style="transform:scaleX(1.095)">400</span></div>
<div class="t ang" style="left:6.3px;top:327.5px;width:27.2px;height:20.9px;line-height:20.9px;"><span class="fit" style="transform:scaleX(0.768)">4.4°</span></div>
<div class="t fv" style="left:34.3px;top:329.0px;width:39.2px;height:20.9px;line-height:20.9px;"><span class="fit" style="transform:scaleX(1.132)">566</span></div>
<div class="t ang" style="left:6.3px;top:348.5px;width:27.2px;height:20.9px;line-height:20.9px;"><span class="fit" style="transform:scaleX(0.768)">3.1°</span></div>
<div class="t fv b" style="left:34.3px;top:350.0px;width:39.2px;height:20.9px;line-height:20.9px;"><span class="fit" style="transform:scaleX(1.095)">800</span></div>
<div class="t ang" style="left:6.3px;top:369.4px;width:27.2px;height:20.9px;line-height:20.9px;"><span class="fit" style="transform:scaleX(0.768)">2.2°</span></div>
<div class="t fv" style="left:34.3px;top:370.9px;width:39.2px;height:20.9px;line-height:20.9px;"><span class="fit" style="transform:scaleX(1.033)">1131</span></div>
<div class="t ang" style="left:6.3px;top:390.4px;width:27.2px;height:20.9px;line-height:20.9px;"><span class="fit" style="transform:scaleX(0.768)">1.5°</span></div>
<div class="t fv b" style="left:34.3px;top:391.9px;width:39.2px;height:20.9px;line-height:20.9px;"><span class="fit" style="transform:scaleX(1.023)">1600</span></div>
<div class="t ang" style="left:6.3px;top:411.4px;width:27.2px;height:20.9px;line-height:20.9px;"><span class="fit" style="transform:scaleX(0.768)">1.1°</span></div>
<div class="t fv" style="left:34.3px;top:412.9px;width:39.2px;height:20.9px;line-height:20.9px;"><span class="fit" style="transform:scaleX(1.032)">2263</span></div>
<div class="t ang" style="left:6.3px;top:432.3px;width:27.2px;height:20.9px;line-height:20.9px;"><span class="fit" style="transform:scaleX(0.768)">0.8°</span></div>
<div class="t fv b" style="left:34.3px;top:433.8px;width:39.2px;height:20.9px;line-height:20.9px;"><span class="fit" style="transform:scaleX(1.023)">3200</span></div>
<div class="t d n" style="left:75.0px;top:585.1px;width:35.9px;height:21.0px;line-height:21.0px;color:#d42020;"><span class="fit" style="transform:scaleX(0.834)">101</span></div>
<div class="t d n" style="left:110.9px;top:585.1px;width:35.9px;height:21.0px;line-height:21.0px;color:#b01818;"><span class="fit" style="transform:scaleX(0.834)">142</span></div>
<div class="t d n" style="left:146.8px;top:585.1px;width:35.9px;height:21.0px;line-height:21.0px;color:#000;"><span class="fit" style="transform:scaleX(0.834)">202</span></div>
<div class="t d n" style="left:182.7px;top:585.1px;width:35.9px;height:21.0px;line-height:21.0px;color:#000;"><span class="fit" style="transform:scaleX(0.834)">285</span></div>
<div class="t d n" style="left:218.6px;top:585.1px;width:35.9px;height:21.0px;line-height:21.0px;color:#000;"><span class="fit" style="transform:scaleX(0.834)">403</span></div>
<div class="t d n" style="left:254.5px;top:585.1px;width:35.9px;height:21.0px;line-height:21.0px;color:#000;"><span class="fit" style="transform:scaleX(0.834)">570</span></div>
<div class="t d n" style="left:290.4px;top:585.1px;width:35.9px;height:21.0px;line-height:21.0px;color:#000;"><span class="fit" style="transform:scaleX(0.834)">806</span></div>
<div class="t d n" style="left:326.3px;top:585.1px;width:35.9px;height:21.0px;line-height:21.0px;color:#000;"><span class="fit" style="transform:scaleX(0.855)">1140</span></div>
<div class="t d n" style="left:362.2px;top:585.1px;width:35.9px;height:21.0px;line-height:21.0px;color:#000;"><span class="fit" style="transform:scaleX(0.827)">1612</span></div>
<div class="t d n" style="left:398.1px;top:585.1px;width:35.9px;height:21.0px;line-height:21.0px;color:#000;"><span class="fit" style="transform:scaleX(0.827)">2280</span></div>
<div class="t d n" style="left:434.0px;top:585.1px;width:35.9px;height:21.0px;line-height:21.0px;color:#000;"><span class="fit" style="transform:scaleX(0.827)">3224</span></div>
<div class="t d n" style="left:469.9px;top:585.1px;width:35.7px;height:21.0px;line-height:21.0px;color:#000;"><span class="fit" style="transform:scaleX(0.827)">4560</span></div>
<div class="t d n" style="left:75.0px;top:606.1px;width:35.9px;height:21.0px;line-height:21.0px;color:#10107a;"><span class="fit" style="transform:scaleX(0.849)">71</span></div>
<div class="t d n" style="left:110.9px;top:606.1px;width:35.9px;height:21.0px;line-height:21.0px;color:#d42020;"><span class="fit" style="transform:scaleX(0.834)">101</span></div>
<div class="t d n" style="left:146.8px;top:606.1px;width:35.9px;height:21.0px;line-height:21.0px;color:#b01818;"><span class="fit" style="transform:scaleX(0.834)">142</span></div>
<div class="t d n" style="left:182.7px;top:606.1px;width:35.9px;height:21.0px;line-height:21.0px;color:#000;"><span class="fit" style="transform:scaleX(0.834)">202</span></div>
<div class="t d n" style="left:218.6px;top:606.1px;width:35.9px;height:21.0px;line-height:21.0px;color:#000;"><span class="fit" style="transform:scaleX(0.834)">285</span></div>
<div class="t d n" style="left:254.5px;top:606.1px;width:35.9px;height:21.0px;line-height:21.0px;color:#000;"><span class="fit" style="transform:scaleX(0.834)">403</span></div>
<div class="t d n" style="left:290.4px;top:606.1px;width:35.9px;height:21.0px;line-height:21.0px;color:#000;"><span class="fit" style="transform:scaleX(0.834)">570</span></div>
<div class="t d n" style="left:326.3px;top:606.1px;width:35.9px;height:21.0px;line-height:21.0px;color:#000;"><span class="fit" style="transform:scaleX(0.834)">806</span></div>
<div class="t d n" style="left:362.2px;top:606.1px;width:35.9px;height:21.0px;line-height:21.0px;color:#000;"><span class="fit" style="transform:scaleX(0.855)">1140</span></div>
<div class="t d n" style="left:398.1px;top:606.1px;width:35.9px;height:21.0px;line-height:21.0px;color:#000;"><span class="fit" style="transform:scaleX(0.827)">1612</span></div>
<div class="t d n" style="left:434.0px;top:606.1px;width:35.9px;height:21.0px;line-height:21.0px;color:#000;"><span class="fit" style="transform:scaleX(0.827)">2280</span></div>
<div class="t d n" style="left:469.9px;top:606.1px;width:35.7px;height:21.0px;line-height:21.0px;color:#000;"><span class="fit" style="transform:scaleX(0.827)">3224</span></div>
<div class="t d n" style="left:75.0px;top:627.2px;width:35.9px;height:21.0px;line-height:21.0px;color:#000;"><span class="fit" style="transform:scaleX(0.849)">50</span></div>
<div class="t d n" style="left:110.9px;top:627.2px;width:35.9px;height:21.0px;line-height:21.0px;color:#10107a;"><span class="fit" style="transform:scaleX(0.849)">71</span></div>
<div class="t d n" style="left:146.8px;top:627.2px;width:35.9px;height:21.0px;line-height:21.0px;color:#d42020;"><span class="fit" style="transform:scaleX(0.834)">101</span></div>
<div class="t d n" style="left:182.7px;top:627.2px;width:35.9px;height:21.0px;line-height:21.0px;color:#b01818;"><span class="fit" style="transform:scaleX(0.834)">142</span></div>
<div class="t d n" style="left:218.6px;top:627.2px;width:35.9px;height:21.0px;line-height:21.0px;color:#000;"><span class="fit" style="transform:scaleX(0.834)">202</span></div>
<div class="t d n" style="left:254.5px;top:627.2px;width:35.9px;height:21.0px;line-height:21.0px;color:#000;"><span class="fit" style="transform:scaleX(0.834)">285</span></div>
<div class="t d n" style="left:290.4px;top:627.2px;width:35.9px;height:21.0px;line-height:21.0px;color:#000;"><span class="fit" style="transform:scaleX(0.834)">403</span></div>
<div class="t d n" style="left:326.3px;top:627.2px;width:35.9px;height:21.0px;line-height:21.0px;color:#000;"><span class="fit" style="transform:scaleX(0.834)">570</span></div>
<div class="t d n" style="left:362.2px;top:627.2px;width:35.9px;height:21.0px;line-height:21.0px;color:#000;"><span class="fit" style="transform:scaleX(0.834)">806</span></div>
<div class="t d n" style="left:398.1px;top:627.2px;width:35.9px;height:21.0px;line-height:21.0px;color:#000;"><span class="fit" style="transform:scaleX(0.855)">1140</span></div>
<div class="t d n" style="left:434.0px;top:627.2px;width:35.9px;height:21.0px;line-height:21.0px;color:#000;"><span class="fit" style="transform:scaleX(0.827)">1612</span></div>
<div class="t d n" style="left:469.9px;top:627.2px;width:35.7px;height:21.0px;line-height:21.0px;color:#000;"><span class="fit" style="transform:scaleX(0.827)">2280</span></div>
<div class="t d n" style="left:75.0px;top:648.2px;width:35.9px;height:21.0px;line-height:21.0px;color:#000;"><span class="fit" style="transform:scaleX(0.849)">36</span></div>
<div class="t d n" style="left:110.9px;top:648.2px;width:35.9px;height:21.0px;line-height:21.0px;color:#000;"><span class="fit" style="transform:scaleX(0.849)">50</span></div>
<div class="t d n" style="left:146.8px;top:648.2px;width:35.9px;height:21.0px;line-height:21.0px;color:#10107a;"><span class="fit" style="transform:scaleX(0.849)">71</span></div>
<div class="t d n" style="left:182.7px;top:648.2px;width:35.9px;height:21.0px;line-height:21.0px;color:#d42020;"><span class="fit" style="transform:scaleX(0.834)">101</span></div>
<div class="t d n" style="left:218.6px;top:648.2px;width:35.9px;height:21.0px;line-height:21.0px;color:#b01818;"><span class="fit" style="transform:scaleX(0.834)">142</span></div>
<div class="t d n" style="left:254.5px;top:648.2px;width:35.9px;height:21.0px;line-height:21.0px;color:#000;"><span class="fit" style="transform:scaleX(0.834)">202</span></div>
<div class="t d n" style="left:290.4px;top:648.2px;width:35.9px;height:21.0px;line-height:21.0px;color:#000;"><span class="fit" style="transform:scaleX(0.834)">285</span></div>
<div class="t d n" style="left:326.3px;top:648.2px;width:35.9px;height:21.0px;line-height:21.0px;color:#000;"><span class="fit" style="transform:scaleX(0.834)">403</span></div>
<div class="t d n" style="left:362.2px;top:648.2px;width:35.9px;height:21.0px;line-height:21.0px;color:#000;"><span class="fit" style="transform:scaleX(0.834)">570</span></div>
<div class="t d n" style="left:398.1px;top:648.2px;width:35.9px;height:21.0px;line-height:21.0px;color:#000;"><span class="fit" style="transform:scaleX(0.834)">806</span></div>
<div class="t d n" style="left:434.0px;top:648.2px;width:35.9px;height:21.0px;line-height:21.0px;color:#000;"><span class="fit" style="transform:scaleX(0.855)">1140</span></div>
<div class="t d n" style="left:469.9px;top:648.2px;width:35.7px;height:21.0px;line-height:21.0px;color:#000;"><span class="fit" style="transform:scaleX(0.827)">1612</span></div>
<div class="t d b n" style="left:75.0px;top:669.3px;width:35.9px;height:21.0px;line-height:21.0px;color:#000;"><span class="fit" style="transform:scaleX(0.920)">25</span></div>
<div class="t d n" style="left:110.9px;top:669.3px;width:35.9px;height:21.0px;line-height:21.0px;color:#000;"><span class="fit" style="transform:scaleX(0.849)">36</span></div>
<div class="t d n" style="left:146.8px;top:669.3px;width:35.9px;height:21.0px;line-height:21.0px;color:#000;"><span class="fit" style="transform:scaleX(0.849)">50</span></div>
<div class="t d n" style="left:182.7px;top:669.3px;width:35.9px;height:21.0px;line-height:21.0px;color:#10107a;"><span class="fit" style="transform:scaleX(0.849)">71</span></div>
<div class="t d n" style="left:218.6px;top:669.3px;width:35.9px;height:21.0px;line-height:21.0px;color:#d42020;"><span class="fit" style="transform:scaleX(0.834)">101</span></div>
<div class="t d n" style="left:254.5px;top:669.3px;width:35.9px;height:21.0px;line-height:21.0px;color:#b01818;"><span class="fit" style="transform:scaleX(0.834)">142</span></div>
<div class="t d n" style="left:290.4px;top:669.3px;width:35.9px;height:21.0px;line-height:21.0px;color:#000;"><span class="fit" style="transform:scaleX(0.834)">202</span></div>
<div class="t d n" style="left:326.3px;top:669.3px;width:35.9px;height:21.0px;line-height:21.0px;color:#000;"><span class="fit" style="transform:scaleX(0.834)">285</span></div>
<div class="t d n" style="left:362.2px;top:669.3px;width:35.9px;height:21.0px;line-height:21.0px;color:#000;"><span class="fit" style="transform:scaleX(0.834)">403</span></div>
<div class="t d n" style="left:398.1px;top:669.3px;width:35.9px;height:21.0px;line-height:21.0px;color:#000;"><span class="fit" style="transform:scaleX(0.834)">570</span></div>
<div class="t d n" style="left:434.0px;top:669.3px;width:35.9px;height:21.0px;line-height:21.0px;color:#000;"><span class="fit" style="transform:scaleX(0.834)">806</span></div>
<div class="t d n" style="left:469.9px;top:669.3px;width:35.7px;height:21.0px;line-height:21.0px;color:#000;"><span class="fit" style="transform:scaleX(0.855)">1140</span></div>
<div class="t d n" style="left:75.0px;top:690.3px;width:35.9px;height:21.0px;line-height:21.0px;color:#000;"><span class="fit" style="transform:scaleX(0.849)">18</span></div>
<div class="t d b n" style="left:110.9px;top:690.3px;width:35.9px;height:21.0px;line-height:21.0px;color:#000;"><span class="fit" style="transform:scaleX(0.920)">25</span></div>
<div class="t d n" style="left:146.8px;top:690.3px;width:35.9px;height:21.0px;line-height:21.0px;color:#000;"><span class="fit" style="transform:scaleX(0.849)">36</span></div>
<div class="t d n" style="left:182.7px;top:690.3px;width:35.9px;height:21.0px;line-height:21.0px;color:#000;"><span class="fit" style="transform:scaleX(0.849)">50</span></div>
<div class="t d n" style="left:218.6px;top:690.3px;width:35.9px;height:21.0px;line-height:21.0px;color:#10107a;"><span class="fit" style="transform:scaleX(0.849)">71</span></div>
<div class="t d n" style="left:254.5px;top:690.3px;width:35.9px;height:21.0px;line-height:21.0px;color:#d42020;"><span class="fit" style="transform:scaleX(0.834)">101</span></div>
<div class="t d n" style="left:290.4px;top:690.3px;width:35.9px;height:21.0px;line-height:21.0px;color:#b01818;"><span class="fit" style="transform:scaleX(0.834)">142</span></div>
<div class="t d n" style="left:326.3px;top:690.3px;width:35.9px;height:21.0px;line-height:21.0px;color:#000;"><span class="fit" style="transform:scaleX(0.834)">202</span></div>
<div class="t d n" style="left:362.2px;top:690.3px;width:35.9px;height:21.0px;line-height:21.0px;color:#000;"><span class="fit" style="transform:scaleX(0.834)">285</span></div>
<div class="t d n" style="left:398.1px;top:690.3px;width:35.9px;height:21.0px;line-height:21.0px;color:#000;"><span class="fit" style="transform:scaleX(0.834)">403</span></div>
<div class="t d n" style="left:434.0px;top:690.3px;width:35.9px;height:21.0px;line-height:21.0px;color:#000;"><span class="fit" style="transform:scaleX(0.834)">570</span></div>
<div class="t d n" style="left:469.9px;top:690.3px;width:35.7px;height:21.0px;line-height:21.0px;color:#000;"><span class="fit" style="transform:scaleX(0.834)">806</span></div>
<div class="t d n" style="left:75.0px;top:711.3px;width:35.9px;height:21.0px;line-height:21.0px;color:#000;"><span class="fit" style="transform:scaleX(0.849)">13</span></div>
<div class="t d n" style="left:110.9px;top:711.3px;width:35.9px;height:21.0px;line-height:21.0px;color:#000;"><span class="fit" style="transform:scaleX(0.849)">18</span></div>
<div class="t d b n" style="left:146.8px;top:711.3px;width:35.9px;height:21.0px;line-height:21.0px;color:#000;"><span class="fit" style="transform:scaleX(0.920)">25</span></div>
<div class="t d n" style="left:182.7px;top:711.3px;width:35.9px;height:21.0px;line-height:21.0px;color:#000;"><span class="fit" style="transform:scaleX(0.849)">36</span></div>
<div class="t d n" style="left:218.6px;top:711.3px;width:35.9px;height:21.0px;line-height:21.0px;color:#000;"><span class="fit" style="transform:scaleX(0.849)">50</span></div>
<div class="t d n" style="left:254.5px;top:711.3px;width:35.9px;height:21.0px;line-height:21.0px;color:#10107a;"><span class="fit" style="transform:scaleX(0.849)">71</span></div>
<div class="t d n" style="left:290.4px;top:711.3px;width:35.9px;height:21.0px;line-height:21.0px;color:#d42020;"><span class="fit" style="transform:scaleX(0.834)">101</span></div>
<div class="t d n" style="left:326.3px;top:711.3px;width:35.9px;height:21.0px;line-height:21.0px;color:#b01818;"><span class="fit" style="transform:scaleX(0.834)">142</span></div>
<div class="t d n" style="left:362.2px;top:711.3px;width:35.9px;height:21.0px;line-height:21.0px;color:#000;"><span class="fit" style="transform:scaleX(0.834)">202</span></div>
<div class="t d n" style="left:398.1px;top:711.3px;width:35.9px;height:21.0px;line-height:21.0px;color:#000;"><span class="fit" style="transform:scaleX(0.834)">285</span></div>
<div class="t d n" style="left:434.0px;top:711.3px;width:35.9px;height:21.0px;line-height:21.0px;color:#000;"><span class="fit" style="transform:scaleX(0.834)">403</span></div>
<div class="t d n" style="left:469.9px;top:711.3px;width:35.7px;height:21.0px;line-height:21.0px;color:#000;"><span class="fit" style="transform:scaleX(0.834)">570</span></div>
<div class="t d n" style="left:75.0px;top:732.4px;width:35.9px;height:21.0px;line-height:21.0px;color:#000;"><span class="fit" style="transform:scaleX(0.828)">8.9</span></div>
<div class="t d n" style="left:110.9px;top:732.4px;width:35.9px;height:21.0px;line-height:21.0px;color:#000;"><span class="fit" style="transform:scaleX(0.849)">13</span></div>
<div class="t d n" style="left:146.8px;top:732.4px;width:35.9px;height:21.0px;line-height:21.0px;color:#000;"><span class="fit" style="transform:scaleX(0.849)">18</span></div>
<div class="t d b n" style="left:182.7px;top:732.4px;width:35.9px;height:21.0px;line-height:21.0px;color:#000;"><span class="fit" style="transform:scaleX(0.920)">25</span></div>
<div class="t d n" style="left:218.6px;top:732.4px;width:35.9px;height:21.0px;line-height:21.0px;color:#000;"><span class="fit" style="transform:scaleX(0.849)">36</span></div>
<div class="t d n" style="left:254.5px;top:732.4px;width:35.9px;height:21.0px;line-height:21.0px;color:#000;"><span class="fit" style="transform:scaleX(0.849)">50</span></div>
<div class="t d n" style="left:290.4px;top:732.4px;width:35.9px;height:21.0px;line-height:21.0px;color:#10107a;"><span class="fit" style="transform:scaleX(0.849)">71</span></div>
<div class="t d n" style="left:326.3px;top:732.4px;width:35.9px;height:21.0px;line-height:21.0px;color:#d42020;"><span class="fit" style="transform:scaleX(0.834)">101</span></div>
<div class="t d n" style="left:362.2px;top:732.4px;width:35.9px;height:21.0px;line-height:21.0px;color:#b01818;"><span class="fit" style="transform:scaleX(0.834)">142</span></div>
<div class="t d n" style="left:398.1px;top:732.4px;width:35.9px;height:21.0px;line-height:21.0px;color:#000;"><span class="fit" style="transform:scaleX(0.834)">202</span></div>
<div class="t d n" style="left:434.0px;top:732.4px;width:35.9px;height:21.0px;line-height:21.0px;color:#000;"><span class="fit" style="transform:scaleX(0.834)">285</span></div>
<div class="t d n" style="left:469.9px;top:732.4px;width:35.7px;height:21.0px;line-height:21.0px;color:#000;"><span class="fit" style="transform:scaleX(0.834)">403</span></div>
<div class="t d n" style="left:75.0px;top:753.4px;width:35.9px;height:21.0px;line-height:21.0px;color:#000;"><span class="fit" style="transform:scaleX(0.828)">6.3</span></div>
<div class="t d n" style="left:110.9px;top:753.4px;width:35.9px;height:21.0px;line-height:21.0px;color:#000;"><span class="fit" style="transform:scaleX(0.828)">8.9</span></div>
<div class="t d n" style="left:146.8px;top:753.4px;width:35.9px;height:21.0px;line-height:21.0px;color:#000;"><span class="fit" style="transform:scaleX(0.849)">13</span></div>
<div class="t d n" style="left:182.7px;top:753.4px;width:35.9px;height:21.0px;line-height:21.0px;color:#000;"><span class="fit" style="transform:scaleX(0.849)">18</span></div>
<div class="t d b n" style="left:218.6px;top:753.4px;width:35.9px;height:21.0px;line-height:21.0px;color:#000;"><span class="fit" style="transform:scaleX(0.920)">25</span></div>
<div class="t d n" style="left:254.5px;top:753.4px;width:35.9px;height:21.0px;line-height:21.0px;color:#000;"><span class="fit" style="transform:scaleX(0.849)">36</span></div>
<div class="t d n" style="left:290.4px;top:753.4px;width:35.9px;height:21.0px;line-height:21.0px;color:#000;"><span class="fit" style="transform:scaleX(0.849)">50</span></div>
<div class="t d n" style="left:326.3px;top:753.4px;width:35.9px;height:21.0px;line-height:21.0px;color:#10107a;"><span class="fit" style="transform:scaleX(0.849)">71</span></div>
<div class="t d n" style="left:362.2px;top:753.4px;width:35.9px;height:21.0px;line-height:21.0px;color:#d42020;"><span class="fit" style="transform:scaleX(0.834)">101</span></div>
<div class="t d n" style="left:398.1px;top:753.4px;width:35.9px;height:21.0px;line-height:21.0px;color:#b01818;"><span class="fit" style="transform:scaleX(0.834)">142</span></div>
<div class="t d n" style="left:434.0px;top:753.4px;width:35.9px;height:21.0px;line-height:21.0px;color:#000;"><span class="fit" style="transform:scaleX(0.834)">202</span></div>
<div class="t d n" style="left:469.9px;top:753.4px;width:35.7px;height:21.0px;line-height:21.0px;color:#000;"><span class="fit" style="transform:scaleX(0.834)">285</span></div>
<div class="t d n" style="left:75.0px;top:774.5px;width:35.9px;height:21.0px;line-height:21.0px;color:#000;"><span class="fit" style="transform:scaleX(0.828)">4.5</span></div>
<div class="t d n" style="left:110.9px;top:774.5px;width:35.9px;height:21.0px;line-height:21.0px;color:#000;"><span class="fit" style="transform:scaleX(0.828)">6.3</span></div>
<div class="t d n" style="left:146.8px;top:774.5px;width:35.9px;height:21.0px;line-height:21.0px;color:#000;"><span class="fit" style="transform:scaleX(0.828)">8.9</span></div>
<div class="t d n" style="left:182.7px;top:774.5px;width:35.9px;height:21.0px;line-height:21.0px;color:#000;"><span class="fit" style="transform:scaleX(0.849)">13</span></div>
<div class="t d n" style="left:218.6px;top:774.5px;width:35.9px;height:21.0px;line-height:21.0px;color:#000;"><span class="fit" style="transform:scaleX(0.849)">18</span></div>
<div class="t d b n" style="left:254.5px;top:774.5px;width:35.9px;height:21.0px;line-height:21.0px;color:#000;"><span class="fit" style="transform:scaleX(0.920)">25</span></div>
<div class="t d n" style="left:290.4px;top:774.5px;width:35.9px;height:21.0px;line-height:21.0px;color:#000;"><span class="fit" style="transform:scaleX(0.849)">36</span></div>
<div class="t d n" style="left:326.3px;top:774.5px;width:35.9px;height:21.0px;line-height:21.0px;color:#000;"><span class="fit" style="transform:scaleX(0.849)">50</span></div>
<div class="t d n" style="left:362.2px;top:774.5px;width:35.9px;height:21.0px;line-height:21.0px;color:#10107a;"><span class="fit" style="transform:scaleX(0.849)">71</span></div>
<div class="t d n" style="left:398.1px;top:774.5px;width:35.9px;height:21.0px;line-height:21.0px;color:#d42020;"><span class="fit" style="transform:scaleX(0.834)">101</span></div>
<div class="t d n" style="left:434.0px;top:774.5px;width:35.9px;height:21.0px;line-height:21.0px;color:#b01818;"><span class="fit" style="transform:scaleX(0.834)">142</span></div>
<div class="t d n" style="left:469.9px;top:774.5px;width:35.7px;height:21.0px;line-height:21.0px;color:#000;"><span class="fit" style="transform:scaleX(0.834)">202</span></div>
<div class="t d n" style="left:75.0px;top:795.5px;width:35.9px;height:21.0px;line-height:21.0px;color:#000;"><span class="fit" style="transform:scaleX(0.828)">3.1</span></div>
<div class="t d n" style="left:110.9px;top:795.5px;width:35.9px;height:21.0px;line-height:21.0px;color:#000;"><span class="fit" style="transform:scaleX(0.828)">4.5</span></div>
<div class="t d n" style="left:146.8px;top:795.5px;width:35.9px;height:21.0px;line-height:21.0px;color:#000;"><span class="fit" style="transform:scaleX(0.828)">6.3</span></div>
<div class="t d n" style="left:182.7px;top:795.5px;width:35.9px;height:21.0px;line-height:21.0px;color:#000;"><span class="fit" style="transform:scaleX(0.828)">8.9</span></div>
<div class="t d n" style="left:218.6px;top:795.5px;width:35.9px;height:21.0px;line-height:21.0px;color:#000;"><span class="fit" style="transform:scaleX(0.849)">13</span></div>
<div class="t d n" style="left:254.5px;top:795.5px;width:35.9px;height:21.0px;line-height:21.0px;color:#000;"><span class="fit" style="transform:scaleX(0.849)">18</span></div>
<div class="t d b n" style="left:290.4px;top:795.5px;width:35.9px;height:21.0px;line-height:21.0px;color:#000;"><span class="fit" style="transform:scaleX(0.920)">25</span></div>
<div class="t d n" style="left:326.3px;top:795.5px;width:35.9px;height:21.0px;line-height:21.0px;color:#000;"><span class="fit" style="transform:scaleX(0.849)">36</span></div>
<div class="t d n" style="left:362.2px;top:795.5px;width:35.9px;height:21.0px;line-height:21.0px;color:#000;"><span class="fit" style="transform:scaleX(0.849)">50</span></div>
<div class="t d n" style="left:398.1px;top:795.5px;width:35.9px;height:21.0px;line-height:21.0px;color:#10107a;"><span class="fit" style="transform:scaleX(0.849)">71</span></div>
<div class="t d n" style="left:434.0px;top:795.5px;width:35.9px;height:21.0px;line-height:21.0px;color:#d42020;"><span class="fit" style="transform:scaleX(0.834)">101</span></div>
<div class="t d n" style="left:469.9px;top:795.5px;width:35.7px;height:21.0px;line-height:21.0px;color:#b01818;"><span class="fit" style="transform:scaleX(0.834)">142</span></div>
<div class="t d n" style="left:75.0px;top:816.5px;width:35.9px;height:21.0px;line-height:21.0px;color:#000;"><span class="fit" style="transform:scaleX(0.828)">2.2</span></div>
<div class="t d n" style="left:110.9px;top:816.5px;width:35.9px;height:21.0px;line-height:21.0px;color:#000;"><span class="fit" style="transform:scaleX(0.828)">3.1</span></div>
<div class="t d n" style="left:146.8px;top:816.5px;width:35.9px;height:21.0px;line-height:21.0px;color:#000;"><span class="fit" style="transform:scaleX(0.828)">4.5</span></div>
<div class="t d n" style="left:182.7px;top:816.5px;width:35.9px;height:21.0px;line-height:21.0px;color:#000;"><span class="fit" style="transform:scaleX(0.828)">6.3</span></div>
<div class="t d n" style="left:218.6px;top:816.5px;width:35.9px;height:21.0px;line-height:21.0px;color:#000;"><span class="fit" style="transform:scaleX(0.828)">8.9</span></div>
<div class="t d n" style="left:254.5px;top:816.5px;width:35.9px;height:21.0px;line-height:21.0px;color:#000;"><span class="fit" style="transform:scaleX(0.849)">13</span></div>
<div class="t d n" style="left:290.4px;top:816.5px;width:35.9px;height:21.0px;line-height:21.0px;color:#000;"><span class="fit" style="transform:scaleX(0.849)">18</span></div>
<div class="t d b n" style="left:326.3px;top:816.5px;width:35.9px;height:21.0px;line-height:21.0px;color:#000;"><span class="fit" style="transform:scaleX(0.920)">25</span></div>
<div class="t d n" style="left:362.2px;top:816.5px;width:35.9px;height:21.0px;line-height:21.0px;color:#000;"><span class="fit" style="transform:scaleX(0.849)">36</span></div>
<div class="t d n" style="left:398.1px;top:816.5px;width:35.9px;height:21.0px;line-height:21.0px;color:#000;"><span class="fit" style="transform:scaleX(0.849)">50</span></div>
<div class="t d n" style="left:434.0px;top:816.5px;width:35.9px;height:21.0px;line-height:21.0px;color:#10107a;"><span class="fit" style="transform:scaleX(0.849)">71</span></div>
<div class="t d n" style="left:469.9px;top:816.5px;width:35.7px;height:21.0px;line-height:21.0px;color:#d42020;"><span class="fit" style="transform:scaleX(0.834)">101</span></div>
<div class="t d n" style="left:75.0px;top:837.6px;width:35.9px;height:21.0px;line-height:21.0px;color:#000;"><span class="fit" style="transform:scaleX(0.828)">1.6</span></div>
<div class="t d n" style="left:110.9px;top:837.6px;width:35.9px;height:21.0px;line-height:21.0px;color:#000;"><span class="fit" style="transform:scaleX(0.828)">2.2</span></div>
<div class="t d n" style="left:146.8px;top:837.6px;width:35.9px;height:21.0px;line-height:21.0px;color:#000;"><span class="fit" style="transform:scaleX(0.828)">3.1</span></div>
<div class="t d n" style="left:182.7px;top:837.6px;width:35.9px;height:21.0px;line-height:21.0px;color:#000;"><span class="fit" style="transform:scaleX(0.828)">4.5</span></div>
<div class="t d n" style="left:218.6px;top:837.6px;width:35.9px;height:21.0px;line-height:21.0px;color:#000;"><span class="fit" style="transform:scaleX(0.828)">6.3</span></div>
<div class="t d n" style="left:254.5px;top:837.6px;width:35.9px;height:21.0px;line-height:21.0px;color:#000;"><span class="fit" style="transform:scaleX(0.828)">8.9</span></div>
<div class="t d n" style="left:290.4px;top:837.6px;width:35.9px;height:21.0px;line-height:21.0px;color:#000;"><span class="fit" style="transform:scaleX(0.849)">13</span></div>
<div class="t d n" style="left:326.3px;top:837.6px;width:35.9px;height:21.0px;line-height:21.0px;color:#000;"><span class="fit" style="transform:scaleX(0.849)">18</span></div>
<div class="t d b n" style="left:362.2px;top:837.6px;width:35.9px;height:21.0px;line-height:21.0px;color:#000;"><span class="fit" style="transform:scaleX(0.920)">25</span></div>
<div class="t d n" style="left:398.1px;top:837.6px;width:35.9px;height:21.0px;line-height:21.0px;color:#000;"><span class="fit" style="transform:scaleX(0.849)">36</span></div>
<div class="t d n" style="left:434.0px;top:837.6px;width:35.9px;height:21.0px;line-height:21.0px;color:#000;"><span class="fit" style="transform:scaleX(0.849)">50</span></div>
<div class="t d n" style="left:469.9px;top:837.6px;width:35.7px;height:21.0px;line-height:21.0px;color:#10107a;"><span class="fit" style="transform:scaleX(0.849)">71</span></div>
<div class="t d n" style="left:75.0px;top:858.6px;width:35.9px;height:21.0px;line-height:21.0px;color:#000;"><span class="fit" style="transform:scaleX(0.828)">1.1</span></div>
<div class="t d n" style="left:110.9px;top:858.6px;width:35.9px;height:21.0px;line-height:21.0px;color:#000;"><span class="fit" style="transform:scaleX(0.828)">1.6</span></div>
<div class="t d n" style="left:146.8px;top:858.6px;width:35.9px;height:21.0px;line-height:21.0px;color:#000;"><span class="fit" style="transform:scaleX(0.828)">2.2</span></div>
<div class="t d n" style="left:182.7px;top:858.6px;width:35.9px;height:21.0px;line-height:21.0px;color:#000;"><span class="fit" style="transform:scaleX(0.828)">3.1</span></div>
<div class="t d n" style="left:218.6px;top:858.6px;width:35.9px;height:21.0px;line-height:21.0px;color:#000;"><span class="fit" style="transform:scaleX(0.828)">4.5</span></div>
<div class="t d n" style="left:254.5px;top:858.6px;width:35.9px;height:21.0px;line-height:21.0px;color:#000;"><span class="fit" style="transform:scaleX(0.828)">6.3</span></div>
<div class="t d n" style="left:290.4px;top:858.6px;width:35.9px;height:21.0px;line-height:21.0px;color:#000;"><span class="fit" style="transform:scaleX(0.828)">8.9</span></div>
<div class="t d n" style="left:326.3px;top:858.6px;width:35.9px;height:21.0px;line-height:21.0px;color:#000;"><span class="fit" style="transform:scaleX(0.849)">13</span></div>
<div class="t d n" style="left:362.2px;top:858.6px;width:35.9px;height:21.0px;line-height:21.0px;color:#000;"><span class="fit" style="transform:scaleX(0.849)">18</span></div>
<div class="t d b n" style="left:398.1px;top:858.6px;width:35.9px;height:21.0px;line-height:21.0px;color:#000;"><span class="fit" style="transform:scaleX(0.920)">25</span></div>
<div class="t d n" style="left:434.0px;top:858.6px;width:35.9px;height:21.0px;line-height:21.0px;color:#000;"><span class="fit" style="transform:scaleX(0.849)">36</span></div>
<div class="t d n" style="left:469.9px;top:858.6px;width:35.7px;height:21.0px;line-height:21.0px;color:#000;"><span class="fit" style="transform:scaleX(0.849)">50</span></div>
<div class="t d n" style="left:75.0px;top:879.7px;width:35.9px;height:21.0px;line-height:21.0px;color:#000;"><span class="fit" style="transform:scaleX(0.828)">0.8</span></div>
<div class="t d n" style="left:110.9px;top:879.7px;width:35.9px;height:21.0px;line-height:21.0px;color:#000;"><span class="fit" style="transform:scaleX(0.828)">1.1</span></div>
<div class="t d n" style="left:146.8px;top:879.7px;width:35.9px;height:21.0px;line-height:21.0px;color:#000;"><span class="fit" style="transform:scaleX(0.828)">1.6</span></div>
<div class="t d n" style="left:182.7px;top:879.7px;width:35.9px;height:21.0px;line-height:21.0px;color:#000;"><span class="fit" style="transform:scaleX(0.828)">2.2</span></div>
<div class="t d n" style="left:218.6px;top:879.7px;width:35.9px;height:21.0px;line-height:21.0px;color:#000;"><span class="fit" style="transform:scaleX(0.828)">3.1</span></div>
<div class="t d n" style="left:254.5px;top:879.7px;width:35.9px;height:21.0px;line-height:21.0px;color:#000;"><span class="fit" style="transform:scaleX(0.828)">4.5</span></div>
<div class="t d n" style="left:290.4px;top:879.7px;width:35.9px;height:21.0px;line-height:21.0px;color:#000;"><span class="fit" style="transform:scaleX(0.828)">6.3</span></div>
<div class="t d n" style="left:326.3px;top:879.7px;width:35.9px;height:21.0px;line-height:21.0px;color:#000;"><span class="fit" style="transform:scaleX(0.828)">8.9</span></div>
<div class="t d n" style="left:362.2px;top:879.7px;width:35.9px;height:21.0px;line-height:21.0px;color:#000;"><span class="fit" style="transform:scaleX(0.849)">13</span></div>
<div class="t d n" style="left:398.1px;top:879.7px;width:35.9px;height:21.0px;line-height:21.0px;color:#000;"><span class="fit" style="transform:scaleX(0.849)">18</span></div>
<div class="t d b n" style="left:434.0px;top:879.7px;width:35.9px;height:21.0px;line-height:21.0px;color:#000;"><span class="fit" style="transform:scaleX(0.920)">25</span></div>
<div class="t d n" style="left:469.9px;top:879.7px;width:35.7px;height:21.0px;line-height:21.0px;color:#000;"><span class="fit" style="transform:scaleX(0.849)">36</span></div>
<div class="t d n" style="left:75.0px;top:900.7px;width:35.9px;height:19.1px;line-height:19.1px;color:#000;"><span class="fit" style="transform:scaleX(0.828)">0.6</span></div>
<div class="t d n" style="left:110.9px;top:900.7px;width:35.9px;height:19.1px;line-height:19.1px;color:#000;"><span class="fit" style="transform:scaleX(0.828)">0.8</span></div>
<div class="t d n" style="left:146.8px;top:900.7px;width:35.9px;height:19.1px;line-height:19.1px;color:#000;"><span class="fit" style="transform:scaleX(0.828)">1.1</span></div>
<div class="t d n" style="left:182.7px;top:900.7px;width:35.9px;height:19.1px;line-height:19.1px;color:#000;"><span class="fit" style="transform:scaleX(0.828)">1.6</span></div>
<div class="t d n" style="left:218.6px;top:900.7px;width:35.9px;height:19.1px;line-height:19.1px;color:#000;"><span class="fit" style="transform:scaleX(0.828)">2.2</span></div>
<div class="t d n" style="left:254.5px;top:900.7px;width:35.9px;height:19.1px;line-height:19.1px;color:#000;"><span class="fit" style="transform:scaleX(0.828)">3.1</span></div>
<div class="t d n" style="left:290.4px;top:900.7px;width:35.9px;height:19.1px;line-height:19.1px;color:#000;"><span class="fit" style="transform:scaleX(0.828)">4.5</span></div>
<div class="t d n" style="left:326.3px;top:900.7px;width:35.9px;height:19.1px;line-height:19.1px;color:#000;"><span class="fit" style="transform:scaleX(0.828)">6.3</span></div>
<div class="t d n" style="left:362.2px;top:900.7px;width:35.9px;height:19.1px;line-height:19.1px;color:#000;"><span class="fit" style="transform:scaleX(0.828)">8.9</span></div>
<div class="t d n" style="left:398.1px;top:900.7px;width:35.9px;height:19.1px;line-height:19.1px;color:#000;"><span class="fit" style="transform:scaleX(0.849)">13</span></div>
<div class="t d n" style="left:434.0px;top:900.7px;width:35.9px;height:19.1px;line-height:19.1px;color:#000;"><span class="fit" style="transform:scaleX(0.849)">18</span></div>
<div class="t d b n" style="left:469.9px;top:900.7px;width:35.7px;height:19.1px;line-height:19.1px;color:#000;"><span class="fit" style="transform:scaleX(0.920)">25</span></div>
<div class="t d r" style="left:75.0px;top:500.9px;width:35.9px;height:21.5px;line-height:21.5px;"><span class="fit" style="transform:scaleX(0.849)">57.9</span></div>
<div class="t dia b" style="left:75.0px;top:522.6px;width:35.9px;height:31.9px;line-height:31.9px;">2</div>
<div class="t d r" style="left:110.9px;top:500.9px;width:35.9px;height:21.5px;line-height:21.5px;"><span class="fit" style="transform:scaleX(0.849)">40.9</span></div>
<div class="t dia" style="left:110.9px;top:522.6px;width:35.9px;height:31.9px;line-height:31.9px;">2.83</div>
<div class="t d r" style="left:146.8px;top:500.9px;width:35.9px;height:21.5px;line-height:21.5px;"><span class="fit" style="transform:scaleX(0.849)">29.0</span></div>
<div class="t dia b" style="left:146.8px;top:522.6px;width:35.9px;height:31.9px;line-height:31.9px;">4</div>
<div class="t d r" style="left:182.7px;top:500.9px;width:35.9px;height:21.5px;line-height:21.5px;"><span class="fit" style="transform:scaleX(0.849)">20.5</span></div>
<div class="t dia" style="left:182.7px;top:522.6px;width:35.9px;height:31.9px;line-height:31.9px;">5.66</div>
<div class="t d r" style="left:218.6px;top:500.9px;width:35.9px;height:21.5px;line-height:21.5px;"><span class="fit" style="transform:scaleX(0.849)">14.5</span></div>
<div class="t dia b" style="left:218.6px;top:522.6px;width:35.9px;height:31.9px;line-height:31.9px;">8</div>
<div class="t d r" style="left:254.5px;top:500.9px;width:35.9px;height:21.5px;line-height:21.5px;"><span class="fit" style="transform:scaleX(0.849)">10.2</span></div>
<div class="t dia" style="left:254.5px;top:522.6px;width:35.9px;height:31.9px;line-height:31.9px;">11.3</div>
<div class="t d r" style="left:290.4px;top:500.9px;width:35.9px;height:21.5px;line-height:21.5px;"><span class="fit" style="transform:scaleX(0.849)">7.24</span></div>
<div class="t dia b" style="left:290.4px;top:522.6px;width:35.9px;height:31.9px;line-height:31.9px;">16</div>
<div class="t d r" style="left:326.3px;top:500.9px;width:35.9px;height:21.5px;line-height:21.5px;"><span class="fit" style="transform:scaleX(0.849)">5.12</span></div>
<div class="t dia" style="left:326.3px;top:522.6px;width:35.9px;height:31.9px;line-height:31.9px;">22.6</div>
<div class="t d r" style="left:362.2px;top:500.9px;width:35.9px;height:21.5px;line-height:21.5px;"><span class="fit" style="transform:scaleX(0.849)">3.62</span></div>
<div class="t dia b" style="left:362.2px;top:522.6px;width:35.9px;height:31.9px;line-height:31.9px;">32</div>
<div class="t d r" style="left:398.1px;top:500.9px;width:35.9px;height:21.5px;line-height:21.5px;"><span class="fit" style="transform:scaleX(0.849)">2.56</span></div>
<div class="t dia" style="left:398.1px;top:522.6px;width:35.9px;height:31.9px;line-height:31.9px;">45.3</div>
<div class="t d r" style="left:434.0px;top:500.9px;width:35.9px;height:21.5px;line-height:21.5px;"><span class="fit" style="transform:scaleX(0.849)">1.81</span></div>
<div class="t dia b" style="left:434.0px;top:522.6px;width:35.9px;height:31.9px;line-height:31.9px;">64</div>
<div class="t d r" style="left:469.9px;top:500.9px;width:35.9px;height:21.5px;line-height:21.5px;"><span class="fit" style="transform:scaleX(0.849)">1.28</span></div>
<div class="t dia" style="left:469.9px;top:522.6px;width:35.9px;height:31.9px;line-height:31.9px;">90.5</div>
<div class="t lab1" style="left:3.5px;top:500.6px;width:70.0px;height:21.5px;line-height:21.5px;"><span class="fit" style="transform:scaleX(0.982)">分解能[秒角]</span></div>
<div class="t lab2" style="left:3.5px;top:522.6px;width:70.0px;height:15.0px;line-height:15.0px;"><span class="fit" style="transform:scaleX(0.923)">有効(<span class="sq">□</span>)径</span></div>
<div class="t lab2" style="left:3.5px;top:536.6px;width:70.0px;height:15.0px;line-height:15.0px;font-size:12px;"><span class="fit" style="transform:scaleX(0.900)">[mm]</span></div>
<div class="t hd" style="left:3.5px;top:557.3px;width:29.2px;height:14.0px;line-height:14.0px;">対角</div>
<div class="t hd" style="left:3.5px;top:569.8px;width:29.2px;height:14.0px;line-height:14.0px;">画角</div>
<div class="t hd2" style="left:34.3px;top:556.3px;width:39.2px;height:15.0px;line-height:15.0px;">換算<b class="f">f</b></div>
<div class="t hd2" style="left:34.3px;top:568.3px;width:39.2px;height:15.0px;line-height:15.0px;">[mm]</div>
<div class="t ang" style="left:6.3px;top:584.6px;width:27.2px;height:20.9px;line-height:20.9px;"><span class="fit" style="transform:scaleX(0.785)">101°</span></div>
<div class="t fv" style="left:34.3px;top:586.1px;width:39.2px;height:20.9px;line-height:20.9px;"><span class="fit" style="transform:scaleX(0.932)">17.7</span></div>
<div class="t ang" style="left:6.3px;top:605.6px;width:27.2px;height:20.9px;line-height:20.9px;"><span class="fit" style="transform:scaleX(0.799)">82°</span></div>
<div class="t fv b" style="left:34.3px;top:607.1px;width:39.2px;height:20.9px;line-height:20.9px;color:#dc2800;font-weight:bold;font-size:14.5px;letter-spacing:0;"><span class="fit" style="transform:scaleX(1.053)">25</span></div>
<div class="t ang" style="left:6.3px;top:626.7px;width:27.2px;height:20.9px;line-height:20.9px;"><span class="fit" style="transform:scaleX(0.799)">63°</span></div>
<div class="t fv" style="left:34.3px;top:628.2px;width:39.2px;height:20.9px;line-height:20.9px;color:#1a1a70;"><span class="fit" style="transform:scaleX(0.989)">35.4</span></div>
<div class="t ang" style="left:6.3px;top:647.7px;width:27.2px;height:20.9px;line-height:20.9px;"><span class="fit" style="transform:scaleX(0.799)">47°</span></div>
<div class="t fv b" style="left:34.3px;top:649.2px;width:39.2px;height:20.9px;line-height:20.9px;"><span class="fit" style="transform:scaleX(1.084)">50</span></div>
<div class="t ang" style="left:6.3px;top:668.8px;width:27.2px;height:20.9px;line-height:20.9px;"><span class="fit" style="transform:scaleX(0.799)">34°</span></div>
<div class="t fv" style="left:34.3px;top:670.3px;width:39.2px;height:20.9px;line-height:20.9px;"><span class="fit" style="transform:scaleX(0.970)">70.7</span></div>
<div class="t ang" style="left:6.3px;top:689.8px;width:27.2px;height:20.9px;line-height:20.9px;"><span class="fit" style="transform:scaleX(0.799)">24°</span></div>
<div class="t fv b" style="left:34.3px;top:691.3px;width:39.2px;height:20.9px;line-height:20.9px;"><span class="fit" style="transform:scaleX(1.074)">100</span></div>
<div class="t ang" style="left:6.3px;top:710.8px;width:27.2px;height:20.9px;line-height:20.9px;"><span class="fit" style="transform:scaleX(0.799)">17°</span></div>
<div class="t fv" style="left:34.3px;top:712.3px;width:39.2px;height:20.9px;line-height:20.9px;"><span class="fit" style="transform:scaleX(1.087)">141</span></div>
<div class="t ang" style="left:6.3px;top:731.9px;width:27.2px;height:20.9px;line-height:20.9px;"><span class="fit" style="transform:scaleX(0.799)">12°</span></div>
<div class="t fv b" style="left:34.3px;top:733.4px;width:39.2px;height:20.9px;line-height:20.9px;"><span class="fit" style="transform:scaleX(1.095)">200</span></div>
<div class="t ang" style="left:6.3px;top:752.9px;width:27.2px;height:20.9px;line-height:20.9px;"><span class="fit" style="transform:scaleX(0.768)">8.7°</span></div>
<div class="t fv" style="left:34.3px;top:754.4px;width:39.2px;height:20.9px;line-height:20.9px;"><span class="fit" style="transform:scaleX(1.132)">283</span></div>
<div class="t ang" style="left:6.3px;top:774.0px;width:27.2px;height:20.9px;line-height:20.9px;"><span class="fit" style="transform:scaleX(0.768)">6.2°</span></div>
<div class="t fv b" style="left:34.3px;top:775.5px;width:39.2px;height:20.9px;line-height:20.9px;"><span class="fit" style="transform:scaleX(1.095)">400</span></div>
<div class="t ang" style="left:6.3px;top:795.0px;width:27.2px;height:20.9px;line-height:20.9px;"><span class="fit" style="transform:scaleX(0.768)">4.4°</span></div>
<div class="t fv" style="left:34.3px;top:796.5px;width:39.2px;height:20.9px;line-height:20.9px;"><span class="fit" style="transform:scaleX(1.132)">566</span></div>
<div class="t ang" style="left:6.3px;top:816.0px;width:27.2px;height:20.9px;line-height:20.9px;"><span class="fit" style="transform:scaleX(0.768)">3.1°</span></div>
<div class="t fv b" style="left:34.3px;top:817.5px;width:39.2px;height:20.9px;line-height:20.9px;"><span class="fit" style="transform:scaleX(1.095)">800</span></div>
<div class="t ang" style="left:6.3px;top:837.1px;width:27.2px;height:20.9px;line-height:20.9px;"><span class="fit" style="transform:scaleX(0.768)">2.2°</span></div>
<div class="t fv" style="left:34.3px;top:838.6px;width:39.2px;height:20.9px;line-height:20.9px;"><span class="fit" style="transform:scaleX(1.033)">1131</span></div>
<div class="t ang" style="left:6.3px;top:858.1px;width:27.2px;height:20.9px;line-height:20.9px;"><span class="fit" style="transform:scaleX(0.768)">1.5°</span></div>
<div class="t fv b" style="left:34.3px;top:859.6px;width:39.2px;height:20.9px;line-height:20.9px;"><span class="fit" style="transform:scaleX(1.023)">1600</span></div>
<div class="t ang" style="left:6.3px;top:879.2px;width:27.2px;height:20.9px;line-height:20.9px;"><span class="fit" style="transform:scaleX(0.768)">1.1°</span></div>
<div class="t fv" style="left:34.3px;top:880.7px;width:39.2px;height:20.9px;line-height:20.9px;"><span class="fit" style="transform:scaleX(1.032)">2263</span></div>
<div class="t ang" style="left:6.3px;top:900.2px;width:27.2px;height:20.9px;line-height:20.9px;"><span class="fit" style="transform:scaleX(0.768)">0.8°</span></div>
<div class="t fv b" style="left:34.3px;top:901.7px;width:39.2px;height:20.9px;line-height:20.9px;"><span class="fit" style="transform:scaleX(1.023)">3200</span></div>
<div class="t d" style="left:589.3px;top:118.8px;width:35.9px;height:21.0px;line-height:21.0px;color:#a81818;"><span class="fit" style="transform:scaleX(0.830)">877万</span></div>
<div class="t d s10" style="left:625.2px;top:118.3px;width:35.9px;height:21.0px;line-height:21.0px;color:#000;"><span class="fit" style="transform:scaleX(0.930)">1754万</span></div>
<div class="t d s10" style="left:661.1px;top:118.3px;width:35.9px;height:21.0px;line-height:21.0px;color:#000;"><span class="fit" style="transform:scaleX(0.930)">3509万</span></div>
<div class="t d s10" style="left:697.0px;top:118.3px;width:35.9px;height:21.0px;line-height:21.0px;color:#000;"><span class="fit" style="transform:scaleX(0.930)">7018万</span></div>
<div class="t d s11" style="left:732.9px;top:118.3px;width:35.9px;height:21.0px;line-height:21.0px;color:#000;"><span class="fit" style="transform:scaleX(1.001)">1.40億</span></div>
<div class="t d s11" style="left:768.8px;top:118.3px;width:35.9px;height:21.0px;line-height:21.0px;color:#000;"><span class="fit" style="transform:scaleX(1.001)">2.81億</span></div>
<div class="t d s11" style="left:804.7px;top:118.3px;width:35.9px;height:21.0px;line-height:21.0px;color:#000;"><span class="fit" style="transform:scaleX(1.001)">5.61億</span></div>
<div class="t d s11" style="left:840.6px;top:118.3px;width:35.9px;height:21.0px;line-height:21.0px;color:#000;"><span class="fit" style="transform:scaleX(1.027)">11.2億</span></div>
<div class="t d s11" style="left:876.5px;top:118.3px;width:35.9px;height:21.0px;line-height:21.0px;color:#000;"><span class="fit" style="transform:scaleX(1.001)">22.5億</span></div>
<div class="t d s11" style="left:912.4px;top:118.3px;width:35.9px;height:21.0px;line-height:21.0px;color:#000;"><span class="fit" style="transform:scaleX(1.001)">44.9億</span></div>
<div class="t d s11" style="left:948.3px;top:118.3px;width:35.9px;height:21.0px;line-height:21.0px;color:#000;"><span class="fit" style="transform:scaleX(1.001)">89.8億</span></div>
<div class="t d" style="left:984.2px;top:118.8px;width:35.1px;height:21.0px;line-height:21.0px;color:#000;"><span class="fit" style="transform:scaleX(0.824)">180億</span></div>
<div class="t d" style="left:589.3px;top:139.8px;width:35.9px;height:21.0px;line-height:21.0px;color:#cc2222;"><span class="fit" style="transform:scaleX(0.830)">439万</span></div>
<div class="t d" style="left:625.2px;top:139.8px;width:35.9px;height:21.0px;line-height:21.0px;color:#a81818;"><span class="fit" style="transform:scaleX(0.830)">877万</span></div>
<div class="t d s10" style="left:661.1px;top:139.3px;width:35.9px;height:21.0px;line-height:21.0px;color:#000;"><span class="fit" style="transform:scaleX(0.930)">1754万</span></div>
<div class="t d s10" style="left:697.0px;top:139.3px;width:35.9px;height:21.0px;line-height:21.0px;color:#000;"><span class="fit" style="transform:scaleX(0.930)">3509万</span></div>
<div class="t d s10" style="left:732.9px;top:139.3px;width:35.9px;height:21.0px;line-height:21.0px;color:#000;"><span class="fit" style="transform:scaleX(0.930)">7018万</span></div>
<div class="t d s11" style="left:768.8px;top:139.3px;width:35.9px;height:21.0px;line-height:21.0px;color:#000;"><span class="fit" style="transform:scaleX(1.001)">1.40億</span></div>
<div class="t d s11" style="left:804.7px;top:139.3px;width:35.9px;height:21.0px;line-height:21.0px;color:#000;"><span class="fit" style="transform:scaleX(1.001)">2.81億</span></div>
<div class="t d s11" style="left:840.6px;top:139.3px;width:35.9px;height:21.0px;line-height:21.0px;color:#000;"><span class="fit" style="transform:scaleX(1.001)">5.61億</span></div>
<div class="t d s11" style="left:876.5px;top:139.3px;width:35.9px;height:21.0px;line-height:21.0px;color:#000;"><span class="fit" style="transform:scaleX(1.027)">11.2億</span></div>
<div class="t d s11" style="left:912.4px;top:139.3px;width:35.9px;height:21.0px;line-height:21.0px;color:#000;"><span class="fit" style="transform:scaleX(1.001)">22.5億</span></div>
<div class="t d s11" style="left:948.3px;top:139.3px;width:35.9px;height:21.0px;line-height:21.0px;color:#000;"><span class="fit" style="transform:scaleX(1.001)">44.9億</span></div>
<div class="t d s11" style="left:984.2px;top:139.3px;width:35.1px;height:21.0px;line-height:21.0px;color:#000;"><span class="fit" style="transform:scaleX(1.001)">89.8億</span></div>
<div class="t d b" style="left:589.3px;top:160.7px;width:35.9px;height:21.0px;line-height:21.0px;color:#000090;"><span class="fit" style="transform:scaleX(0.830)">219万</span></div>
<div class="t d" style="left:625.2px;top:160.7px;width:35.9px;height:21.0px;line-height:21.0px;color:#cc2222;"><span class="fit" style="transform:scaleX(0.830)">439万</span></div>
<div class="t d" style="left:661.1px;top:160.7px;width:35.9px;height:21.0px;line-height:21.0px;color:#a81818;"><span class="fit" style="transform:scaleX(0.830)">877万</span></div>
<div class="t d s10" style="left:697.0px;top:160.2px;width:35.9px;height:21.0px;line-height:21.0px;color:#000;"><span class="fit" style="transform:scaleX(0.930)">1754万</span></div>
<div class="t d s10" style="left:732.9px;top:160.2px;width:35.9px;height:21.0px;line-height:21.0px;color:#000;"><span class="fit" style="transform:scaleX(0.930)">3509万</span></div>
<div class="t d s10" style="left:768.8px;top:160.2px;width:35.9px;height:21.0px;line-height:21.0px;color:#000;"><span class="fit" style="transform:scaleX(0.930)">7018万</span></div>
<div class="t d s11" style="left:804.7px;top:160.2px;width:35.9px;height:21.0px;line-height:21.0px;color:#000;"><span class="fit" style="transform:scaleX(1.001)">1.40億</span></div>
<div class="t d s11" style="left:840.6px;top:160.2px;width:35.9px;height:21.0px;line-height:21.0px;color:#000;"><span class="fit" style="transform:scaleX(1.001)">2.81億</span></div>
<div class="t d s11" style="left:876.5px;top:160.2px;width:35.9px;height:21.0px;line-height:21.0px;color:#000;"><span class="fit" style="transform:scaleX(1.001)">5.61億</span></div>
<div class="t d s11" style="left:912.4px;top:160.2px;width:35.9px;height:21.0px;line-height:21.0px;color:#000;"><span class="fit" style="transform:scaleX(1.027)">11.2億</span></div>
<div class="t d s11" style="left:948.3px;top:160.2px;width:35.9px;height:21.0px;line-height:21.0px;color:#000;"><span class="fit" style="transform:scaleX(1.001)">22.5億</span></div>
<div class="t d s11" style="left:984.2px;top:160.2px;width:35.1px;height:21.0px;line-height:21.0px;color:#000;"><span class="fit" style="transform:scaleX(1.001)">44.9億</span></div>
<div class="t d" style="left:589.3px;top:181.7px;width:35.9px;height:21.0px;line-height:21.0px;color:#000;"><span class="fit" style="transform:scaleX(0.854)">110万</span></div>
<div class="t d b" style="left:625.2px;top:181.7px;width:35.9px;height:21.0px;line-height:21.0px;color:#000090;"><span class="fit" style="transform:scaleX(0.830)">219万</span></div>
<div class="t d" style="left:661.1px;top:181.7px;width:35.9px;height:21.0px;line-height:21.0px;color:#cc2222;"><span class="fit" style="transform:scaleX(0.830)">439万</span></div>
<div class="t d" style="left:697.0px;top:181.7px;width:35.9px;height:21.0px;line-height:21.0px;color:#a81818;"><span class="fit" style="transform:scaleX(0.830)">877万</span></div>
<div class="t d s10" style="left:732.9px;top:181.2px;width:35.9px;height:21.0px;line-height:21.0px;color:#000;"><span class="fit" style="transform:scaleX(0.930)">1754万</span></div>
<div class="t d s10" style="left:768.8px;top:181.2px;width:35.9px;height:21.0px;line-height:21.0px;color:#000;"><span class="fit" style="transform:scaleX(0.930)">3509万</span></div>
<div class="t d s10" style="left:804.7px;top:181.2px;width:35.9px;height:21.0px;line-height:21.0px;color:#000;"><span class="fit" style="transform:scaleX(0.930)">7018万</span></div>
<div class="t d s11" style="left:840.6px;top:181.2px;width:35.9px;height:21.0px;line-height:21.0px;color:#000;"><span class="fit" style="transform:scaleX(1.001)">1.40億</span></div>
<div class="t d s11" style="left:876.5px;top:181.2px;width:35.9px;height:21.0px;line-height:21.0px;color:#000;"><span class="fit" style="transform:scaleX(1.001)">2.81億</span></div>
<div class="t d s11" style="left:912.4px;top:181.2px;width:35.9px;height:21.0px;line-height:21.0px;color:#000;"><span class="fit" style="transform:scaleX(1.001)">5.61億</span></div>
<div class="t d s11" style="left:948.3px;top:181.2px;width:35.9px;height:21.0px;line-height:21.0px;color:#000;"><span class="fit" style="transform:scaleX(1.027)">11.2億</span></div>
<div class="t d s11" style="left:984.2px;top:181.2px;width:35.1px;height:21.0px;line-height:21.0px;color:#000;"><span class="fit" style="transform:scaleX(1.001)">22.5億</span></div>
<div class="t d" style="left:589.3px;top:202.7px;width:35.9px;height:21.0px;line-height:21.0px;color:#000;"><span class="fit" style="transform:scaleX(0.833)">55万</span></div>
<div class="t d" style="left:625.2px;top:202.7px;width:35.9px;height:21.0px;line-height:21.0px;color:#000;"><span class="fit" style="transform:scaleX(0.854)">110万</span></div>
<div class="t d b" style="left:661.1px;top:202.7px;width:35.9px;height:21.0px;line-height:21.0px;color:#000090;"><span class="fit" style="transform:scaleX(0.830)">219万</span></div>
<div class="t d" style="left:697.0px;top:202.7px;width:35.9px;height:21.0px;line-height:21.0px;color:#cc2222;"><span class="fit" style="transform:scaleX(0.830)">439万</span></div>
<div class="t d" style="left:732.9px;top:202.7px;width:35.9px;height:21.0px;line-height:21.0px;color:#a81818;"><span class="fit" style="transform:scaleX(0.830)">877万</span></div>
<div class="t d s10" style="left:768.8px;top:202.2px;width:35.9px;height:21.0px;line-height:21.0px;color:#000;"><span class="fit" style="transform:scaleX(0.930)">1754万</span></div>
<div class="t d s10" style="left:804.7px;top:202.2px;width:35.9px;height:21.0px;line-height:21.0px;color:#000;"><span class="fit" style="transform:scaleX(0.930)">3509万</span></div>
<div class="t d s10" style="left:840.6px;top:202.2px;width:35.9px;height:21.0px;line-height:21.0px;color:#000;"><span class="fit" style="transform:scaleX(0.930)">7018万</span></div>
<div class="t d s11" style="left:876.5px;top:202.2px;width:35.9px;height:21.0px;line-height:21.0px;color:#000;"><span class="fit" style="transform:scaleX(1.001)">1.40億</span></div>
<div class="t d s11" style="left:912.4px;top:202.2px;width:35.9px;height:21.0px;line-height:21.0px;color:#000;"><span class="fit" style="transform:scaleX(1.001)">2.81億</span></div>
<div class="t d s11" style="left:948.3px;top:202.2px;width:35.9px;height:21.0px;line-height:21.0px;color:#000;"><span class="fit" style="transform:scaleX(1.001)">5.61億</span></div>
<div class="t d s11" style="left:984.2px;top:202.2px;width:35.1px;height:21.0px;line-height:21.0px;color:#000;"><span class="fit" style="transform:scaleX(1.027)">11.2億</span></div>
<div class="t d" style="left:589.3px;top:223.6px;width:35.9px;height:21.0px;line-height:21.0px;color:#000;"><span class="fit" style="transform:scaleX(0.833)">27万</span></div>
<div class="t d" style="left:625.2px;top:223.6px;width:35.9px;height:21.0px;line-height:21.0px;color:#000;"><span class="fit" style="transform:scaleX(0.833)">55万</span></div>
<div class="t d" style="left:661.1px;top:223.6px;width:35.9px;height:21.0px;line-height:21.0px;color:#000;"><span class="fit" style="transform:scaleX(0.854)">110万</span></div>
<div class="t d b" style="left:697.0px;top:223.6px;width:35.9px;height:21.0px;line-height:21.0px;color:#000090;"><span class="fit" style="transform:scaleX(0.830)">219万</span></div>
<div class="t d" style="left:732.9px;top:223.6px;width:35.9px;height:21.0px;line-height:21.0px;color:#cc2222;"><span class="fit" style="transform:scaleX(0.830)">439万</span></div>
<div class="t d" style="left:768.8px;top:223.6px;width:35.9px;height:21.0px;line-height:21.0px;color:#a81818;"><span class="fit" style="transform:scaleX(0.830)">877万</span></div>
<div class="t d s10" style="left:804.7px;top:223.1px;width:35.9px;height:21.0px;line-height:21.0px;color:#000;"><span class="fit" style="transform:scaleX(0.930)">1754万</span></div>
<div class="t d s10" style="left:840.6px;top:223.1px;width:35.9px;height:21.0px;line-height:21.0px;color:#000;"><span class="fit" style="transform:scaleX(0.930)">3509万</span></div>
<div class="t d s10" style="left:876.5px;top:223.1px;width:35.9px;height:21.0px;line-height:21.0px;color:#000;"><span class="fit" style="transform:scaleX(0.930)">7018万</span></div>
<div class="t d s11" style="left:912.4px;top:223.1px;width:35.9px;height:21.0px;line-height:21.0px;color:#000;"><span class="fit" style="transform:scaleX(1.001)">1.40億</span></div>
<div class="t d s11" style="left:948.3px;top:223.1px;width:35.9px;height:21.0px;line-height:21.0px;color:#000;"><span class="fit" style="transform:scaleX(1.001)">2.81億</span></div>
<div class="t d s11" style="left:984.2px;top:223.1px;width:35.1px;height:21.0px;line-height:21.0px;color:#000;"><span class="fit" style="transform:scaleX(1.001)">5.61億</span></div>
<div class="t d" style="left:589.3px;top:244.6px;width:35.9px;height:21.0px;line-height:21.0px;color:#000;"><span class="fit" style="transform:scaleX(0.833)">14万</span></div>
<div class="t d" style="left:625.2px;top:244.6px;width:35.9px;height:21.0px;line-height:21.0px;color:#000;"><span class="fit" style="transform:scaleX(0.833)">27万</span></div>
<div class="t d" style="left:661.1px;top:244.6px;width:35.9px;height:21.0px;line-height:21.0px;color:#000;"><span class="fit" style="transform:scaleX(0.833)">55万</span></div>
<div class="t d" style="left:697.0px;top:244.6px;width:35.9px;height:21.0px;line-height:21.0px;color:#000;"><span class="fit" style="transform:scaleX(0.854)">110万</span></div>
<div class="t d b" style="left:732.9px;top:244.6px;width:35.9px;height:21.0px;line-height:21.0px;color:#000090;"><span class="fit" style="transform:scaleX(0.830)">219万</span></div>
<div class="t d" style="left:768.8px;top:244.6px;width:35.9px;height:21.0px;line-height:21.0px;color:#cc2222;"><span class="fit" style="transform:scaleX(0.830)">439万</span></div>
<div class="t d" style="left:804.7px;top:244.6px;width:35.9px;height:21.0px;line-height:21.0px;color:#a81818;"><span class="fit" style="transform:scaleX(0.830)">877万</span></div>
<div class="t d s10" style="left:840.6px;top:244.1px;width:35.9px;height:21.0px;line-height:21.0px;color:#000;"><span class="fit" style="transform:scaleX(0.930)">1754万</span></div>
<div class="t d s10" style="left:876.5px;top:244.1px;width:35.9px;height:21.0px;line-height:21.0px;color:#000;"><span class="fit" style="transform:scaleX(0.930)">3509万</span></div>
<div class="t d s10" style="left:912.4px;top:244.1px;width:35.9px;height:21.0px;line-height:21.0px;color:#000;"><span class="fit" style="transform:scaleX(0.930)">7018万</span></div>
<div class="t d s11" style="left:948.3px;top:244.1px;width:35.9px;height:21.0px;line-height:21.0px;color:#000;"><span class="fit" style="transform:scaleX(1.001)">1.40億</span></div>
<div class="t d s11" style="left:984.2px;top:244.1px;width:35.1px;height:21.0px;line-height:21.0px;color:#000;"><span class="fit" style="transform:scaleX(1.001)">2.81億</span></div>
<div class="t d" style="left:589.3px;top:265.6px;width:35.9px;height:21.0px;line-height:21.0px;color:#000;"><span class="fit" style="transform:scaleX(0.823)">6.9万</span></div>
<div class="t d" style="left:625.2px;top:265.6px;width:35.9px;height:21.0px;line-height:21.0px;color:#000;"><span class="fit" style="transform:scaleX(0.833)">14万</span></div>
<div class="t d" style="left:661.1px;top:265.6px;width:35.9px;height:21.0px;line-height:21.0px;color:#000;"><span class="fit" style="transform:scaleX(0.833)">27万</span></div>
<div class="t d" style="left:697.0px;top:265.6px;width:35.9px;height:21.0px;line-height:21.0px;color:#000;"><span class="fit" style="transform:scaleX(0.833)">55万</span></div>
<div class="t d" style="left:732.9px;top:265.6px;width:35.9px;height:21.0px;line-height:21.0px;color:#000;"><span class="fit" style="transform:scaleX(0.854)">110万</span></div>
<div class="t d b" style="left:768.8px;top:265.6px;width:35.9px;height:21.0px;line-height:21.0px;color:#000090;"><span class="fit" style="transform:scaleX(0.830)">219万</span></div>
<div class="t d" style="left:804.7px;top:265.6px;width:35.9px;height:21.0px;line-height:21.0px;color:#cc2222;"><span class="fit" style="transform:scaleX(0.830)">439万</span></div>
<div class="t d" style="left:840.6px;top:265.6px;width:35.9px;height:21.0px;line-height:21.0px;color:#a81818;"><span class="fit" style="transform:scaleX(0.830)">877万</span></div>
<div class="t d s10" style="left:876.5px;top:265.1px;width:35.9px;height:21.0px;line-height:21.0px;color:#000;"><span class="fit" style="transform:scaleX(0.930)">1754万</span></div>
<div class="t d s10" style="left:912.4px;top:265.1px;width:35.9px;height:21.0px;line-height:21.0px;color:#000;"><span class="fit" style="transform:scaleX(0.930)">3509万</span></div>
<div class="t d s10" style="left:948.3px;top:265.1px;width:35.9px;height:21.0px;line-height:21.0px;color:#000;"><span class="fit" style="transform:scaleX(0.930)">7018万</span></div>
<div class="t d s11" style="left:984.2px;top:265.1px;width:35.1px;height:21.0px;line-height:21.0px;color:#000;"><span class="fit" style="transform:scaleX(1.001)">1.40億</span></div>
<div class="t d" style="left:589.3px;top:286.6px;width:35.9px;height:21.0px;line-height:21.0px;color:#000;"><span class="fit" style="transform:scaleX(0.823)">3.4万</span></div>
<div class="t d" style="left:625.2px;top:286.6px;width:35.9px;height:21.0px;line-height:21.0px;color:#000;"><span class="fit" style="transform:scaleX(0.823)">6.9万</span></div>
<div class="t d" style="left:661.1px;top:286.6px;width:35.9px;height:21.0px;line-height:21.0px;color:#000;"><span class="fit" style="transform:scaleX(0.833)">14万</span></div>
<div class="t d" style="left:697.0px;top:286.6px;width:35.9px;height:21.0px;line-height:21.0px;color:#000;"><span class="fit" style="transform:scaleX(0.833)">27万</span></div>
<div class="t d" style="left:732.9px;top:286.6px;width:35.9px;height:21.0px;line-height:21.0px;color:#000;"><span class="fit" style="transform:scaleX(0.833)">55万</span></div>
<div class="t d" style="left:768.8px;top:286.6px;width:35.9px;height:21.0px;line-height:21.0px;color:#000;"><span class="fit" style="transform:scaleX(0.854)">110万</span></div>
<div class="t d b" style="left:804.7px;top:286.6px;width:35.9px;height:21.0px;line-height:21.0px;color:#000090;"><span class="fit" style="transform:scaleX(0.830)">219万</span></div>
<div class="t d" style="left:840.6px;top:286.6px;width:35.9px;height:21.0px;line-height:21.0px;color:#cc2222;"><span class="fit" style="transform:scaleX(0.830)">439万</span></div>
<div class="t d" style="left:876.5px;top:286.6px;width:35.9px;height:21.0px;line-height:21.0px;color:#a81818;"><span class="fit" style="transform:scaleX(0.830)">877万</span></div>
<div class="t d s10" style="left:912.4px;top:286.1px;width:35.9px;height:21.0px;line-height:21.0px;color:#000;"><span class="fit" style="transform:scaleX(0.930)">1754万</span></div>
<div class="t d s10" style="left:948.3px;top:286.1px;width:35.9px;height:21.0px;line-height:21.0px;color:#000;"><span class="fit" style="transform:scaleX(0.930)">3509万</span></div>
<div class="t d s10" style="left:984.2px;top:286.1px;width:35.1px;height:21.0px;line-height:21.0px;color:#000;"><span class="fit" style="transform:scaleX(0.930)">7018万</span></div>
<div class="t d" style="left:589.3px;top:307.5px;width:35.9px;height:21.0px;line-height:21.0px;color:#000;"><span class="fit" style="transform:scaleX(0.823)">1.7万</span></div>
<div class="t d" style="left:625.2px;top:307.5px;width:35.9px;height:21.0px;line-height:21.0px;color:#000;"><span class="fit" style="transform:scaleX(0.823)">3.4万</span></div>
<div class="t d" style="left:661.1px;top:307.5px;width:35.9px;height:21.0px;line-height:21.0px;color:#000;"><span class="fit" style="transform:scaleX(0.823)">6.9万</span></div>
<div class="t d" style="left:697.0px;top:307.5px;width:35.9px;height:21.0px;line-height:21.0px;color:#000;"><span class="fit" style="transform:scaleX(0.833)">14万</span></div>
<div class="t d" style="left:732.9px;top:307.5px;width:35.9px;height:21.0px;line-height:21.0px;color:#000;"><span class="fit" style="transform:scaleX(0.833)">27万</span></div>
<div class="t d" style="left:768.8px;top:307.5px;width:35.9px;height:21.0px;line-height:21.0px;color:#000;"><span class="fit" style="transform:scaleX(0.833)">55万</span></div>
<div class="t d" style="left:804.7px;top:307.5px;width:35.9px;height:21.0px;line-height:21.0px;color:#000;"><span class="fit" style="transform:scaleX(0.854)">110万</span></div>
<div class="t d b" style="left:840.6px;top:307.5px;width:35.9px;height:21.0px;line-height:21.0px;color:#000090;"><span class="fit" style="transform:scaleX(0.830)">219万</span></div>
<div class="t d" style="left:876.5px;top:307.5px;width:35.9px;height:21.0px;line-height:21.0px;color:#cc2222;"><span class="fit" style="transform:scaleX(0.830)">439万</span></div>
<div class="t d" style="left:912.4px;top:307.5px;width:35.9px;height:21.0px;line-height:21.0px;color:#a81818;"><span class="fit" style="transform:scaleX(0.830)">877万</span></div>
<div class="t d s10" style="left:948.3px;top:307.0px;width:35.9px;height:21.0px;line-height:21.0px;color:#000;"><span class="fit" style="transform:scaleX(0.930)">1754万</span></div>
<div class="t d s10" style="left:984.2px;top:307.0px;width:35.1px;height:21.0px;line-height:21.0px;color:#000;"><span class="fit" style="transform:scaleX(0.930)">3509万</span></div>
<div class="t d" style="left:589.3px;top:328.5px;width:35.9px;height:21.0px;line-height:21.0px;color:#000;"><span class="fit" style="transform:scaleX(0.823)">0.9万</span></div>
<div class="t d" style="left:625.2px;top:328.5px;width:35.9px;height:21.0px;line-height:21.0px;color:#000;"><span class="fit" style="transform:scaleX(0.823)">1.7万</span></div>
<div class="t d" style="left:661.1px;top:328.5px;width:35.9px;height:21.0px;line-height:21.0px;color:#000;"><span class="fit" style="transform:scaleX(0.823)">3.4万</span></div>
<div class="t d" style="left:697.0px;top:328.5px;width:35.9px;height:21.0px;line-height:21.0px;color:#000;"><span class="fit" style="transform:scaleX(0.823)">6.9万</span></div>
<div class="t d s9" style="left:732.9px;top:326.0px;width:35.9px;height:21.0px;line-height:21.0px;color:#000;"><span class="fit" style="transform:scaleX(0.905)">13.7万</span></div>
<div class="t d" style="left:768.8px;top:328.5px;width:35.9px;height:21.0px;line-height:21.0px;color:#000;"><span class="fit" style="transform:scaleX(0.833)">27万</span></div>
<div class="t d" style="left:804.7px;top:328.5px;width:35.9px;height:21.0px;line-height:21.0px;color:#000;"><span class="fit" style="transform:scaleX(0.833)">55万</span></div>
<div class="t d" style="left:840.6px;top:328.5px;width:35.9px;height:21.0px;line-height:21.0px;color:#000;"><span class="fit" style="transform:scaleX(0.854)">110万</span></div>
<div class="t d b" style="left:876.5px;top:328.5px;width:35.9px;height:21.0px;line-height:21.0px;color:#000090;"><span class="fit" style="transform:scaleX(0.830)">219万</span></div>
<div class="t d" style="left:912.4px;top:328.5px;width:35.9px;height:21.0px;line-height:21.0px;color:#cc2222;"><span class="fit" style="transform:scaleX(0.830)">439万</span></div>
<div class="t d" style="left:948.3px;top:328.5px;width:35.9px;height:21.0px;line-height:21.0px;color:#a81818;"><span class="fit" style="transform:scaleX(0.830)">877万</span></div>
<div class="t d s10" style="left:984.2px;top:328.0px;width:35.1px;height:21.0px;line-height:21.0px;color:#000;"><span class="fit" style="transform:scaleX(0.930)">1754万</span></div>
<div class="t d" style="left:589.3px;top:349.5px;width:35.9px;height:21.0px;line-height:21.0px;color:#000;"><span class="fit" style="transform:scaleX(0.823)">0.4万</span></div>
<div class="t d" style="left:625.2px;top:349.5px;width:35.9px;height:21.0px;line-height:21.0px;color:#000;"><span class="fit" style="transform:scaleX(0.823)">0.9万</span></div>
<div class="t d" style="left:661.1px;top:349.5px;width:35.9px;height:21.0px;line-height:21.0px;color:#000;"><span class="fit" style="transform:scaleX(0.823)">1.7万</span></div>
<div class="t d" style="left:697.0px;top:349.5px;width:35.9px;height:21.0px;line-height:21.0px;color:#000;"><span class="fit" style="transform:scaleX(0.823)">3.4万</span></div>
<div class="t d" style="left:732.9px;top:349.5px;width:35.9px;height:21.0px;line-height:21.0px;color:#000;"><span class="fit" style="transform:scaleX(0.823)">6.9万</span></div>
<div class="t d" style="left:768.8px;top:349.5px;width:35.9px;height:21.0px;line-height:21.0px;color:#000;"><span class="fit" style="transform:scaleX(0.833)">14万</span></div>
<div class="t d" style="left:804.7px;top:349.5px;width:35.9px;height:21.0px;line-height:21.0px;color:#000;"><span class="fit" style="transform:scaleX(0.833)">27万</span></div>
<div class="t d" style="left:840.6px;top:349.5px;width:35.9px;height:21.0px;line-height:21.0px;color:#000;"><span class="fit" style="transform:scaleX(0.833)">55万</span></div>
<div class="t d" style="left:876.5px;top:349.5px;width:35.9px;height:21.0px;line-height:21.0px;color:#000;"><span class="fit" style="transform:scaleX(0.854)">110万</span></div>
<div class="t d b" style="left:912.4px;top:349.5px;width:35.9px;height:21.0px;line-height:21.0px;color:#000090;"><span class="fit" style="transform:scaleX(0.830)">219万</span></div>
<div class="t d" style="left:948.3px;top:349.5px;width:35.9px;height:21.0px;line-height:21.0px;color:#cc2222;"><span class="fit" style="transform:scaleX(0.830)">439万</span></div>
<div class="t d" style="left:984.2px;top:349.5px;width:35.1px;height:21.0px;line-height:21.0px;color:#a81818;"><span class="fit" style="transform:scaleX(0.830)">877万</span></div>
<div class="t d" style="left:589.3px;top:370.4px;width:35.9px;height:21.0px;line-height:21.0px;color:#000;"><span class="fit" style="transform:scaleX(0.823)">0.2万</span></div>
<div class="t d" style="left:625.2px;top:370.4px;width:35.9px;height:21.0px;line-height:21.0px;color:#000;"><span class="fit" style="transform:scaleX(0.823)">0.4万</span></div>
<div class="t d" style="left:661.1px;top:370.4px;width:35.9px;height:21.0px;line-height:21.0px;color:#000;"><span class="fit" style="transform:scaleX(0.823)">0.9万</span></div>
<div class="t d" style="left:697.0px;top:370.4px;width:35.9px;height:21.0px;line-height:21.0px;color:#000;"><span class="fit" style="transform:scaleX(0.823)">1.7万</span></div>
<div class="t d" style="left:732.9px;top:370.4px;width:35.9px;height:21.0px;line-height:21.0px;color:#000;"><span class="fit" style="transform:scaleX(0.823)">3.4万</span></div>
<div class="t d" style="left:768.8px;top:370.4px;width:35.9px;height:21.0px;line-height:21.0px;color:#000;"><span class="fit" style="transform:scaleX(0.823)">6.9万</span></div>
<div class="t d" style="left:804.7px;top:370.4px;width:35.9px;height:21.0px;line-height:21.0px;color:#000;"><span class="fit" style="transform:scaleX(0.833)">14万</span></div>
<div class="t d" style="left:840.6px;top:370.4px;width:35.9px;height:21.0px;line-height:21.0px;color:#000;"><span class="fit" style="transform:scaleX(0.833)">27万</span></div>
<div class="t d" style="left:876.5px;top:370.4px;width:35.9px;height:21.0px;line-height:21.0px;color:#000;"><span class="fit" style="transform:scaleX(0.833)">55万</span></div>
<div class="t d" style="left:912.4px;top:370.4px;width:35.9px;height:21.0px;line-height:21.0px;color:#000;"><span class="fit" style="transform:scaleX(0.854)">110万</span></div>
<div class="t d b" style="left:948.3px;top:370.4px;width:35.9px;height:21.0px;line-height:21.0px;color:#000090;"><span class="fit" style="transform:scaleX(0.830)">219万</span></div>
<div class="t d" style="left:984.2px;top:370.4px;width:35.1px;height:21.0px;line-height:21.0px;color:#cc2222;"><span class="fit" style="transform:scaleX(0.830)">439万</span></div>
<div class="t d" style="left:589.3px;top:391.4px;width:35.9px;height:21.0px;line-height:21.0px;color:#000;"><span class="fit" style="transform:scaleX(0.823)">0.1万</span></div>
<div class="t d" style="left:625.2px;top:391.4px;width:35.9px;height:21.0px;line-height:21.0px;color:#000;"><span class="fit" style="transform:scaleX(0.823)">0.2万</span></div>
<div class="t d" style="left:661.1px;top:391.4px;width:35.9px;height:21.0px;line-height:21.0px;color:#000;"><span class="fit" style="transform:scaleX(0.823)">0.4万</span></div>
<div class="t d" style="left:697.0px;top:391.4px;width:35.9px;height:21.0px;line-height:21.0px;color:#000;"><span class="fit" style="transform:scaleX(0.823)">0.9万</span></div>
<div class="t d" style="left:732.9px;top:391.4px;width:35.9px;height:21.0px;line-height:21.0px;color:#000;"><span class="fit" style="transform:scaleX(0.823)">1.7万</span></div>
<div class="t d" style="left:768.8px;top:391.4px;width:35.9px;height:21.0px;line-height:21.0px;color:#000;"><span class="fit" style="transform:scaleX(0.823)">3.4万</span></div>
<div class="t d" style="left:804.7px;top:391.4px;width:35.9px;height:21.0px;line-height:21.0px;color:#000;"><span class="fit" style="transform:scaleX(0.823)">6.9万</span></div>
<div class="t d" style="left:840.6px;top:391.4px;width:35.9px;height:21.0px;line-height:21.0px;color:#000;"><span class="fit" style="transform:scaleX(0.833)">14万</span></div>
<div class="t d" style="left:876.5px;top:391.4px;width:35.9px;height:21.0px;line-height:21.0px;color:#000;"><span class="fit" style="transform:scaleX(0.833)">27万</span></div>
<div class="t d" style="left:912.4px;top:391.4px;width:35.9px;height:21.0px;line-height:21.0px;color:#000;"><span class="fit" style="transform:scaleX(0.833)">55万</span></div>
<div class="t d" style="left:948.3px;top:391.4px;width:35.9px;height:21.0px;line-height:21.0px;color:#000;"><span class="fit" style="transform:scaleX(0.854)">110万</span></div>
<div class="t d b" style="left:984.2px;top:391.4px;width:35.1px;height:21.0px;line-height:21.0px;color:#000090;"><span class="fit" style="transform:scaleX(0.830)">219万</span></div>
<div class="t d" style="left:589.3px;top:412.4px;width:35.9px;height:21.0px;line-height:21.0px;color:#000;"><span class="fit" style="transform:scaleX(0.823)">0.1万</span></div>
<div class="t d" style="left:625.2px;top:412.4px;width:35.9px;height:21.0px;line-height:21.0px;color:#000;"><span class="fit" style="transform:scaleX(0.823)">0.1万</span></div>
<div class="t d" style="left:661.1px;top:412.4px;width:35.9px;height:21.0px;line-height:21.0px;color:#000;"><span class="fit" style="transform:scaleX(0.823)">0.2万</span></div>
<div class="t d" style="left:697.0px;top:412.4px;width:35.9px;height:21.0px;line-height:21.0px;color:#000;"><span class="fit" style="transform:scaleX(0.823)">0.4万</span></div>
<div class="t d" style="left:732.9px;top:412.4px;width:35.9px;height:21.0px;line-height:21.0px;color:#000;"><span class="fit" style="transform:scaleX(0.823)">0.9万</span></div>
<div class="t d" style="left:768.8px;top:412.4px;width:35.9px;height:21.0px;line-height:21.0px;color:#000;"><span class="fit" style="transform:scaleX(0.823)">1.7万</span></div>
<div class="t d" style="left:804.7px;top:412.4px;width:35.9px;height:21.0px;line-height:21.0px;color:#000;"><span class="fit" style="transform:scaleX(0.823)">3.4万</span></div>
<div class="t d" style="left:840.6px;top:412.4px;width:35.9px;height:21.0px;line-height:21.0px;color:#000;"><span class="fit" style="transform:scaleX(0.823)">6.9万</span></div>
<div class="t d" style="left:876.5px;top:412.4px;width:35.9px;height:21.0px;line-height:21.0px;color:#000;"><span class="fit" style="transform:scaleX(0.833)">14万</span></div>
<div class="t d" style="left:912.4px;top:412.4px;width:35.9px;height:21.0px;line-height:21.0px;color:#000;"><span class="fit" style="transform:scaleX(0.833)">27万</span></div>
<div class="t d" style="left:948.3px;top:412.4px;width:35.9px;height:21.0px;line-height:21.0px;color:#000;"><span class="fit" style="transform:scaleX(0.833)">55万</span></div>
<div class="t d" style="left:984.2px;top:412.4px;width:35.1px;height:21.0px;line-height:21.0px;color:#000;"><span class="fit" style="transform:scaleX(0.854)">110万</span></div>
<div class="t d" style="left:589.3px;top:433.3px;width:35.9px;height:20.5px;line-height:20.5px;color:#000;"><span class="fit" style="transform:scaleX(0.823)">0.0万</span></div>
<div class="t d" style="left:625.2px;top:433.3px;width:35.9px;height:20.5px;line-height:20.5px;color:#000;"><span class="fit" style="transform:scaleX(0.823)">0.1万</span></div>
<div class="t d" style="left:661.1px;top:433.3px;width:35.9px;height:20.5px;line-height:20.5px;color:#000;"><span class="fit" style="transform:scaleX(0.823)">0.1万</span></div>
<div class="t d" style="left:697.0px;top:433.3px;width:35.9px;height:20.5px;line-height:20.5px;color:#000;"><span class="fit" style="transform:scaleX(0.823)">0.2万</span></div>
<div class="t d" style="left:732.9px;top:433.3px;width:35.9px;height:20.5px;line-height:20.5px;color:#000;"><span class="fit" style="transform:scaleX(0.823)">0.4万</span></div>
<div class="t d" style="left:768.8px;top:433.3px;width:35.9px;height:20.5px;line-height:20.5px;color:#000;"><span class="fit" style="transform:scaleX(0.823)">0.9万</span></div>
<div class="t d" style="left:804.7px;top:433.3px;width:35.9px;height:20.5px;line-height:20.5px;color:#000;"><span class="fit" style="transform:scaleX(0.823)">1.7万</span></div>
<div class="t d" style="left:840.6px;top:433.3px;width:35.9px;height:20.5px;line-height:20.5px;color:#000;"><span class="fit" style="transform:scaleX(0.823)">3.4万</span></div>
<div class="t d" style="left:876.5px;top:433.3px;width:35.9px;height:20.5px;line-height:20.5px;color:#000;"><span class="fit" style="transform:scaleX(0.823)">6.9万</span></div>
<div class="t d" style="left:912.4px;top:433.3px;width:35.9px;height:20.5px;line-height:20.5px;color:#000;"><span class="fit" style="transform:scaleX(0.833)">14万</span></div>
<div class="t d" style="left:948.3px;top:433.3px;width:35.9px;height:20.5px;line-height:20.5px;color:#000;"><span class="fit" style="transform:scaleX(0.833)">27万</span></div>
<div class="t d" style="left:984.2px;top:433.3px;width:35.1px;height:20.5px;line-height:20.5px;color:#000;"><span class="fit" style="transform:scaleX(0.833)">55万</span></div>
<div class="t d r" style="left:589.3px;top:34.1px;width:35.9px;height:21.5px;line-height:21.5px;"><span class="fit" style="transform:scaleX(0.901)">116</span></div>
<div class="t dia b" style="left:589.3px;top:55.8px;width:35.9px;height:31.9px;line-height:31.9px;">1</div>
<div class="t d r" style="left:625.2px;top:34.1px;width:35.9px;height:21.5px;line-height:21.5px;"><span class="fit" style="transform:scaleX(0.849)">81.9</span></div>
<div class="t dia" style="left:625.2px;top:55.8px;width:35.9px;height:31.9px;line-height:31.9px;">1.41</div>
<div class="t d r" style="left:661.1px;top:34.1px;width:35.9px;height:21.5px;line-height:21.5px;"><span class="fit" style="transform:scaleX(0.849)">57.9</span></div>
<div class="t dia b" style="left:661.1px;top:55.8px;width:35.9px;height:31.9px;line-height:31.9px;">2</div>
<div class="t d r" style="left:697.0px;top:34.1px;width:35.9px;height:21.5px;line-height:21.5px;"><span class="fit" style="transform:scaleX(0.849)">40.9</span></div>
<div class="t dia" style="left:697.0px;top:55.8px;width:35.9px;height:31.9px;line-height:31.9px;">2.83</div>
<div class="t d r" style="left:732.9px;top:34.1px;width:35.9px;height:21.5px;line-height:21.5px;"><span class="fit" style="transform:scaleX(0.849)">29.0</span></div>
<div class="t dia b" style="left:732.9px;top:55.8px;width:35.9px;height:31.9px;line-height:31.9px;">4</div>
<div class="t d r" style="left:768.8px;top:34.1px;width:35.9px;height:21.5px;line-height:21.5px;"><span class="fit" style="transform:scaleX(0.849)">20.5</span></div>
<div class="t dia" style="left:768.8px;top:55.8px;width:35.9px;height:31.9px;line-height:31.9px;">5.66</div>
<div class="t d r" style="left:804.7px;top:34.1px;width:35.9px;height:21.5px;line-height:21.5px;"><span class="fit" style="transform:scaleX(0.849)">14.5</span></div>
<div class="t dia b" style="left:804.7px;top:55.8px;width:35.9px;height:31.9px;line-height:31.9px;">8</div>
<div class="t d r" style="left:840.6px;top:34.1px;width:35.9px;height:21.5px;line-height:21.5px;"><span class="fit" style="transform:scaleX(0.849)">10.2</span></div>
<div class="t dia" style="left:840.6px;top:55.8px;width:35.9px;height:31.9px;line-height:31.9px;">11.3</div>
<div class="t d r" style="left:876.5px;top:34.1px;width:35.9px;height:21.5px;line-height:21.5px;"><span class="fit" style="transform:scaleX(0.849)">7.24</span></div>
<div class="t dia b" style="left:876.5px;top:55.8px;width:35.9px;height:31.9px;line-height:31.9px;">16</div>
<div class="t d r" style="left:912.4px;top:34.1px;width:35.9px;height:21.5px;line-height:21.5px;"><span class="fit" style="transform:scaleX(0.849)">5.12</span></div>
<div class="t dia" style="left:912.4px;top:55.8px;width:35.9px;height:31.9px;line-height:31.9px;">22.6</div>
<div class="t d r" style="left:948.3px;top:34.1px;width:35.9px;height:21.5px;line-height:21.5px;"><span class="fit" style="transform:scaleX(0.849)">3.62</span></div>
<div class="t dia b" style="left:948.3px;top:55.8px;width:35.9px;height:31.9px;line-height:31.9px;">32</div>
<div class="t d r" style="left:984.2px;top:34.1px;width:35.9px;height:21.5px;line-height:21.5px;"><span class="fit" style="transform:scaleX(0.849)">2.56</span></div>
<div class="t dia" style="left:984.2px;top:55.8px;width:35.9px;height:31.9px;line-height:31.9px;">45.3</div>
<div class="t lab1" style="left:517.5px;top:33.8px;width:70.0px;height:21.5px;line-height:21.5px;"><span class="fit" style="transform:scaleX(0.982)">分解能[秒角]</span></div>
<div class="t lab2" style="left:517.5px;top:55.8px;width:70.0px;height:15.0px;line-height:15.0px;"><span class="fit" style="transform:scaleX(0.923)">有効(<span class="sq">□</span>)径</span></div>
<div class="t lab2" style="left:517.5px;top:69.8px;width:70.0px;height:15.0px;line-height:15.0px;font-size:12px;"><span class="fit" style="transform:scaleX(0.900)">[mm]</span></div>
<div class="t hd" style="left:517.5px;top:90.5px;width:28.7px;height:14.0px;line-height:14.0px;">対角</div>
<div class="t hd" style="left:517.5px;top:103.0px;width:28.7px;height:14.0px;line-height:14.0px;">画角</div>
<div class="t hd2" style="left:548.6px;top:89.5px;width:38.9px;height:15.0px;line-height:15.0px;">換算<b class="f">f</b></div>
<div class="t hd2" style="left:548.6px;top:101.5px;width:38.9px;height:15.0px;line-height:15.0px;">[mm]</div>
<div class="t ang" style="left:520.3px;top:117.8px;width:26.7px;height:20.9px;line-height:20.9px;"><span class="fit" style="transform:scaleX(0.785)">101°</span></div>
<div class="t fv" style="left:548.6px;top:119.3px;width:38.9px;height:20.9px;line-height:20.9px;"><span class="fit" style="transform:scaleX(0.932)">17.7</span></div>
<div class="t ang" style="left:520.3px;top:138.8px;width:26.7px;height:20.9px;line-height:20.9px;"><span class="fit" style="transform:scaleX(0.799)">82°</span></div>
<div class="t fv b" style="left:548.6px;top:140.3px;width:38.9px;height:20.9px;line-height:20.9px;color:#dc2800;font-weight:bold;font-size:14.5px;letter-spacing:0;"><span class="fit" style="transform:scaleX(1.053)">25</span></div>
<div class="t ang" style="left:520.3px;top:159.7px;width:26.7px;height:20.9px;line-height:20.9px;"><span class="fit" style="transform:scaleX(0.799)">63°</span></div>
<div class="t fv" style="left:548.6px;top:161.2px;width:38.9px;height:20.9px;line-height:20.9px;color:#1a1a70;"><span class="fit" style="transform:scaleX(0.989)">35.4</span></div>
<div class="t ang" style="left:520.3px;top:180.7px;width:26.7px;height:20.9px;line-height:20.9px;"><span class="fit" style="transform:scaleX(0.799)">47°</span></div>
<div class="t fv b" style="left:548.6px;top:182.2px;width:38.9px;height:20.9px;line-height:20.9px;"><span class="fit" style="transform:scaleX(1.084)">50</span></div>
<div class="t ang" style="left:520.3px;top:201.7px;width:26.7px;height:20.9px;line-height:20.9px;"><span class="fit" style="transform:scaleX(0.799)">34°</span></div>
<div class="t fv" style="left:548.6px;top:203.2px;width:38.9px;height:20.9px;line-height:20.9px;"><span class="fit" style="transform:scaleX(0.970)">70.7</span></div>
<div class="t ang" style="left:520.3px;top:222.6px;width:26.7px;height:20.9px;line-height:20.9px;"><span class="fit" style="transform:scaleX(0.799)">24°</span></div>
<div class="t fv b" style="left:548.6px;top:224.1px;width:38.9px;height:20.9px;line-height:20.9px;"><span class="fit" style="transform:scaleX(1.074)">100</span></div>
<div class="t ang" style="left:520.3px;top:243.6px;width:26.7px;height:20.9px;line-height:20.9px;"><span class="fit" style="transform:scaleX(0.799)">17°</span></div>
<div class="t fv" style="left:548.6px;top:245.1px;width:38.9px;height:20.9px;line-height:20.9px;"><span class="fit" style="transform:scaleX(1.087)">141</span></div>
<div class="t ang" style="left:520.3px;top:264.6px;width:26.7px;height:20.9px;line-height:20.9px;"><span class="fit" style="transform:scaleX(0.799)">12°</span></div>
<div class="t fv b" style="left:548.6px;top:266.1px;width:38.9px;height:20.9px;line-height:20.9px;"><span class="fit" style="transform:scaleX(1.095)">200</span></div>
<div class="t ang" style="left:520.3px;top:285.6px;width:26.7px;height:20.9px;line-height:20.9px;"><span class="fit" style="transform:scaleX(0.768)">8.7°</span></div>
<div class="t fv" style="left:548.6px;top:287.1px;width:38.9px;height:20.9px;line-height:20.9px;"><span class="fit" style="transform:scaleX(1.132)">283</span></div>
<div class="t ang" style="left:520.3px;top:306.5px;width:26.7px;height:20.9px;line-height:20.9px;"><span class="fit" style="transform:scaleX(0.768)">6.2°</span></div>
<div class="t fv b" style="left:548.6px;top:308.0px;width:38.9px;height:20.9px;line-height:20.9px;"><span class="fit" style="transform:scaleX(1.095)">400</span></div>
<div class="t ang" style="left:520.3px;top:327.5px;width:26.7px;height:20.9px;line-height:20.9px;"><span class="fit" style="transform:scaleX(0.768)">4.4°</span></div>
<div class="t fv" style="left:548.6px;top:329.0px;width:38.9px;height:20.9px;line-height:20.9px;"><span class="fit" style="transform:scaleX(1.132)">566</span></div>
<div class="t ang" style="left:520.3px;top:348.5px;width:26.7px;height:20.9px;line-height:20.9px;"><span class="fit" style="transform:scaleX(0.768)">3.1°</span></div>
<div class="t fv b" style="left:548.6px;top:350.0px;width:38.9px;height:20.9px;line-height:20.9px;"><span class="fit" style="transform:scaleX(1.095)">800</span></div>
<div class="t ang" style="left:520.3px;top:369.4px;width:26.7px;height:20.9px;line-height:20.9px;"><span class="fit" style="transform:scaleX(0.768)">2.2°</span></div>
<div class="t fv" style="left:548.6px;top:370.9px;width:38.9px;height:20.9px;line-height:20.9px;"><span class="fit" style="transform:scaleX(1.033)">1131</span></div>
<div class="t ang" style="left:520.3px;top:390.4px;width:26.7px;height:20.9px;line-height:20.9px;"><span class="fit" style="transform:scaleX(0.768)">1.5°</span></div>
<div class="t fv b" style="left:548.6px;top:391.9px;width:38.9px;height:20.9px;line-height:20.9px;"><span class="fit" style="transform:scaleX(1.023)">1600</span></div>
<div class="t ang" style="left:520.3px;top:411.4px;width:26.7px;height:20.9px;line-height:20.9px;"><span class="fit" style="transform:scaleX(0.768)">1.1°</span></div>
<div class="t fv" style="left:548.6px;top:412.9px;width:38.9px;height:20.9px;line-height:20.9px;"><span class="fit" style="transform:scaleX(1.032)">2263</span></div>
<div class="t ang" style="left:520.3px;top:432.3px;width:26.7px;height:20.9px;line-height:20.9px;"><span class="fit" style="transform:scaleX(0.768)">0.8°</span></div>
<div class="t fv b" style="left:548.6px;top:433.8px;width:38.9px;height:20.9px;line-height:20.9px;"><span class="fit" style="transform:scaleX(1.023)">3200</span></div>
<div class="t d n" style="left:589.3px;top:585.1px;width:35.9px;height:21.0px;line-height:21.0px;color:#a81818;"><span class="fit" style="transform:scaleX(0.834)">279</span></div>
<div class="t d n" style="left:625.2px;top:585.1px;width:35.9px;height:21.0px;line-height:21.0px;color:#000;"><span class="fit" style="transform:scaleX(0.834)">395</span></div>
<div class="t d n" style="left:661.1px;top:585.1px;width:35.9px;height:21.0px;line-height:21.0px;color:#000;"><span class="fit" style="transform:scaleX(0.834)">559</span></div>
<div class="t d n" style="left:697.0px;top:585.1px;width:35.9px;height:21.0px;line-height:21.0px;color:#000;"><span class="fit" style="transform:scaleX(0.834)">790</span></div>
<div class="t d n" style="left:732.9px;top:585.1px;width:35.9px;height:21.0px;line-height:21.0px;color:#000;"><span class="fit" style="transform:scaleX(0.886)">1118</span></div>
<div class="t d n" style="left:768.8px;top:585.1px;width:35.9px;height:21.0px;line-height:21.0px;color:#000;"><span class="fit" style="transform:scaleX(0.827)">1581</span></div>
<div class="t d n" style="left:804.7px;top:585.1px;width:35.9px;height:21.0px;line-height:21.0px;color:#000;"><span class="fit" style="transform:scaleX(0.827)">2236</span></div>
<div class="t d n" style="left:840.6px;top:585.1px;width:35.9px;height:21.0px;line-height:21.0px;color:#000;"><span class="fit" style="transform:scaleX(0.827)">3162</span></div>
<div class="t d n" style="left:876.5px;top:585.1px;width:35.9px;height:21.0px;line-height:21.0px;color:#000;"><span class="fit" style="transform:scaleX(0.827)">4471</span></div>
<div class="t d n" style="left:912.4px;top:585.1px;width:35.9px;height:21.0px;line-height:21.0px;color:#000;"><span class="fit" style="transform:scaleX(0.827)">6323</span></div>
<div class="t d n" style="left:948.3px;top:585.1px;width:35.9px;height:21.0px;line-height:21.0px;color:#000;"><span class="fit" style="transform:scaleX(0.827)">8943</span></div>
<div class="t d n" style="left:984.2px;top:585.1px;width:35.1px;height:21.0px;line-height:21.0px;color:#000;"><span class="fit" style="transform:scaleX(0.823)">12647</span></div>
<div class="t d n" style="left:589.3px;top:606.1px;width:35.9px;height:21.0px;line-height:21.0px;color:#cc2222;"><span class="fit" style="transform:scaleX(0.834)">198</span></div>
<div class="t d n" style="left:625.2px;top:606.1px;width:35.9px;height:21.0px;line-height:21.0px;color:#a81818;"><span class="fit" style="transform:scaleX(0.834)">279</span></div>
<div class="t d n" style="left:661.1px;top:606.1px;width:35.9px;height:21.0px;line-height:21.0px;color:#000;"><span class="fit" style="transform:scaleX(0.834)">395</span></div>
<div class="t d n" style="left:697.0px;top:606.1px;width:35.9px;height:21.0px;line-height:21.0px;color:#000;"><span class="fit" style="transform:scaleX(0.834)">559</span></div>
<div class="t d n" style="left:732.9px;top:606.1px;width:35.9px;height:21.0px;line-height:21.0px;color:#000;"><span class="fit" style="transform:scaleX(0.834)">790</span></div>
<div class="t d n" style="left:768.8px;top:606.1px;width:35.9px;height:21.0px;line-height:21.0px;color:#000;"><span class="fit" style="transform:scaleX(0.886)">1118</span></div>
<div class="t d n" style="left:804.7px;top:606.1px;width:35.9px;height:21.0px;line-height:21.0px;color:#000;"><span class="fit" style="transform:scaleX(0.827)">1581</span></div>
<div class="t d n" style="left:840.6px;top:606.1px;width:35.9px;height:21.0px;line-height:21.0px;color:#000;"><span class="fit" style="transform:scaleX(0.827)">2236</span></div>
<div class="t d n" style="left:876.5px;top:606.1px;width:35.9px;height:21.0px;line-height:21.0px;color:#000;"><span class="fit" style="transform:scaleX(0.827)">3162</span></div>
<div class="t d n" style="left:912.4px;top:606.1px;width:35.9px;height:21.0px;line-height:21.0px;color:#000;"><span class="fit" style="transform:scaleX(0.827)">4471</span></div>
<div class="t d n" style="left:948.3px;top:606.1px;width:35.9px;height:21.0px;line-height:21.0px;color:#000;"><span class="fit" style="transform:scaleX(0.827)">6323</span></div>
<div class="t d n" style="left:984.2px;top:606.1px;width:35.1px;height:21.0px;line-height:21.0px;color:#000;"><span class="fit" style="transform:scaleX(0.827)">8943</span></div>
<div class="t d b n" style="left:589.3px;top:627.2px;width:35.9px;height:21.0px;line-height:21.0px;color:#000090;"><span class="fit" style="transform:scaleX(0.906)">140</span></div>
<div class="t d n" style="left:625.2px;top:627.2px;width:35.9px;height:21.0px;line-height:21.0px;color:#cc2222;"><span class="fit" style="transform:scaleX(0.834)">198</span></div>
<div class="t d n" style="left:661.1px;top:627.2px;width:35.9px;height:21.0px;line-height:21.0px;color:#a81818;"><span class="fit" style="transform:scaleX(0.834)">279</span></div>
<div class="t d n" style="left:697.0px;top:627.2px;width:35.9px;height:21.0px;line-height:21.0px;color:#000;"><span class="fit" style="transform:scaleX(0.834)">395</span></div>
<div class="t d n" style="left:732.9px;top:627.2px;width:35.9px;height:21.0px;line-height:21.0px;color:#000;"><span class="fit" style="transform:scaleX(0.834)">559</span></div>
<div class="t d n" style="left:768.8px;top:627.2px;width:35.9px;height:21.0px;line-height:21.0px;color:#000;"><span class="fit" style="transform:scaleX(0.834)">790</span></div>
<div class="t d n" style="left:804.7px;top:627.2px;width:35.9px;height:21.0px;line-height:21.0px;color:#000;"><span class="fit" style="transform:scaleX(0.886)">1118</span></div>
<div class="t d n" style="left:840.6px;top:627.2px;width:35.9px;height:21.0px;line-height:21.0px;color:#000;"><span class="fit" style="transform:scaleX(0.827)">1581</span></div>
<div class="t d n" style="left:876.5px;top:627.2px;width:35.9px;height:21.0px;line-height:21.0px;color:#000;"><span class="fit" style="transform:scaleX(0.827)">2236</span></div>
<div class="t d n" style="left:912.4px;top:627.2px;width:35.9px;height:21.0px;line-height:21.0px;color:#000;"><span class="fit" style="transform:scaleX(0.827)">3162</span></div>
<div class="t d n" style="left:948.3px;top:627.2px;width:35.9px;height:21.0px;line-height:21.0px;color:#000;"><span class="fit" style="transform:scaleX(0.827)">4471</span></div>
<div class="t d n" style="left:984.2px;top:627.2px;width:35.1px;height:21.0px;line-height:21.0px;color:#000;"><span class="fit" style="transform:scaleX(0.827)">6323</span></div>
<div class="t d n" style="left:589.3px;top:648.2px;width:35.9px;height:21.0px;line-height:21.0px;color:#000;"><span class="fit" style="transform:scaleX(0.849)">99</span></div>
<div class="t d b n" style="left:625.2px;top:648.2px;width:35.9px;height:21.0px;line-height:21.0px;color:#000090;"><span class="fit" style="transform:scaleX(0.906)">140</span></div>
<div class="t d n" style="left:661.1px;top:648.2px;width:35.9px;height:21.0px;line-height:21.0px;color:#cc2222;"><span class="fit" style="transform:scaleX(0.834)">198</span></div>
<div class="t d n" style="left:697.0px;top:648.2px;width:35.9px;height:21.0px;line-height:21.0px;color:#a81818;"><span class="fit" style="transform:scaleX(0.834)">279</span></div>
<div class="t d n" style="left:732.9px;top:648.2px;width:35.9px;height:21.0px;line-height:21.0px;color:#000;"><span class="fit" style="transform:scaleX(0.834)">395</span></div>
<div class="t d n" style="left:768.8px;top:648.2px;width:35.9px;height:21.0px;line-height:21.0px;color:#000;"><span class="fit" style="transform:scaleX(0.834)">559</span></div>
<div class="t d n" style="left:804.7px;top:648.2px;width:35.9px;height:21.0px;line-height:21.0px;color:#000;"><span class="fit" style="transform:scaleX(0.834)">790</span></div>
<div class="t d n" style="left:840.6px;top:648.2px;width:35.9px;height:21.0px;line-height:21.0px;color:#000;"><span class="fit" style="transform:scaleX(0.886)">1118</span></div>
<div class="t d n" style="left:876.5px;top:648.2px;width:35.9px;height:21.0px;line-height:21.0px;color:#000;"><span class="fit" style="transform:scaleX(0.827)">1581</span></div>
<div class="t d n" style="left:912.4px;top:648.2px;width:35.9px;height:21.0px;line-height:21.0px;color:#000;"><span class="fit" style="transform:scaleX(0.827)">2236</span></div>
<div class="t d n" style="left:948.3px;top:648.2px;width:35.9px;height:21.0px;line-height:21.0px;color:#000;"><span class="fit" style="transform:scaleX(0.827)">3162</span></div>
<div class="t d n" style="left:984.2px;top:648.2px;width:35.1px;height:21.0px;line-height:21.0px;color:#000;"><span class="fit" style="transform:scaleX(0.827)">4471</span></div>
<div class="t d n" style="left:589.3px;top:669.3px;width:35.9px;height:21.0px;line-height:21.0px;color:#000;"><span class="fit" style="transform:scaleX(0.849)">70</span></div>
<div class="t d n" style="left:625.2px;top:669.3px;width:35.9px;height:21.0px;line-height:21.0px;color:#000;"><span class="fit" style="transform:scaleX(0.849)">99</span></div>
<div class="t d b n" style="left:661.1px;top:669.3px;width:35.9px;height:21.0px;line-height:21.0px;color:#000090;"><span class="fit" style="transform:scaleX(0.906)">140</span></div>
<div class="t d n" style="left:697.0px;top:669.3px;width:35.9px;height:21.0px;line-height:21.0px;color:#cc2222;"><span class="fit" style="transform:scaleX(0.834)">198</span></div>
<div class="t d n" style="left:732.9px;top:669.3px;width:35.9px;height:21.0px;line-height:21.0px;color:#a81818;"><span class="fit" style="transform:scaleX(0.834)">279</span></div>
<div class="t d n" style="left:768.8px;top:669.3px;width:35.9px;height:21.0px;line-height:21.0px;color:#000;"><span class="fit" style="transform:scaleX(0.834)">395</span></div>
<div class="t d n" style="left:804.7px;top:669.3px;width:35.9px;height:21.0px;line-height:21.0px;color:#000;"><span class="fit" style="transform:scaleX(0.834)">559</span></div>
<div class="t d n" style="left:840.6px;top:669.3px;width:35.9px;height:21.0px;line-height:21.0px;color:#000;"><span class="fit" style="transform:scaleX(0.834)">790</span></div>
<div class="t d n" style="left:876.5px;top:669.3px;width:35.9px;height:21.0px;line-height:21.0px;color:#000;"><span class="fit" style="transform:scaleX(0.886)">1118</span></div>
<div class="t d n" style="left:912.4px;top:669.3px;width:35.9px;height:21.0px;line-height:21.0px;color:#000;"><span class="fit" style="transform:scaleX(0.827)">1581</span></div>
<div class="t d n" style="left:948.3px;top:669.3px;width:35.9px;height:21.0px;line-height:21.0px;color:#000;"><span class="fit" style="transform:scaleX(0.827)">2236</span></div>
<div class="t d n" style="left:984.2px;top:669.3px;width:35.1px;height:21.0px;line-height:21.0px;color:#000;"><span class="fit" style="transform:scaleX(0.827)">3162</span></div>
<div class="t d n" style="left:589.3px;top:690.3px;width:35.9px;height:21.0px;line-height:21.0px;color:#000;"><span class="fit" style="transform:scaleX(0.849)">49</span></div>
<div class="t d n" style="left:625.2px;top:690.3px;width:35.9px;height:21.0px;line-height:21.0px;color:#000;"><span class="fit" style="transform:scaleX(0.849)">70</span></div>
<div class="t d n" style="left:661.1px;top:690.3px;width:35.9px;height:21.0px;line-height:21.0px;color:#000;"><span class="fit" style="transform:scaleX(0.849)">99</span></div>
<div class="t d b n" style="left:697.0px;top:690.3px;width:35.9px;height:21.0px;line-height:21.0px;color:#000090;"><span class="fit" style="transform:scaleX(0.906)">140</span></div>
<div class="t d n" style="left:732.9px;top:690.3px;width:35.9px;height:21.0px;line-height:21.0px;color:#cc2222;"><span class="fit" style="transform:scaleX(0.834)">198</span></div>
<div class="t d n" style="left:768.8px;top:690.3px;width:35.9px;height:21.0px;line-height:21.0px;color:#a81818;"><span class="fit" style="transform:scaleX(0.834)">279</span></div>
<div class="t d n" style="left:804.7px;top:690.3px;width:35.9px;height:21.0px;line-height:21.0px;color:#000;"><span class="fit" style="transform:scaleX(0.834)">395</span></div>
<div class="t d n" style="left:840.6px;top:690.3px;width:35.9px;height:21.0px;line-height:21.0px;color:#000;"><span class="fit" style="transform:scaleX(0.834)">559</span></div>
<div class="t d n" style="left:876.5px;top:690.3px;width:35.9px;height:21.0px;line-height:21.0px;color:#000;"><span class="fit" style="transform:scaleX(0.834)">790</span></div>
<div class="t d n" style="left:912.4px;top:690.3px;width:35.9px;height:21.0px;line-height:21.0px;color:#000;"><span class="fit" style="transform:scaleX(0.886)">1118</span></div>
<div class="t d n" style="left:948.3px;top:690.3px;width:35.9px;height:21.0px;line-height:21.0px;color:#000;"><span class="fit" style="transform:scaleX(0.827)">1581</span></div>
<div class="t d n" style="left:984.2px;top:690.3px;width:35.1px;height:21.0px;line-height:21.0px;color:#000;"><span class="fit" style="transform:scaleX(0.827)">2236</span></div>
<div class="t d n" style="left:589.3px;top:711.3px;width:35.9px;height:21.0px;line-height:21.0px;color:#000;"><span class="fit" style="transform:scaleX(0.849)">35</span></div>
<div class="t d n" style="left:625.2px;top:711.3px;width:35.9px;height:21.0px;line-height:21.0px;color:#000;"><span class="fit" style="transform:scaleX(0.849)">49</span></div>
<div class="t d n" style="left:661.1px;top:711.3px;width:35.9px;height:21.0px;line-height:21.0px;color:#000;"><span class="fit" style="transform:scaleX(0.849)">70</span></div>
<div class="t d n" style="left:697.0px;top:711.3px;width:35.9px;height:21.0px;line-height:21.0px;color:#000;"><span class="fit" style="transform:scaleX(0.849)">99</span></div>
<div class="t d b n" style="left:732.9px;top:711.3px;width:35.9px;height:21.0px;line-height:21.0px;color:#000090;"><span class="fit" style="transform:scaleX(0.906)">140</span></div>
<div class="t d n" style="left:768.8px;top:711.3px;width:35.9px;height:21.0px;line-height:21.0px;color:#cc2222;"><span class="fit" style="transform:scaleX(0.834)">198</span></div>
<div class="t d n" style="left:804.7px;top:711.3px;width:35.9px;height:21.0px;line-height:21.0px;color:#a81818;"><span class="fit" style="transform:scaleX(0.834)">279</span></div>
<div class="t d n" style="left:840.6px;top:711.3px;width:35.9px;height:21.0px;line-height:21.0px;color:#000;"><span class="fit" style="transform:scaleX(0.834)">395</span></div>
<div class="t d n" style="left:876.5px;top:711.3px;width:35.9px;height:21.0px;line-height:21.0px;color:#000;"><span class="fit" style="transform:scaleX(0.834)">559</span></div>
<div class="t d n" style="left:912.4px;top:711.3px;width:35.9px;height:21.0px;line-height:21.0px;color:#000;"><span class="fit" style="transform:scaleX(0.834)">790</span></div>
<div class="t d n" style="left:948.3px;top:711.3px;width:35.9px;height:21.0px;line-height:21.0px;color:#000;"><span class="fit" style="transform:scaleX(0.886)">1118</span></div>
<div class="t d n" style="left:984.2px;top:711.3px;width:35.1px;height:21.0px;line-height:21.0px;color:#000;"><span class="fit" style="transform:scaleX(0.827)">1581</span></div>
<div class="t d n" style="left:589.3px;top:732.4px;width:35.9px;height:21.0px;line-height:21.0px;color:#000;"><span class="fit" style="transform:scaleX(0.849)">25</span></div>
<div class="t d n" style="left:625.2px;top:732.4px;width:35.9px;height:21.0px;line-height:21.0px;color:#000;"><span class="fit" style="transform:scaleX(0.849)">35</span></div>
<div class="t d n" style="left:661.1px;top:732.4px;width:35.9px;height:21.0px;line-height:21.0px;color:#000;"><span class="fit" style="transform:scaleX(0.849)">49</span></div>
<div class="t d n" style="left:697.0px;top:732.4px;width:35.9px;height:21.0px;line-height:21.0px;color:#000;"><span class="fit" style="transform:scaleX(0.849)">70</span></div>
<div class="t d n" style="left:732.9px;top:732.4px;width:35.9px;height:21.0px;line-height:21.0px;color:#000;"><span class="fit" style="transform:scaleX(0.849)">99</span></div>
<div class="t d b n" style="left:768.8px;top:732.4px;width:35.9px;height:21.0px;line-height:21.0px;color:#000090;"><span class="fit" style="transform:scaleX(0.906)">140</span></div>
<div class="t d n" style="left:804.7px;top:732.4px;width:35.9px;height:21.0px;line-height:21.0px;color:#cc2222;"><span class="fit" style="transform:scaleX(0.834)">198</span></div>
<div class="t d n" style="left:840.6px;top:732.4px;width:35.9px;height:21.0px;line-height:21.0px;color:#a81818;"><span class="fit" style="transform:scaleX(0.834)">279</span></div>
<div class="t d n" style="left:876.5px;top:732.4px;width:35.9px;height:21.0px;line-height:21.0px;color:#000;"><span class="fit" style="transform:scaleX(0.834)">395</span></div>
<div class="t d n" style="left:912.4px;top:732.4px;width:35.9px;height:21.0px;line-height:21.0px;color:#000;"><span class="fit" style="transform:scaleX(0.834)">559</span></div>
<div class="t d n" style="left:948.3px;top:732.4px;width:35.9px;height:21.0px;line-height:21.0px;color:#000;"><span class="fit" style="transform:scaleX(0.834)">790</span></div>
<div class="t d n" style="left:984.2px;top:732.4px;width:35.1px;height:21.0px;line-height:21.0px;color:#000;"><span class="fit" style="transform:scaleX(0.886)">1118</span></div>
<div class="t d n" style="left:589.3px;top:753.4px;width:35.9px;height:21.0px;line-height:21.0px;color:#000;"><span class="fit" style="transform:scaleX(0.849)">17</span></div>
<div class="t d n" style="left:625.2px;top:753.4px;width:35.9px;height:21.0px;line-height:21.0px;color:#000;"><span class="fit" style="transform:scaleX(0.849)">25</span></div>
<div class="t d n" style="left:661.1px;top:753.4px;width:35.9px;height:21.0px;line-height:21.0px;color:#000;"><span class="fit" style="transform:scaleX(0.849)">35</span></div>
<div class="t d n" style="left:697.0px;top:753.4px;width:35.9px;height:21.0px;line-height:21.0px;color:#000;"><span class="fit" style="transform:scaleX(0.849)">49</span></div>
<div class="t d n" style="left:732.9px;top:753.4px;width:35.9px;height:21.0px;line-height:21.0px;color:#000;"><span class="fit" style="transform:scaleX(0.849)">70</span></div>
<div class="t d n" style="left:768.8px;top:753.4px;width:35.9px;height:21.0px;line-height:21.0px;color:#000;"><span class="fit" style="transform:scaleX(0.849)">99</span></div>
<div class="t d b n" style="left:804.7px;top:753.4px;width:35.9px;height:21.0px;line-height:21.0px;color:#000090;"><span class="fit" style="transform:scaleX(0.906)">140</span></div>
<div class="t d n" style="left:840.6px;top:753.4px;width:35.9px;height:21.0px;line-height:21.0px;color:#cc2222;"><span class="fit" style="transform:scaleX(0.834)">198</span></div>
<div class="t d n" style="left:876.5px;top:753.4px;width:35.9px;height:21.0px;line-height:21.0px;color:#a81818;"><span class="fit" style="transform:scaleX(0.834)">279</span></div>
<div class="t d n" style="left:912.4px;top:753.4px;width:35.9px;height:21.0px;line-height:21.0px;color:#000;"><span class="fit" style="transform:scaleX(0.834)">395</span></div>
<div class="t d n" style="left:948.3px;top:753.4px;width:35.9px;height:21.0px;line-height:21.0px;color:#000;"><span class="fit" style="transform:scaleX(0.834)">559</span></div>
<div class="t d n" style="left:984.2px;top:753.4px;width:35.1px;height:21.0px;line-height:21.0px;color:#000;"><span class="fit" style="transform:scaleX(0.834)">790</span></div>
<div class="t d n" style="left:589.3px;top:774.5px;width:35.9px;height:21.0px;line-height:21.0px;color:#000;"><span class="fit" style="transform:scaleX(0.849)">12</span></div>
<div class="t d n" style="left:625.2px;top:774.5px;width:35.9px;height:21.0px;line-height:21.0px;color:#000;"><span class="fit" style="transform:scaleX(0.849)">17</span></div>
<div class="t d n" style="left:661.1px;top:774.5px;width:35.9px;height:21.0px;line-height:21.0px;color:#000;"><span class="fit" style="transform:scaleX(0.849)">25</span></div>
<div class="t d n" style="left:697.0px;top:774.5px;width:35.9px;height:21.0px;line-height:21.0px;color:#000;"><span class="fit" style="transform:scaleX(0.849)">35</span></div>
<div class="t d n" style="left:732.9px;top:774.5px;width:35.9px;height:21.0px;line-height:21.0px;color:#000;"><span class="fit" style="transform:scaleX(0.849)">49</span></div>
<div class="t d n" style="left:768.8px;top:774.5px;width:35.9px;height:21.0px;line-height:21.0px;color:#000;"><span class="fit" style="transform:scaleX(0.849)">70</span></div>
<div class="t d n" style="left:804.7px;top:774.5px;width:35.9px;height:21.0px;line-height:21.0px;color:#000;"><span class="fit" style="transform:scaleX(0.849)">99</span></div>
<div class="t d b n" style="left:840.6px;top:774.5px;width:35.9px;height:21.0px;line-height:21.0px;color:#000090;"><span class="fit" style="transform:scaleX(0.906)">140</span></div>
<div class="t d n" style="left:876.5px;top:774.5px;width:35.9px;height:21.0px;line-height:21.0px;color:#cc2222;"><span class="fit" style="transform:scaleX(0.834)">198</span></div>
<div class="t d n" style="left:912.4px;top:774.5px;width:35.9px;height:21.0px;line-height:21.0px;color:#a81818;"><span class="fit" style="transform:scaleX(0.834)">279</span></div>
<div class="t d n" style="left:948.3px;top:774.5px;width:35.9px;height:21.0px;line-height:21.0px;color:#000;"><span class="fit" style="transform:scaleX(0.834)">395</span></div>
<div class="t d n" style="left:984.2px;top:774.5px;width:35.1px;height:21.0px;line-height:21.0px;color:#000;"><span class="fit" style="transform:scaleX(0.834)">559</span></div>
<div class="t d n" style="left:589.3px;top:795.5px;width:35.9px;height:21.0px;line-height:21.0px;color:#000;"><span class="fit" style="transform:scaleX(0.828)">8.7</span></div>
<div class="t d n" style="left:625.2px;top:795.5px;width:35.9px;height:21.0px;line-height:21.0px;color:#000;"><span class="fit" style="transform:scaleX(0.849)">12</span></div>
<div class="t d n" style="left:661.1px;top:795.5px;width:35.9px;height:21.0px;line-height:21.0px;color:#000;"><span class="fit" style="transform:scaleX(0.849)">17</span></div>
<div class="t d n" style="left:697.0px;top:795.5px;width:35.9px;height:21.0px;line-height:21.0px;color:#000;"><span class="fit" style="transform:scaleX(0.849)">25</span></div>
<div class="t d n" style="left:732.9px;top:795.5px;width:35.9px;height:21.0px;line-height:21.0px;color:#000;"><span class="fit" style="transform:scaleX(0.849)">35</span></div>
<div class="t d n" style="left:768.8px;top:795.5px;width:35.9px;height:21.0px;line-height:21.0px;color:#000;"><span class="fit" style="transform:scaleX(0.849)">49</span></div>
<div class="t d n" style="left:804.7px;top:795.5px;width:35.9px;height:21.0px;line-height:21.0px;color:#000;"><span class="fit" style="transform:scaleX(0.849)">70</span></div>
<div class="t d n" style="left:840.6px;top:795.5px;width:35.9px;height:21.0px;line-height:21.0px;color:#000;"><span class="fit" style="transform:scaleX(0.849)">99</span></div>
<div class="t d b n" style="left:876.5px;top:795.5px;width:35.9px;height:21.0px;line-height:21.0px;color:#000090;"><span class="fit" style="transform:scaleX(0.906)">140</span></div>
<div class="t d n" style="left:912.4px;top:795.5px;width:35.9px;height:21.0px;line-height:21.0px;color:#cc2222;"><span class="fit" style="transform:scaleX(0.834)">198</span></div>
<div class="t d n" style="left:948.3px;top:795.5px;width:35.9px;height:21.0px;line-height:21.0px;color:#a81818;"><span class="fit" style="transform:scaleX(0.834)">279</span></div>
<div class="t d n" style="left:984.2px;top:795.5px;width:35.1px;height:21.0px;line-height:21.0px;color:#000;"><span class="fit" style="transform:scaleX(0.834)">395</span></div>
<div class="t d n" style="left:589.3px;top:816.5px;width:35.9px;height:21.0px;line-height:21.0px;color:#000;"><span class="fit" style="transform:scaleX(0.828)">6.2</span></div>
<div class="t d n" style="left:625.2px;top:816.5px;width:35.9px;height:21.0px;line-height:21.0px;color:#000;"><span class="fit" style="transform:scaleX(0.828)">8.7</span></div>
<div class="t d n" style="left:661.1px;top:816.5px;width:35.9px;height:21.0px;line-height:21.0px;color:#000;"><span class="fit" style="transform:scaleX(0.849)">12</span></div>
<div class="t d n" style="left:697.0px;top:816.5px;width:35.9px;height:21.0px;line-height:21.0px;color:#000;"><span class="fit" style="transform:scaleX(0.849)">17</span></div>
<div class="t d n" style="left:732.9px;top:816.5px;width:35.9px;height:21.0px;line-height:21.0px;color:#000;"><span class="fit" style="transform:scaleX(0.849)">25</span></div>
<div class="t d n" style="left:768.8px;top:816.5px;width:35.9px;height:21.0px;line-height:21.0px;color:#000;"><span class="fit" style="transform:scaleX(0.849)">35</span></div>
<div class="t d n" style="left:804.7px;top:816.5px;width:35.9px;height:21.0px;line-height:21.0px;color:#000;"><span class="fit" style="transform:scaleX(0.849)">49</span></div>
<div class="t d n" style="left:840.6px;top:816.5px;width:35.9px;height:21.0px;line-height:21.0px;color:#000;"><span class="fit" style="transform:scaleX(0.849)">70</span></div>
<div class="t d n" style="left:876.5px;top:816.5px;width:35.9px;height:21.0px;line-height:21.0px;color:#000;"><span class="fit" style="transform:scaleX(0.849)">99</span></div>
<div class="t d b n" style="left:912.4px;top:816.5px;width:35.9px;height:21.0px;line-height:21.0px;color:#000090;"><span class="fit" style="transform:scaleX(0.906)">140</span></div>
<div class="t d n" style="left:948.3px;top:816.5px;width:35.9px;height:21.0px;line-height:21.0px;color:#cc2222;"><span class="fit" style="transform:scaleX(0.834)">198</span></div>
<div class="t d n" style="left:984.2px;top:816.5px;width:35.1px;height:21.0px;line-height:21.0px;color:#a81818;"><span class="fit" style="transform:scaleX(0.834)">279</span></div>
<div class="t d n" style="left:589.3px;top:837.6px;width:35.9px;height:21.0px;line-height:21.0px;color:#000;"><span class="fit" style="transform:scaleX(0.828)">4.4</span></div>
<div class="t d n" style="left:625.2px;top:837.6px;width:35.9px;height:21.0px;line-height:21.0px;color:#000;"><span class="fit" style="transform:scaleX(0.828)">6.2</span></div>
<div class="t d n" style="left:661.1px;top:837.6px;width:35.9px;height:21.0px;line-height:21.0px;color:#000;"><span class="fit" style="transform:scaleX(0.828)">8.7</span></div>
<div class="t d n" style="left:697.0px;top:837.6px;width:35.9px;height:21.0px;line-height:21.0px;color:#000;"><span class="fit" style="transform:scaleX(0.849)">12</span></div>
<div class="t d n" style="left:732.9px;top:837.6px;width:35.9px;height:21.0px;line-height:21.0px;color:#000;"><span class="fit" style="transform:scaleX(0.849)">17</span></div>
<div class="t d n" style="left:768.8px;top:837.6px;width:35.9px;height:21.0px;line-height:21.0px;color:#000;"><span class="fit" style="transform:scaleX(0.849)">25</span></div>
<div class="t d n" style="left:804.7px;top:837.6px;width:35.9px;height:21.0px;line-height:21.0px;color:#000;"><span class="fit" style="transform:scaleX(0.849)">35</span></div>
<div class="t d n" style="left:840.6px;top:837.6px;width:35.9px;height:21.0px;line-height:21.0px;color:#000;"><span class="fit" style="transform:scaleX(0.849)">49</span></div>
<div class="t d n" style="left:876.5px;top:837.6px;width:35.9px;height:21.0px;line-height:21.0px;color:#000;"><span class="fit" style="transform:scaleX(0.849)">70</span></div>
<div class="t d n" style="left:912.4px;top:837.6px;width:35.9px;height:21.0px;line-height:21.0px;color:#000;"><span class="fit" style="transform:scaleX(0.849)">99</span></div>
<div class="t d b n" style="left:948.3px;top:837.6px;width:35.9px;height:21.0px;line-height:21.0px;color:#000090;"><span class="fit" style="transform:scaleX(0.906)">140</span></div>
<div class="t d n" style="left:984.2px;top:837.6px;width:35.1px;height:21.0px;line-height:21.0px;color:#cc2222;"><span class="fit" style="transform:scaleX(0.834)">198</span></div>
<div class="t d n" style="left:589.3px;top:858.6px;width:35.9px;height:21.0px;line-height:21.0px;color:#000;"><span class="fit" style="transform:scaleX(0.828)">3.1</span></div>
<div class="t d n" style="left:625.2px;top:858.6px;width:35.9px;height:21.0px;line-height:21.0px;color:#000;"><span class="fit" style="transform:scaleX(0.828)">4.4</span></div>
<div class="t d n" style="left:661.1px;top:858.6px;width:35.9px;height:21.0px;line-height:21.0px;color:#000;"><span class="fit" style="transform:scaleX(0.828)">6.2</span></div>
<div class="t d n" style="left:697.0px;top:858.6px;width:35.9px;height:21.0px;line-height:21.0px;color:#000;"><span class="fit" style="transform:scaleX(0.828)">8.7</span></div>
<div class="t d n" style="left:732.9px;top:858.6px;width:35.9px;height:21.0px;line-height:21.0px;color:#000;"><span class="fit" style="transform:scaleX(0.849)">12</span></div>
<div class="t d n" style="left:768.8px;top:858.6px;width:35.9px;height:21.0px;line-height:21.0px;color:#000;"><span class="fit" style="transform:scaleX(0.849)">17</span></div>
<div class="t d n" style="left:804.7px;top:858.6px;width:35.9px;height:21.0px;line-height:21.0px;color:#000;"><span class="fit" style="transform:scaleX(0.849)">25</span></div>
<div class="t d n" style="left:840.6px;top:858.6px;width:35.9px;height:21.0px;line-height:21.0px;color:#000;"><span class="fit" style="transform:scaleX(0.849)">35</span></div>
<div class="t d n" style="left:876.5px;top:858.6px;width:35.9px;height:21.0px;line-height:21.0px;color:#000;"><span class="fit" style="transform:scaleX(0.849)">49</span></div>
<div class="t d n" style="left:912.4px;top:858.6px;width:35.9px;height:21.0px;line-height:21.0px;color:#000;"><span class="fit" style="transform:scaleX(0.849)">70</span></div>
<div class="t d n" style="left:948.3px;top:858.6px;width:35.9px;height:21.0px;line-height:21.0px;color:#000;"><span class="fit" style="transform:scaleX(0.849)">99</span></div>
<div class="t d b n" style="left:984.2px;top:858.6px;width:35.1px;height:21.0px;line-height:21.0px;color:#000090;"><span class="fit" style="transform:scaleX(0.906)">140</span></div>
<div class="t d n" style="left:589.3px;top:879.7px;width:35.9px;height:21.0px;line-height:21.0px;color:#000;"><span class="fit" style="transform:scaleX(0.828)">2.2</span></div>
<div class="t d n" style="left:625.2px;top:879.7px;width:35.9px;height:21.0px;line-height:21.0px;color:#000;"><span class="fit" style="transform:scaleX(0.828)">3.1</span></div>
<div class="t d n" style="left:661.1px;top:879.7px;width:35.9px;height:21.0px;line-height:21.0px;color:#000;"><span class="fit" style="transform:scaleX(0.828)">4.4</span></div>
<div class="t d n" style="left:697.0px;top:879.7px;width:35.9px;height:21.0px;line-height:21.0px;color:#000;"><span class="fit" style="transform:scaleX(0.828)">6.2</span></div>
<div class="t d n" style="left:732.9px;top:879.7px;width:35.9px;height:21.0px;line-height:21.0px;color:#000;"><span class="fit" style="transform:scaleX(0.828)">8.7</span></div>
<div class="t d n" style="left:768.8px;top:879.7px;width:35.9px;height:21.0px;line-height:21.0px;color:#000;"><span class="fit" style="transform:scaleX(0.849)">12</span></div>
<div class="t d n" style="left:804.7px;top:879.7px;width:35.9px;height:21.0px;line-height:21.0px;color:#000;"><span class="fit" style="transform:scaleX(0.849)">17</span></div>
<div class="t d n" style="left:840.6px;top:879.7px;width:35.9px;height:21.0px;line-height:21.0px;color:#000;"><span class="fit" style="transform:scaleX(0.849)">25</span></div>
<div class="t d n" style="left:876.5px;top:879.7px;width:35.9px;height:21.0px;line-height:21.0px;color:#000;"><span class="fit" style="transform:scaleX(0.849)">35</span></div>
<div class="t d n" style="left:912.4px;top:879.7px;width:35.9px;height:21.0px;line-height:21.0px;color:#000;"><span class="fit" style="transform:scaleX(0.849)">49</span></div>
<div class="t d n" style="left:948.3px;top:879.7px;width:35.9px;height:21.0px;line-height:21.0px;color:#000;"><span class="fit" style="transform:scaleX(0.849)">70</span></div>
<div class="t d n" style="left:984.2px;top:879.7px;width:35.1px;height:21.0px;line-height:21.0px;color:#000;"><span class="fit" style="transform:scaleX(0.849)">99</span></div>
<div class="t d n" style="left:589.3px;top:900.7px;width:35.9px;height:19.1px;line-height:19.1px;color:#000;"><span class="fit" style="transform:scaleX(0.828)">1.5</span></div>
<div class="t d n" style="left:625.2px;top:900.7px;width:35.9px;height:19.1px;line-height:19.1px;color:#000;"><span class="fit" style="transform:scaleX(0.828)">2.2</span></div>
<div class="t d n" style="left:661.1px;top:900.7px;width:35.9px;height:19.1px;line-height:19.1px;color:#000;"><span class="fit" style="transform:scaleX(0.828)">3.1</span></div>
<div class="t d n" style="left:697.0px;top:900.7px;width:35.9px;height:19.1px;line-height:19.1px;color:#000;"><span class="fit" style="transform:scaleX(0.828)">4.4</span></div>
<div class="t d n" style="left:732.9px;top:900.7px;width:35.9px;height:19.1px;line-height:19.1px;color:#000;"><span class="fit" style="transform:scaleX(0.828)">6.2</span></div>
<div class="t d n" style="left:768.8px;top:900.7px;width:35.9px;height:19.1px;line-height:19.1px;color:#000;"><span class="fit" style="transform:scaleX(0.828)">8.7</span></div>
<div class="t d n" style="left:804.7px;top:900.7px;width:35.9px;height:19.1px;line-height:19.1px;color:#000;"><span class="fit" style="transform:scaleX(0.849)">12</span></div>
<div class="t d n" style="left:840.6px;top:900.7px;width:35.9px;height:19.1px;line-height:19.1px;color:#000;"><span class="fit" style="transform:scaleX(0.849)">17</span></div>
<div class="t d n" style="left:876.5px;top:900.7px;width:35.9px;height:19.1px;line-height:19.1px;color:#000;"><span class="fit" style="transform:scaleX(0.849)">25</span></div>
<div class="t d n" style="left:912.4px;top:900.7px;width:35.9px;height:19.1px;line-height:19.1px;color:#000;"><span class="fit" style="transform:scaleX(0.849)">35</span></div>
<div class="t d n" style="left:948.3px;top:900.7px;width:35.9px;height:19.1px;line-height:19.1px;color:#000;"><span class="fit" style="transform:scaleX(0.849)">49</span></div>
<div class="t d n" style="left:984.2px;top:900.7px;width:35.1px;height:19.1px;line-height:19.1px;color:#000;"><span class="fit" style="transform:scaleX(0.849)">70</span></div>
<div class="t d r" style="left:589.3px;top:500.9px;width:35.9px;height:21.5px;line-height:21.5px;"><span class="fit" style="transform:scaleX(0.901)">116</span></div>
<div class="t dia b" style="left:589.3px;top:522.6px;width:35.9px;height:31.9px;line-height:31.9px;">1</div>
<div class="t d r" style="left:625.2px;top:500.9px;width:35.9px;height:21.5px;line-height:21.5px;"><span class="fit" style="transform:scaleX(0.849)">81.9</span></div>
<div class="t dia" style="left:625.2px;top:522.6px;width:35.9px;height:31.9px;line-height:31.9px;">1.41</div>
<div class="t d r" style="left:661.1px;top:500.9px;width:35.9px;height:21.5px;line-height:21.5px;"><span class="fit" style="transform:scaleX(0.849)">57.9</span></div>
<div class="t dia b" style="left:661.1px;top:522.6px;width:35.9px;height:31.9px;line-height:31.9px;">2</div>
<div class="t d r" style="left:697.0px;top:500.9px;width:35.9px;height:21.5px;line-height:21.5px;"><span class="fit" style="transform:scaleX(0.849)">40.9</span></div>
<div class="t dia" style="left:697.0px;top:522.6px;width:35.9px;height:31.9px;line-height:31.9px;">2.83</div>
<div class="t d r" style="left:732.9px;top:500.9px;width:35.9px;height:21.5px;line-height:21.5px;"><span class="fit" style="transform:scaleX(0.849)">29.0</span></div>
<div class="t dia b" style="left:732.9px;top:522.6px;width:35.9px;height:31.9px;line-height:31.9px;">4</div>
<div class="t d r" style="left:768.8px;top:500.9px;width:35.9px;height:21.5px;line-height:21.5px;"><span class="fit" style="transform:scaleX(0.849)">20.5</span></div>
<div class="t dia" style="left:768.8px;top:522.6px;width:35.9px;height:31.9px;line-height:31.9px;">5.66</div>
<div class="t d r" style="left:804.7px;top:500.9px;width:35.9px;height:21.5px;line-height:21.5px;"><span class="fit" style="transform:scaleX(0.849)">14.5</span></div>
<div class="t dia b" style="left:804.7px;top:522.6px;width:35.9px;height:31.9px;line-height:31.9px;">8</div>
<div class="t d r" style="left:840.6px;top:500.9px;width:35.9px;height:21.5px;line-height:21.5px;"><span class="fit" style="transform:scaleX(0.849)">10.2</span></div>
<div class="t dia" style="left:840.6px;top:522.6px;width:35.9px;height:31.9px;line-height:31.9px;">11.3</div>
<div class="t d r" style="left:876.5px;top:500.9px;width:35.9px;height:21.5px;line-height:21.5px;"><span class="fit" style="transform:scaleX(0.849)">7.24</span></div>
<div class="t dia b" style="left:876.5px;top:522.6px;width:35.9px;height:31.9px;line-height:31.9px;">16</div>
<div class="t d r" style="left:912.4px;top:500.9px;width:35.9px;height:21.5px;line-height:21.5px;"><span class="fit" style="transform:scaleX(0.849)">5.12</span></div>
<div class="t dia" style="left:912.4px;top:522.6px;width:35.9px;height:31.9px;line-height:31.9px;">22.6</div>
<div class="t d r" style="left:948.3px;top:500.9px;width:35.9px;height:21.5px;line-height:21.5px;"><span class="fit" style="transform:scaleX(0.849)">3.62</span></div>
<div class="t dia b" style="left:948.3px;top:522.6px;width:35.9px;height:31.9px;line-height:31.9px;">32</div>
<div class="t d r" style="left:984.2px;top:500.9px;width:35.9px;height:21.5px;line-height:21.5px;"><span class="fit" style="transform:scaleX(0.849)">2.56</span></div>
<div class="t dia" style="left:984.2px;top:522.6px;width:35.9px;height:31.9px;line-height:31.9px;">45.3</div>
<div class="t lab1" style="left:517.5px;top:500.6px;width:70.0px;height:21.5px;line-height:21.5px;"><span class="fit" style="transform:scaleX(0.982)">分解能[秒角]</span></div>
<div class="t lab2" style="left:517.5px;top:522.6px;width:70.0px;height:15.0px;line-height:15.0px;"><span class="fit" style="transform:scaleX(0.923)">有効(<span class="sq">□</span>)径</span></div>
<div class="t lab2" style="left:517.5px;top:536.6px;width:70.0px;height:15.0px;line-height:15.0px;font-size:12px;"><span class="fit" style="transform:scaleX(0.900)">[mm]</span></div>
<div class="t hd" style="left:517.5px;top:557.3px;width:28.7px;height:14.0px;line-height:14.0px;">対角</div>
<div class="t hd" style="left:517.5px;top:569.8px;width:28.7px;height:14.0px;line-height:14.0px;">画角</div>
<div class="t hd2" style="left:548.6px;top:556.3px;width:38.9px;height:15.0px;line-height:15.0px;">換算<b class="f">f</b></div>
<div class="t hd2" style="left:548.6px;top:568.3px;width:38.9px;height:15.0px;line-height:15.0px;">[mm]</div>
<div class="t ang" style="left:520.3px;top:584.6px;width:26.7px;height:20.9px;line-height:20.9px;"><span class="fit" style="transform:scaleX(0.785)">101°</span></div>
<div class="t fv" style="left:548.6px;top:586.1px;width:38.9px;height:20.9px;line-height:20.9px;"><span class="fit" style="transform:scaleX(0.932)">17.7</span></div>
<div class="t ang" style="left:520.3px;top:605.6px;width:26.7px;height:20.9px;line-height:20.9px;"><span class="fit" style="transform:scaleX(0.799)">82°</span></div>
<div class="t fv b" style="left:548.6px;top:607.1px;width:38.9px;height:20.9px;line-height:20.9px;color:#dc2800;font-weight:bold;font-size:14.5px;letter-spacing:0;"><span class="fit" style="transform:scaleX(1.053)">25</span></div>
<div class="t ang" style="left:520.3px;top:626.7px;width:26.7px;height:20.9px;line-height:20.9px;"><span class="fit" style="transform:scaleX(0.799)">63°</span></div>
<div class="t fv" style="left:548.6px;top:628.2px;width:38.9px;height:20.9px;line-height:20.9px;color:#1a1a70;"><span class="fit" style="transform:scaleX(0.989)">35.4</span></div>
<div class="t ang" style="left:520.3px;top:647.7px;width:26.7px;height:20.9px;line-height:20.9px;"><span class="fit" style="transform:scaleX(0.799)">47°</span></div>
<div class="t fv b" style="left:548.6px;top:649.2px;width:38.9px;height:20.9px;line-height:20.9px;"><span class="fit" style="transform:scaleX(1.084)">50</span></div>
<div class="t ang" style="left:520.3px;top:668.8px;width:26.7px;height:20.9px;line-height:20.9px;"><span class="fit" style="transform:scaleX(0.799)">34°</span></div>
<div class="t fv" style="left:548.6px;top:670.3px;width:38.9px;height:20.9px;line-height:20.9px;"><span class="fit" style="transform:scaleX(0.970)">70.7</span></div>
<div class="t ang" style="left:520.3px;top:689.8px;width:26.7px;height:20.9px;line-height:20.9px;"><span class="fit" style="transform:scaleX(0.799)">24°</span></div>
<div class="t fv b" style="left:548.6px;top:691.3px;width:38.9px;height:20.9px;line-height:20.9px;"><span class="fit" style="transform:scaleX(1.074)">100</span></div>
<div class="t ang" style="left:520.3px;top:710.8px;width:26.7px;height:20.9px;line-height:20.9px;"><span class="fit" style="transform:scaleX(0.799)">17°</span></div>
<div class="t fv" style="left:548.6px;top:712.3px;width:38.9px;height:20.9px;line-height:20.9px;"><span class="fit" style="transform:scaleX(1.087)">141</span></div>
<div class="t ang" style="left:520.3px;top:731.9px;width:26.7px;height:20.9px;line-height:20.9px;"><span class="fit" style="transform:scaleX(0.799)">12°</span></div>
<div class="t fv b" style="left:548.6px;top:733.4px;width:38.9px;height:20.9px;line-height:20.9px;"><span class="fit" style="transform:scaleX(1.095)">200</span></div>
<div class="t ang" style="left:520.3px;top:752.9px;width:26.7px;height:20.9px;line-height:20.9px;"><span class="fit" style="transform:scaleX(0.768)">8.7°</span></div>
<div class="t fv" style="left:548.6px;top:754.4px;width:38.9px;height:20.9px;line-height:20.9px;"><span class="fit" style="transform:scaleX(1.132)">283</span></div>
<div class="t ang" style="left:520.3px;top:774.0px;width:26.7px;height:20.9px;line-height:20.9px;"><span class="fit" style="transform:scaleX(0.768)">6.2°</span></div>
<div class="t fv b" style="left:548.6px;top:775.5px;width:38.9px;height:20.9px;line-height:20.9px;"><span class="fit" style="transform:scaleX(1.095)">400</span></div>
<div class="t ang" style="left:520.3px;top:795.0px;width:26.7px;height:20.9px;line-height:20.9px;"><span class="fit" style="transform:scaleX(0.768)">4.4°</span></div>
<div class="t fv" style="left:548.6px;top:796.5px;width:38.9px;height:20.9px;line-height:20.9px;"><span class="fit" style="transform:scaleX(1.132)">566</span></div>
<div class="t ang" style="left:520.3px;top:816.0px;width:26.7px;height:20.9px;line-height:20.9px;"><span class="fit" style="transform:scaleX(0.768)">3.1°</span></div>
<div class="t fv b" style="left:548.6px;top:817.5px;width:38.9px;height:20.9px;line-height:20.9px;"><span class="fit" style="transform:scaleX(1.095)">800</span></div>
<div class="t ang" style="left:520.3px;top:837.1px;width:26.7px;height:20.9px;line-height:20.9px;"><span class="fit" style="transform:scaleX(0.768)">2.2°</span></div>
<div class="t fv" style="left:548.6px;top:838.6px;width:38.9px;height:20.9px;line-height:20.9px;"><span class="fit" style="transform:scaleX(1.033)">1131</span></div>
<div class="t ang" style="left:520.3px;top:858.1px;width:26.7px;height:20.9px;line-height:20.9px;"><span class="fit" style="transform:scaleX(0.768)">1.5°</span></div>
<div class="t fv b" style="left:548.6px;top:859.6px;width:38.9px;height:20.9px;line-height:20.9px;"><span class="fit" style="transform:scaleX(1.023)">1600</span></div>
<div class="t ang" style="left:520.3px;top:879.2px;width:26.7px;height:20.9px;line-height:20.9px;"><span class="fit" style="transform:scaleX(0.768)">1.1°</span></div>
<div class="t fv" style="left:548.6px;top:880.7px;width:38.9px;height:20.9px;line-height:20.9px;"><span class="fit" style="transform:scaleX(1.032)">2263</span></div>
<div class="t ang" style="left:520.3px;top:900.2px;width:26.7px;height:20.9px;line-height:20.9px;"><span class="fit" style="transform:scaleX(0.768)">0.8°</span></div>
<div class="t fv b" style="left:548.6px;top:901.7px;width:38.9px;height:20.9px;line-height:20.9px;"><span class="fit" style="transform:scaleX(1.023)">3200</span></div>
<div class="ttl" style="left:57.0px;top:7.0px;font-size:19px;-webkit-text-stroke:.7px currentColor;"><span class="fit" style="transform:scaleX(0.895)">【</span></div>
<div class="ttl" style="left:73.5px;top:7.0px;font-size:19px;color:#0a14cc;"><span class="fit" style="transform:scaleX(1.000)">フルサイズ</span></div>
<div class="ttl" style="left:167.0px;top:7.0px;font-size:19px;-webkit-text-stroke:.7px currentColor;"><span class="fit" style="transform:scaleX(0.895)">】</span></div>
<div class="ttl" style="left:180.0px;top:7.0px;font-size:19px;-webkit-text-stroke:.7px currentColor;"><span class="fit" style="transform:scaleX(1.026)">分解能</span></div>
<div class="ttl" style="left:239.5px;top:7.0px;font-size:17px;"><span class="fit" style="transform:scaleX(0.853)">と</span></div>
<div class="ttl" style="left:253.0px;top:7.0px;font-size:17px;color:#10106e;"><span class="fit" style="transform:scaleX(1.109)">(有効面の)</span></div>
<div class="ttl" style="left:342.3px;top:7.0px;font-size:19px;-webkit-text-stroke:.7px currentColor;color:#0a0aa8;"><span class="fit" style="transform:scaleX(1.053)">光学解像力</span></div>
<div class="ttl" style="left:569.0px;top:7.0px;font-size:19px;-webkit-text-stroke:.7px currentColor;"><span class="fit" style="transform:scaleX(0.895)">【</span></div>
<div class="ttl" style="left:585.0px;top:7.0px;font-size:19px;color:#0a14cc;"><span class="fit" style="transform:scaleX(0.899)">１／２．３型</span></div>
<div class="ttl" style="left:685.5px;top:7.0px;font-size:19px;-webkit-text-stroke:.7px currentColor;"><span class="fit" style="transform:scaleX(0.895)">】</span></div>
<div class="ttl" style="left:697.0px;top:7.0px;font-size:19px;-webkit-text-stroke:.7px currentColor;"><span class="fit" style="transform:scaleX(1.026)">分解能</span></div>
<div class="ttl" style="left:756.5px;top:7.0px;font-size:17px;"><span class="fit" style="transform:scaleX(0.853)">と</span></div>
<div class="ttl" style="left:770.0px;top:7.0px;font-size:17px;color:#10106e;"><span class="fit" style="transform:scaleX(1.109)">(有効面の)</span></div>
<div class="ttl" style="left:859.3px;top:7.0px;font-size:19px;-webkit-text-stroke:.7px currentColor;color:#0a0aa8;"><span class="fit" style="transform:scaleX(1.053)">光学解像力</span></div>
<div class="ttl" style="left:15.0px;top:473.5px;font-size:19px;-webkit-text-stroke:.7px currentColor;"><span class="fit" style="transform:scaleX(0.947)">【</span></div>
<div class="ttl" style="left:34.5px;top:473.5px;font-size:19px;color:#0a14cc;-webkit-text-stroke:.7px currentColor;"><span class="fit" style="transform:scaleX(0.953)">フルサイズ</span></div>
<div class="ttl" style="left:125.3px;top:473.5px;font-size:19px;-webkit-text-stroke:.7px currentColor;"><span class="fit" style="transform:scaleX(0.947)">】</span></div>
<div class="ttl" style="left:139.0px;top:473.5px;font-size:16px;"><span class="fit" style="transform:scaleX(0.964)">分解能に対して</span></div>
<div class="ttl" style="left:250.5px;top:473.5px;font-size:19px;-webkit-text-stroke:.7px currentColor;"><span class="fit" style="transform:scaleX(0.982)">必要な</span></div>
<div class="ttl" style="left:304.5px;top:473.5px;font-size:18px;color:#10106e;"><span class="fit" style="transform:scaleX(1.037)">レンズ</span></div>
<div class="ttl" style="left:362.0px;top:473.5px;font-size:19px;-webkit-text-stroke:.7px currentColor;color:#10106e;"><span class="fit" style="transform:scaleX(1.009)">解像度</span></div>
<div class="ttl" style="left:420.5px;top:473.5px;font-size:16px;color:#10106e;"><span class="fit" style="transform:scaleX(1.116)">[本/mm]</span></div>
<div class="ttl" style="left:527.5px;top:473.5px;font-size:19px;-webkit-text-stroke:.7px currentColor;"><span class="fit" style="transform:scaleX(0.947)">【</span></div>
<div class="ttl" style="left:544.0px;top:473.5px;font-size:19px;color:#0a14cc;-webkit-text-stroke:.7px currentColor;"><span class="fit" style="transform:scaleX(0.899)">１／２．３型</span></div>
<div class="ttl" style="left:645.5px;top:473.5px;font-size:19px;-webkit-text-stroke:.7px currentColor;"><span class="fit" style="transform:scaleX(0.947)">】</span></div>
<div class="ttl" style="left:656.0px;top:473.5px;font-size:16px;"><span class="fit" style="transform:scaleX(0.964)">分解能に対して</span></div>
<div class="ttl" style="left:767.5px;top:473.5px;font-size:19px;-webkit-text-stroke:.7px currentColor;"><span class="fit" style="transform:scaleX(0.982)">必要な</span></div>
<div class="ttl" style="left:821.5px;top:473.5px;font-size:18px;color:#0a0aa8;"><span class="fit" style="transform:scaleX(1.037)">レンズ</span></div>
<div class="ttl" style="left:879.0px;top:473.5px;font-size:19px;-webkit-text-stroke:.7px currentColor;color:#0a0aa8;"><span class="fit" style="transform:scaleX(1.009)">解像度</span></div>
<div class="ttl" style="left:937.5px;top:473.5px;font-size:16px;color:#10106e;"><span class="fit" style="transform:scaleX(1.116)">[本/mm]</span></div>
</body></html>
